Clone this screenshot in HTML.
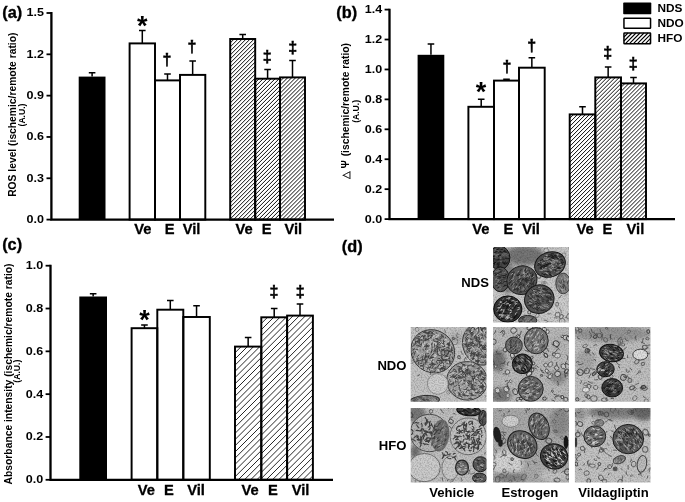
<!DOCTYPE html>
<html><head><meta charset="utf-8"><title>Figure</title>
<style>html,body{margin:0;padding:0;background:#fff}svg{display:block}</style></head><body>
<svg width="685" height="502" viewBox="0 0 685 502" font-family="Liberation Sans, Arial, sans-serif" font-weight="bold" fill="#000">
<defs>
<filter id="grain" x="0" y="0" width="100%" height="100%" color-interpolation-filters="sRGB">
<feTurbulence type="fractalNoise" baseFrequency="0.7" numOctaves="2" seed="7" result="n"/>
<feColorMatrix in="n" type="matrix" values="0 0 0 0 0  0 0 0 0 0  0 0 0 0 0  0.5 0 0 0 -0.2" result="a"/>
<feGaussianBlur in="SourceGraphic" stdDeviation="0.45" result="b"/>
<feComposite in="a" in2="b" operator="over" result="c"/>
<feComposite in="c" in2="SourceGraphic" operator="in"/>
</filter>
<filter id="soft" x="-30%" y="-30%" width="160%" height="160%"><feGaussianBlur stdDeviation="2.2"/></filter>
</defs>
<rect width="685" height="502" fill="#fff"/>
<path d="M92.10 76.60V72.80M88.80 72.80H95.40" stroke="#000" stroke-width="1.5" fill="none"/>
<rect x="78.70" y="76.60" width="26.80" height="143.00" fill="#000"/>
<path d="M142.30 43.40V30.60M139.00 30.60H145.60" stroke="#000" stroke-width="1.5" fill="none"/>
<rect x="129.60" y="43.40" width="25.40" height="176.20" fill="none" stroke="#000" stroke-width="1.95"/>
<path d="M167.50 80.40V74.00M164.20 74.00H170.80" stroke="#000" stroke-width="1.5" fill="none"/>
<rect x="155.00" y="80.40" width="25.00" height="139.20" fill="none" stroke="#000" stroke-width="1.95"/>
<path d="M192.65 74.90V61.00M189.35 61.00H195.95" stroke="#000" stroke-width="1.5" fill="none"/>
<rect x="180.00" y="74.90" width="25.30" height="144.70" fill="none" stroke="#000" stroke-width="1.95"/>
<path d="M242.70 39.00V34.40M239.40 34.40H246.00" stroke="#000" stroke-width="1.5" fill="none"/>
<path d="M230.2 43.0L234.2 39.0M230.2 47.0L238.2 39.0M230.2 51.0L242.2 39.0M230.2 55.0L246.2 39.0M230.2 59.0L250.2 39.0M230.2 63.0L254.2 39.0M230.2 67.0L255.2 42.0M230.2 71.0L255.2 46.0M230.2 75.0L255.2 50.0M230.2 79.0L255.2 54.0M230.2 83.0L255.2 58.0M230.2 87.0L255.2 62.0M230.2 91.0L255.2 66.0M230.2 95.0L255.2 70.0M230.2 99.0L255.2 74.0M230.2 103.0L255.2 78.0M230.2 107.0L255.2 82.0M230.2 111.0L255.2 86.0M230.2 115.0L255.2 90.0M230.2 119.0L255.2 94.0M230.2 123.0L255.2 98.0M230.2 127.0L255.2 102.0M230.2 131.0L255.2 106.0M230.2 135.0L255.2 110.0M230.2 139.0L255.2 114.0M230.2 143.0L255.2 118.0M230.2 147.0L255.2 122.0M230.2 151.0L255.2 126.0M230.2 155.0L255.2 130.0M230.2 159.0L255.2 134.0M230.2 163.0L255.2 138.0M230.2 167.0L255.2 142.0M230.2 171.0L255.2 146.0M230.2 175.0L255.2 150.0M230.2 179.0L255.2 154.0M230.2 183.0L255.2 158.0M230.2 187.0L255.2 162.0M230.2 191.0L255.2 166.0M230.2 195.0L255.2 170.0M230.2 199.0L255.2 174.0M230.2 203.0L255.2 178.0M230.2 207.0L255.2 182.0M230.2 211.0L255.2 186.0M230.2 215.0L255.2 190.0M230.2 219.0L255.2 194.0M233.6 219.6L255.2 198.0M237.6 219.6L255.2 202.0M241.6 219.6L255.2 206.0M245.6 219.6L255.2 210.0M249.6 219.6L255.2 214.0M253.6 219.6L255.2 218.0" stroke="#000" stroke-width="0.95" fill="none"/>
<rect x="230.20" y="39.00" width="25.00" height="180.60" fill="none" stroke="#000" stroke-width="1.95"/>
<path d="M267.60 78.70V69.50M264.30 69.50H270.90" stroke="#000" stroke-width="1.5" fill="none"/>
<path d="M255.2 82.7L259.2 78.7M255.2 86.7L263.2 78.7M255.2 90.7L267.2 78.7M255.2 94.7L271.2 78.7M255.2 98.7L275.2 78.7M255.2 102.7L279.2 78.7M255.2 106.7L280.0 81.9M255.2 110.7L280.0 85.9M255.2 114.7L280.0 89.9M255.2 118.7L280.0 93.9M255.2 122.7L280.0 97.9M255.2 126.7L280.0 101.9M255.2 130.7L280.0 105.9M255.2 134.7L280.0 109.9M255.2 138.7L280.0 113.9M255.2 142.7L280.0 117.9M255.2 146.7L280.0 121.9M255.2 150.7L280.0 125.9M255.2 154.7L280.0 129.9M255.2 158.7L280.0 133.9M255.2 162.7L280.0 137.9M255.2 166.7L280.0 141.9M255.2 170.7L280.0 145.9M255.2 174.7L280.0 149.9M255.2 178.7L280.0 153.9M255.2 182.7L280.0 157.9M255.2 186.7L280.0 161.9M255.2 190.7L280.0 165.9M255.2 194.7L280.0 169.9M255.2 198.7L280.0 173.9M255.2 202.7L280.0 177.9M255.2 206.7L280.0 181.9M255.2 210.7L280.0 185.9M255.2 214.7L280.0 189.9M255.2 218.7L280.0 193.9M258.3 219.6L280.0 197.9M262.3 219.6L280.0 201.9M266.3 219.6L280.0 205.9M270.3 219.6L280.0 209.9M274.3 219.6L280.0 213.9M278.3 219.6L280.0 217.9" stroke="#000" stroke-width="0.95" fill="none"/>
<rect x="255.20" y="78.70" width="24.80" height="140.90" fill="none" stroke="#000" stroke-width="1.95"/>
<path d="M292.50 77.40V60.50M289.20 60.50H295.80" stroke="#000" stroke-width="1.5" fill="none"/>
<path d="M280.0 81.4L284.0 77.4M280.0 85.4L288.0 77.4M280.0 89.4L292.0 77.4M280.0 93.4L296.0 77.4M280.0 97.4L300.0 77.4M280.0 101.4L304.0 77.4M280.0 105.4L305.0 80.4M280.0 109.4L305.0 84.4M280.0 113.4L305.0 88.4M280.0 117.4L305.0 92.4M280.0 121.4L305.0 96.4M280.0 125.4L305.0 100.4M280.0 129.4L305.0 104.4M280.0 133.4L305.0 108.4M280.0 137.4L305.0 112.4M280.0 141.4L305.0 116.4M280.0 145.4L305.0 120.4M280.0 149.4L305.0 124.4M280.0 153.4L305.0 128.4M280.0 157.4L305.0 132.4M280.0 161.4L305.0 136.4M280.0 165.4L305.0 140.4M280.0 169.4L305.0 144.4M280.0 173.4L305.0 148.4M280.0 177.4L305.0 152.4M280.0 181.4L305.0 156.4M280.0 185.4L305.0 160.4M280.0 189.4L305.0 164.4M280.0 193.4L305.0 168.4M280.0 197.4L305.0 172.4M280.0 201.4L305.0 176.4M280.0 205.4L305.0 180.4M280.0 209.4L305.0 184.4M280.0 213.4L305.0 188.4M280.0 217.4L305.0 192.4M281.8 219.6L305.0 196.4M285.8 219.6L305.0 200.4M289.8 219.6L305.0 204.4M293.8 219.6L305.0 208.4M297.8 219.6L305.0 212.4M301.8 219.6L305.0 216.4" stroke="#000" stroke-width="0.95" fill="none"/>
<rect x="280.00" y="77.40" width="25.00" height="142.20" fill="none" stroke="#000" stroke-width="1.95"/>
<path d="M51.4 12.1V219.6H334" stroke="#000" stroke-width="2.3" fill="none"/>
<path d="M46.5 219.60H51.4" stroke="#000" stroke-width="1.8"/>
<text transform="translate(44.00 223.00) scale(1.1 1)" font-size="11.4" text-anchor="end">0.0</text>
<path d="M46.5 178.28H51.4" stroke="#000" stroke-width="1.8"/>
<text transform="translate(44.00 181.68) scale(1.1 1)" font-size="11.4" text-anchor="end">0.3</text>
<path d="M46.5 136.96H51.4" stroke="#000" stroke-width="1.8"/>
<text transform="translate(44.00 140.36) scale(1.1 1)" font-size="11.4" text-anchor="end">0.6</text>
<path d="M46.5 95.64H51.4" stroke="#000" stroke-width="1.8"/>
<text transform="translate(44.00 99.04) scale(1.1 1)" font-size="11.4" text-anchor="end">0.9</text>
<path d="M46.5 54.32H51.4" stroke="#000" stroke-width="1.8"/>
<text transform="translate(44.00 57.72) scale(1.1 1)" font-size="11.4" text-anchor="end">1.2</text>
<path d="M46.5 13.00H51.4" stroke="#000" stroke-width="1.8"/>
<text transform="translate(44.00 16.40) scale(1.1 1)" font-size="11.4" text-anchor="end">1.5</text>
<text x="142.9" y="234.2" font-size="14.7" text-anchor="middle" stroke="#000" stroke-width="0.3">Ve</text>
<text x="169.6" y="234.2" font-size="14.7" text-anchor="middle" stroke="#000" stroke-width="0.3">E</text>
<text x="191.5" y="234.2" font-size="14.7" text-anchor="middle" stroke="#000" stroke-width="0.3">Vil</text>
<text x="244.2" y="234.2" font-size="14.7" text-anchor="middle" stroke="#000" stroke-width="0.3">Ve</text>
<text x="266.6" y="234.2" font-size="14.7" text-anchor="middle" stroke="#000" stroke-width="0.3">E</text>
<text x="293.3" y="234.2" font-size="14.7" text-anchor="middle" stroke="#000" stroke-width="0.3">Vil</text>
<text x="2.3" y="18" font-size="16.3" text-anchor="start" stroke="#000" stroke-width="0.35">(a)</text>
<text transform="translate(16.0 32.6) rotate(-90)" font-size="10.3" text-anchor="end" >ROS level (ischemic/remote ratio)</text>
<text transform="translate(25.0 115) rotate(-90)" font-size="8.6" text-anchor="middle" >(A.U.)</text>
<text x="142.3" y="35.2" font-size="27" text-anchor="middle" >*</text>
<text x="167" y="64.5" font-size="16" text-anchor="middle" stroke="#000" stroke-width="0.5">†</text>
<text x="192" y="51.5" font-size="16" text-anchor="middle" stroke="#000" stroke-width="0.5">†</text>
<text x="267.3" y="61.5" font-size="16" text-anchor="middle" stroke="#000" stroke-width="0.5">‡</text>
<text x="292.7" y="52.5" font-size="16" text-anchor="middle" stroke="#000" stroke-width="0.5">‡</text>
<path d="M430.95 54.80V44.00M427.65 44.00H434.25" stroke="#000" stroke-width="1.5" fill="none"/>
<rect x="417.60" y="54.80" width="26.70" height="164.30" fill="#000"/>
<path d="M481.20 106.80V99.20M477.90 99.20H484.50" stroke="#000" stroke-width="1.5" fill="none"/>
<rect x="468.40" y="106.80" width="25.60" height="112.30" fill="none" stroke="#000" stroke-width="1.95"/>
<path d="M506.50 80.60V79.20M503.20 79.20H509.80" stroke="#000" stroke-width="1.5" fill="none"/>
<rect x="494.00" y="80.60" width="25.00" height="138.50" fill="none" stroke="#000" stroke-width="1.95"/>
<path d="M531.85 67.70V57.80M528.55 57.80H535.15" stroke="#000" stroke-width="1.5" fill="none"/>
<rect x="519.00" y="67.70" width="25.70" height="151.40" fill="none" stroke="#000" stroke-width="1.95"/>
<path d="M582.50 114.40V106.70M579.20 106.70H585.80" stroke="#000" stroke-width="1.5" fill="none"/>
<path d="M569.7 118.4L573.7 114.4M569.7 122.4L577.7 114.4M569.7 126.4L581.7 114.4M569.7 130.4L585.7 114.4M569.7 134.4L589.7 114.4M569.7 138.4L593.7 114.4M569.7 142.4L595.3 116.8M569.7 146.4L595.3 120.8M569.7 150.4L595.3 124.8M569.7 154.4L595.3 128.8M569.7 158.4L595.3 132.8M569.7 162.4L595.3 136.8M569.7 166.4L595.3 140.8M569.7 170.4L595.3 144.8M569.7 174.4L595.3 148.8M569.7 178.4L595.3 152.8M569.7 182.4L595.3 156.8M569.7 186.4L595.3 160.8M569.7 190.4L595.3 164.8M569.7 194.4L595.3 168.8M569.7 198.4L595.3 172.8M569.7 202.4L595.3 176.8M569.7 206.4L595.3 180.8M569.7 210.4L595.3 184.8M569.7 214.4L595.3 188.8M569.7 218.4L595.3 192.8M573.0 219.1L595.3 196.8M577.0 219.1L595.3 200.8M581.0 219.1L595.3 204.8M585.0 219.1L595.3 208.8M589.0 219.1L595.3 212.8M593.0 219.1L595.3 216.8" stroke="#000" stroke-width="0.95" fill="none"/>
<rect x="569.70" y="114.40" width="25.60" height="104.70" fill="none" stroke="#000" stroke-width="1.95"/>
<path d="M608.15 77.40V66.90M604.85 66.90H611.45" stroke="#000" stroke-width="1.5" fill="none"/>
<path d="M595.3 81.4L599.3 77.4M595.3 85.4L603.3 77.4M595.3 89.4L607.3 77.4M595.3 93.4L611.3 77.4M595.3 97.4L615.3 77.4M595.3 101.4L619.3 77.4M595.3 105.4L621.0 79.7M595.3 109.4L621.0 83.7M595.3 113.4L621.0 87.7M595.3 117.4L621.0 91.7M595.3 121.4L621.0 95.7M595.3 125.4L621.0 99.7M595.3 129.4L621.0 103.7M595.3 133.4L621.0 107.7M595.3 137.4L621.0 111.7M595.3 141.4L621.0 115.7M595.3 145.4L621.0 119.7M595.3 149.4L621.0 123.7M595.3 153.4L621.0 127.7M595.3 157.4L621.0 131.7M595.3 161.4L621.0 135.7M595.3 165.4L621.0 139.7M595.3 169.4L621.0 143.7M595.3 173.4L621.0 147.7M595.3 177.4L621.0 151.7M595.3 181.4L621.0 155.7M595.3 185.4L621.0 159.7M595.3 189.4L621.0 163.7M595.3 193.4L621.0 167.7M595.3 197.4L621.0 171.7M595.3 201.4L621.0 175.7M595.3 205.4L621.0 179.7M595.3 209.4L621.0 183.7M595.3 213.4L621.0 187.7M595.3 217.4L621.0 191.7M597.6 219.1L621.0 195.7M601.6 219.1L621.0 199.7M605.6 219.1L621.0 203.7M609.6 219.1L621.0 207.7M613.6 219.1L621.0 211.7M617.6 219.1L621.0 215.7" stroke="#000" stroke-width="0.95" fill="none"/>
<rect x="595.30" y="77.40" width="25.70" height="141.70" fill="none" stroke="#000" stroke-width="1.95"/>
<path d="M633.50 83.40V77.40M630.20 77.40H636.80" stroke="#000" stroke-width="1.5" fill="none"/>
<path d="M621.0 87.4L625.0 83.4M621.0 91.4L629.0 83.4M621.0 95.4L633.0 83.4M621.0 99.4L637.0 83.4M621.0 103.4L641.0 83.4M621.0 107.4L645.0 83.4M621.0 111.4L646.0 86.4M621.0 115.4L646.0 90.4M621.0 119.4L646.0 94.4M621.0 123.4L646.0 98.4M621.0 127.4L646.0 102.4M621.0 131.4L646.0 106.4M621.0 135.4L646.0 110.4M621.0 139.4L646.0 114.4M621.0 143.4L646.0 118.4M621.0 147.4L646.0 122.4M621.0 151.4L646.0 126.4M621.0 155.4L646.0 130.4M621.0 159.4L646.0 134.4M621.0 163.4L646.0 138.4M621.0 167.4L646.0 142.4M621.0 171.4L646.0 146.4M621.0 175.4L646.0 150.4M621.0 179.4L646.0 154.4M621.0 183.4L646.0 158.4M621.0 187.4L646.0 162.4M621.0 191.4L646.0 166.4M621.0 195.4L646.0 170.4M621.0 199.4L646.0 174.4M621.0 203.4L646.0 178.4M621.0 207.4L646.0 182.4M621.0 211.4L646.0 186.4M621.0 215.4L646.0 190.4M621.3 219.1L646.0 194.4M625.3 219.1L646.0 198.4M629.3 219.1L646.0 202.4M633.3 219.1L646.0 206.4M637.3 219.1L646.0 210.4M641.3 219.1L646.0 214.4M645.3 219.1L646.0 218.4" stroke="#000" stroke-width="0.95" fill="none"/>
<rect x="621.00" y="83.40" width="25.00" height="135.70" fill="none" stroke="#000" stroke-width="1.95"/>
<path d="M389.5 8.7V219.1H675" stroke="#000" stroke-width="2.3" fill="none"/>
<path d="M384.6 219.10H389.5" stroke="#000" stroke-width="1.8"/>
<text transform="translate(382.10 222.50) scale(1.1 1)" font-size="11.4" text-anchor="end">0.0</text>
<path d="M384.6 189.17H389.5" stroke="#000" stroke-width="1.8"/>
<text transform="translate(382.10 192.57) scale(1.1 1)" font-size="11.4" text-anchor="end">0.2</text>
<path d="M384.6 159.24H389.5" stroke="#000" stroke-width="1.8"/>
<text transform="translate(382.10 162.64) scale(1.1 1)" font-size="11.4" text-anchor="end">0.4</text>
<path d="M384.6 129.31H389.5" stroke="#000" stroke-width="1.8"/>
<text transform="translate(382.10 132.71) scale(1.1 1)" font-size="11.4" text-anchor="end">0.6</text>
<path d="M384.6 99.39H389.5" stroke="#000" stroke-width="1.8"/>
<text transform="translate(382.10 102.79) scale(1.1 1)" font-size="11.4" text-anchor="end">0.8</text>
<path d="M384.6 69.46H389.5" stroke="#000" stroke-width="1.8"/>
<text transform="translate(382.10 72.86) scale(1.1 1)" font-size="11.4" text-anchor="end">1.0</text>
<path d="M384.6 39.53H389.5" stroke="#000" stroke-width="1.8"/>
<text transform="translate(382.10 42.93) scale(1.1 1)" font-size="11.4" text-anchor="end">1.2</text>
<path d="M384.6 9.60H389.5" stroke="#000" stroke-width="1.8"/>
<text transform="translate(382.10 13.00) scale(1.1 1)" font-size="11.4" text-anchor="end">1.4</text>
<text x="480.8" y="234.2" font-size="14.7" text-anchor="middle" stroke="#000" stroke-width="0.3">Ve</text>
<text x="508.4" y="234.2" font-size="14.7" text-anchor="middle" stroke="#000" stroke-width="0.3">E</text>
<text x="531" y="234.2" font-size="14.7" text-anchor="middle" stroke="#000" stroke-width="0.3">Vil</text>
<text x="585.2" y="234.2" font-size="14.7" text-anchor="middle" stroke="#000" stroke-width="0.3">Ve</text>
<text x="607.4" y="234.2" font-size="14.7" text-anchor="middle" stroke="#000" stroke-width="0.3">E</text>
<text x="635.4" y="234.2" font-size="14.7" text-anchor="middle" stroke="#000" stroke-width="0.3">Vil</text>
<text x="336.3" y="18" font-size="16.3" text-anchor="start" stroke="#000" stroke-width="0.35">(b)</text>
<text transform="translate(349.4 43) rotate(-90)" font-size="10.3" text-anchor="end" ><tspan font-size="9.5" font-weight="normal" stroke="#000" stroke-width="0.25">△</tspan><tspan dx="2.6">Ψ</tspan><tspan dx="1"> (ischemic/remote ratio)</tspan></text>
<text transform="translate(358.9 111.4) rotate(-90)" font-size="8.6" text-anchor="middle" >(A.U.)</text>
<text x="481" y="101.0" font-size="27" text-anchor="middle" >*</text>
<text x="507" y="71.5" font-size="16" text-anchor="middle" stroke="#000" stroke-width="0.5">†</text>
<text x="531.8" y="50.5" font-size="16" text-anchor="middle" stroke="#000" stroke-width="0.5">†</text>
<text x="607.6" y="58.1" font-size="16" text-anchor="middle" stroke="#000" stroke-width="0.5">‡</text>
<text x="633.2" y="69.0" font-size="16" text-anchor="middle" stroke="#000" stroke-width="0.5">‡</text>
<rect x="623.2" y="2.6" width="28.1" height="11.7" rx="0.8" fill="#000"/>
<rect x="623.95" y="18.15" width="26.6" height="10.2" rx="0.5" fill="#fff" stroke="#000" stroke-width="1.5"/>
<path d="M624.0 37.0L628.0 33.0M624.0 41.0L632.0 33.0M625.2 43.8L636.0 33.0M629.2 43.8L640.0 33.0M633.2 43.8L644.0 33.0M637.2 43.8L648.0 33.0M641.2 43.8L650.5 34.4M645.2 43.8L650.5 38.4M649.2 43.8L650.5 42.4" stroke="#000" stroke-width="1.1" fill="none"/>
<rect x="623.95" y="32.95" width="26.6" height="10.8" rx="0.5" fill="none" stroke="#000" stroke-width="1.5"/>
<text x="657.5" y="12.3" font-size="11.8" text-anchor="start" >NDS</text>
<text x="657.5" y="26.9" font-size="11.8" text-anchor="start" >NDO</text>
<text x="657.5" y="41.5" font-size="11.8" text-anchor="start" >HFO</text>
<path d="M93.15 296.50V293.80M89.85 293.80H96.45" stroke="#000" stroke-width="1.5" fill="none"/>
<rect x="79.30" y="296.50" width="27.70" height="183.30" fill="#000"/>
<path d="M144.45 328.20V325.00M141.15 325.00H147.75" stroke="#000" stroke-width="1.5" fill="none"/>
<rect x="131.60" y="328.20" width="25.70" height="151.60" fill="none" stroke="#000" stroke-width="1.95"/>
<path d="M170.30 309.70V300.50M167.00 300.50H173.60" stroke="#000" stroke-width="1.5" fill="none"/>
<rect x="157.30" y="309.70" width="26.00" height="170.10" fill="none" stroke="#000" stroke-width="1.95"/>
<path d="M196.55 317.00V305.70M193.25 305.70H199.85" stroke="#000" stroke-width="1.5" fill="none"/>
<rect x="183.30" y="317.00" width="26.50" height="162.80" fill="none" stroke="#000" stroke-width="1.95"/>
<path d="M248.15 346.60V337.50M244.85 337.50H251.45" stroke="#000" stroke-width="1.5" fill="none"/>
<path d="M235.0 352.8L241.2 346.6M235.0 359.0L247.4 346.6M235.0 365.2L253.6 346.6M235.0 371.4L259.8 346.6M235.0 377.6L261.3 351.3M235.0 383.8L261.3 357.5M235.0 390.0L261.3 363.7M235.0 396.2L261.3 369.9M235.0 402.4L261.3 376.1M235.0 408.6L261.3 382.3M235.0 414.8L261.3 388.5M235.0 421.0L261.3 394.7M235.0 427.2L261.3 400.9M235.0 433.4L261.3 407.1M235.0 439.6L261.3 413.3M235.0 445.8L261.3 419.5M235.0 452.0L261.3 425.7M235.0 458.2L261.3 431.9M235.0 464.4L261.3 438.1M235.0 470.6L261.3 444.3M235.0 476.8L261.3 450.5M238.2 479.8L261.3 456.7M244.4 479.8L261.3 462.9M250.6 479.8L261.3 469.1M256.8 479.8L261.3 475.3" stroke="#000" stroke-width="0.85" fill="none"/>
<rect x="235.00" y="346.60" width="26.30" height="133.20" fill="none" stroke="#000" stroke-width="1.95"/>
<path d="M274.20 317.30V308.40M270.90 308.40H277.50" stroke="#000" stroke-width="1.5" fill="none"/>
<path d="M261.3 323.5L267.5 317.3M261.3 329.7L273.7 317.3M261.3 335.9L279.9 317.3M261.3 342.1L286.1 317.3M261.3 348.3L287.1 322.5M261.3 354.5L287.1 328.7M261.3 360.7L287.1 334.9M261.3 366.9L287.1 341.1M261.3 373.1L287.1 347.3M261.3 379.3L287.1 353.5M261.3 385.5L287.1 359.7M261.3 391.7L287.1 365.9M261.3 397.9L287.1 372.1M261.3 404.1L287.1 378.3M261.3 410.3L287.1 384.5M261.3 416.5L287.1 390.7M261.3 422.7L287.1 396.9M261.3 428.9L287.1 403.1M261.3 435.1L287.1 409.3M261.3 441.3L287.1 415.5M261.3 447.5L287.1 421.7M261.3 453.7L287.1 427.9M261.3 459.9L287.1 434.1M261.3 466.1L287.1 440.3M261.3 472.3L287.1 446.5M261.3 478.5L287.1 452.7M266.2 479.8L287.1 458.9M272.4 479.8L287.1 465.1M278.6 479.8L287.1 471.3M284.8 479.8L287.1 477.5" stroke="#000" stroke-width="0.85" fill="none"/>
<rect x="261.30" y="317.30" width="25.80" height="162.50" fill="none" stroke="#000" stroke-width="1.95"/>
<path d="M300.00 315.60V304.00M296.70 304.00H303.30" stroke="#000" stroke-width="1.5" fill="none"/>
<path d="M287.1 321.8L293.3 315.6M287.1 328.0L299.5 315.6M287.1 334.2L305.7 315.6M287.1 340.4L311.9 315.6M287.1 346.6L312.9 320.8M287.1 352.8L312.9 327.0M287.1 359.0L312.9 333.2M287.1 365.2L312.9 339.4M287.1 371.4L312.9 345.6M287.1 377.6L312.9 351.8M287.1 383.8L312.9 358.0M287.1 390.0L312.9 364.2M287.1 396.2L312.9 370.4M287.1 402.4L312.9 376.6M287.1 408.6L312.9 382.8M287.1 414.8L312.9 389.0M287.1 421.0L312.9 395.2M287.1 427.2L312.9 401.4M287.1 433.4L312.9 407.6M287.1 439.6L312.9 413.8M287.1 445.8L312.9 420.0M287.1 452.0L312.9 426.2M287.1 458.2L312.9 432.4M287.1 464.4L312.9 438.6M287.1 470.6L312.9 444.8M287.1 476.8L312.9 451.0M290.3 479.8L312.9 457.2M296.5 479.8L312.9 463.4M302.7 479.8L312.9 469.6M308.9 479.8L312.9 475.8" stroke="#000" stroke-width="0.85" fill="none"/>
<rect x="287.10" y="315.60" width="25.80" height="164.20" fill="none" stroke="#000" stroke-width="1.95"/>
<path d="M50.5 264.8V479.8H333" stroke="#000" stroke-width="2.3" fill="none"/>
<path d="M45.6 479.80H50.5" stroke="#000" stroke-width="1.8"/>
<text transform="translate(43.10 483.20) scale(1.1 1)" font-size="11.4" text-anchor="end">0.0</text>
<path d="M45.6 436.98H50.5" stroke="#000" stroke-width="1.8"/>
<text transform="translate(43.10 440.38) scale(1.1 1)" font-size="11.4" text-anchor="end">0.2</text>
<path d="M45.6 394.16H50.5" stroke="#000" stroke-width="1.8"/>
<text transform="translate(43.10 397.56) scale(1.1 1)" font-size="11.4" text-anchor="end">0.4</text>
<path d="M45.6 351.34H50.5" stroke="#000" stroke-width="1.8"/>
<text transform="translate(43.10 354.74) scale(1.1 1)" font-size="11.4" text-anchor="end">0.6</text>
<path d="M45.6 308.52H50.5" stroke="#000" stroke-width="1.8"/>
<text transform="translate(43.10 311.92) scale(1.1 1)" font-size="11.4" text-anchor="end">0.8</text>
<path d="M45.6 265.70H50.5" stroke="#000" stroke-width="1.8"/>
<text transform="translate(43.10 269.10) scale(1.1 1)" font-size="11.4" text-anchor="end">1.0</text>
<text x="146.3" y="495.2" font-size="14.7" text-anchor="middle" stroke="#000" stroke-width="0.3">Ve</text>
<text x="168.8" y="495.2" font-size="14.7" text-anchor="middle" stroke="#000" stroke-width="0.3">E</text>
<text x="196" y="495.2" font-size="14.7" text-anchor="middle" stroke="#000" stroke-width="0.3">Vil</text>
<text x="250" y="495.2" font-size="14.7" text-anchor="middle" stroke="#000" stroke-width="0.3">Ve</text>
<text x="272.8" y="495.2" font-size="14.7" text-anchor="middle" stroke="#000" stroke-width="0.3">E</text>
<text x="300.5" y="495.2" font-size="14.7" text-anchor="middle" stroke="#000" stroke-width="0.3">Vil</text>
<text x="2.2" y="249.5" font-size="16.3" text-anchor="start" stroke="#000" stroke-width="0.35">(c)</text>
<text transform="translate(11.5 263.5) rotate(-90)" font-size="10.3" text-anchor="end" >Absorbance intensity (ischemic/remote ratio)</text>
<text transform="translate(19.7 371.2) rotate(-90)" font-size="8.6" text-anchor="middle" >(A.U.)</text>
<text x="144.5" y="329.0" font-size="27" text-anchor="middle" >*</text>
<text x="274" y="296.5" font-size="16" text-anchor="middle" stroke="#000" stroke-width="0.5">‡</text>
<text x="300.2" y="296.5" font-size="16" text-anchor="middle" stroke="#000" stroke-width="0.5">‡</text>
<text x="341.8" y="252" font-size="16.3" text-anchor="start" stroke="#000" stroke-width="0.35">(d)</text>
<clipPath id="c0"><rect x="493" y="247" width="76.00" height="75.50"/></clipPath>
<g clip-path="url(#c0)" filter="url(#grain)">
<rect x="492" y="246" width="78.00" height="77.50" fill="#c8c8c8"/>
<ellipse cx="524.4" cy="255.4" rx="19.8" ry="9.9" fill="#767676" transform="rotate(0 524.4 255.4)" filter="url(#soft)"/>
<ellipse cx="507.8" cy="276.1" rx="6.6" ry="18.2" fill="#828282" transform="rotate(0 507.8 276.1)" filter="url(#soft)"/>
<ellipse cx="560.8" cy="309.1" rx="9.9" ry="13.2" fill="#cdcdcd" transform="rotate(0 560.8 309.1)" filter="url(#soft)"/>
<ellipse cx="557.2" cy="304.2" rx="2.0" ry="1.4" transform="rotate(92 557.2 304.2)" fill="none" stroke="#737373" stroke-width="1.01"/>
<ellipse cx="537.3" cy="315.6" rx="2.2" ry="1.6" transform="rotate(136 537.3 315.6)" fill="none" stroke="#7e7e7e" stroke-width="0.80"/>
<ellipse cx="562.1" cy="321.2" rx="2.8" ry="2.7" transform="rotate(56 562.1 321.2)" fill="none" stroke="#838383" stroke-width="1.06"/>
<ellipse cx="545.0" cy="282.6" rx="1.4" ry="1.1" transform="rotate(110 545.0 282.6)" fill="none" stroke="#8d8d8d" stroke-width="1.09"/>
<ellipse cx="529.3" cy="312.3" rx="1.7" ry="1.6" transform="rotate(99 529.3 312.3)" fill="none" stroke="#606060" stroke-width="0.99"/>
<ellipse cx="523.3" cy="309.3" rx="2.5" ry="1.5" transform="rotate(89 523.3 309.3)" fill="none" stroke="#8a8a8a" stroke-width="0.80"/>
<ellipse cx="507.5" cy="289.8" rx="1.7" ry="1.7" transform="rotate(145 507.5 289.8)" fill="none" stroke="#757575" stroke-width="0.73"/>
<ellipse cx="563.9" cy="255.2" rx="2.3" ry="2.0" transform="rotate(99 563.9 255.2)" fill="none" stroke="#888888" stroke-width="0.92"/>
<ellipse cx="538.3" cy="276.1" rx="2.4" ry="1.7" transform="rotate(34 538.3 276.1)" fill="none" stroke="#686868" stroke-width="0.95"/>
<ellipse cx="542.9" cy="283.0" rx="1.4" ry="1.2" transform="rotate(158 542.9 283.0)" fill="none" stroke="#8d8d8d" stroke-width="1.04"/>
<ellipse cx="561.3" cy="316.7" rx="2.3" ry="1.7" transform="rotate(127 561.3 316.7)" fill="none" stroke="#6d6d6d" stroke-width="1.02"/>
<ellipse cx="557.6" cy="314.6" rx="2.4" ry="2.3" transform="rotate(104 557.6 314.6)" fill="none" stroke="#767676" stroke-width="0.96"/>
<ellipse cx="568.7" cy="316.2" rx="2.8" ry="1.8" transform="rotate(110 568.7 316.2)" fill="none" stroke="#777777" stroke-width="0.95"/>
<ellipse cx="546.0" cy="250.4" rx="2.3" ry="2.3" transform="rotate(96 546.0 250.4)" fill="none" stroke="#818181" stroke-width="0.71"/>
<path d="M553.9 317.7Q553.9 317.0 557.1 318.2M519.6 260.6Q517.0 262.5 517.5 260.6M544.1 320.0Q547.4 320.1 547.9 321.4M526.6 260.2Q525.3 260.5 523.4 260.8M535.6 247.9Q533.7 245.6 535.4 244.9M518.4 265.1Q518.9 264.2 516.4 262.7M546.3 278.6Q545.6 276.7 545.2 276.8M550.4 313.7Q548.8 315.0 547.5 313.8M559.5 308.3Q561.0 309.0 561.4 313.0M548.1 321.5Q545.8 321.5 544.9 323.8M547.5 247.2Q546.7 244.0 549.1 244.0M523.1 253.1Q524.1 256.2 522.6 256.5M564.9 317.9Q566.8 318.1 566.7 316.7M561.6 295.3Q559.2 297.0 559.1 297.9" fill="none" stroke="#696969" stroke-width="0.8" stroke-linecap="round"/>
<g transform="rotate(0 499.6 257.9)">
<ellipse cx="499.6" cy="257.9" rx="10.3" ry="11.9" fill="#484848" stroke="#141414" stroke-width="1.0"/>
<path d="M497.8 251.5L500.2 251.0M493.3 253.6L495.1 253.5M504.4 251.4L506.1 252.3M503.7 262.3L504.7 261.9M500.3 261.7L501.9 261.1M493.5 262.6L495.3 263.5M496.4 254.8L499.3 254.3M500.3 256.1L501.7 255.5M494.7 249.5L497.5 249.6M493.1 254.1L495.4 255.1M499.4 248.1L501.4 247.5M502.4 251.6L504.0 252.2M495.1 257.7L497.5 256.4M497.7 264.1L498.8 264.5M494.2 261.4L496.4 262.5M493.8 263.9L496.6 264.0M492.7 259.6L493.9 259.3M493.9 251.6L496.5 250.4M505.2 255.0L507.7 256.4M495.9 255.8L498.2 254.6M499.0 256.2L501.5 257.7M502.7 255.0L504.9 254.2M500.1 258.5L501.2 258.4M502.0 254.5L503.5 253.7M502.4 257.7L503.7 257.9M507.0 254.8L508.5 254.5M501.7 259.2L503.8 259.0M496.6 249.4L498.4 249.4M497.4 250.2L498.7 249.4M502.7 255.9L504.3 255.8M493.3 254.2L495.2 254.4M497.2 254.9L498.9 255.4M504.2 253.8L506.6 253.7" stroke="#7a7a7a" stroke-width="0.7" fill="none" stroke-linecap="round"/>
<path d="M502.5 262.7L504.8 263.6M498.3 256.5L501.0 255.3M494.4 262.5L496.3 262.1M503.1 259.2L504.3 259.2M496.9 263.7L499.4 262.4M498.1 255.9L500.3 254.7M505.1 258.2L507.0 258.3M499.0 266.9L500.8 266.8M496.8 264.4L499.2 264.4M503.3 251.3L505.8 252.1M506.7 262.7L507.9 262.0M507.6 258.8L508.9 258.6M504.3 250.5L505.2 250.7M502.9 261.8L503.9 262.3M498.1 259.3L499.4 259.3M494.4 252.4L496.3 251.5M491.8 256.8L494.2 255.9M499.8 251.0L500.9 251.4M500.9 249.5L502.5 249.4M493.6 261.3L496.1 262.8M505.9 263.1L506.9 263.5M501.6 259.2L502.7 259.0M497.3 267.4L499.2 268.7M498.1 264.3L499.2 263.7M503.2 263.1L504.3 263.3M493.7 265.2L495.3 264.3M498.9 252.1L500.4 251.6M495.6 260.0L498.5 259.9M492.7 259.8L494.1 259.8M495.1 252.4L497.3 251.5M496.2 249.8L498.6 249.1M502.6 257.5L503.6 258.0M492.9 256.6L494.1 256.5M498.0 266.6L499.9 267.7M500.9 252.4L502.9 252.1M493.2 263.0L494.7 263.6M504.2 264.3L506.1 264.0M492.3 259.1L494.6 258.7M497.2 266.3L499.2 265.2M491.4 259.6L493.1 258.5M504.5 251.6L506.7 252.3M497.2 249.6L499.6 248.8M504.3 262.2L505.6 261.9M493.5 263.8L494.9 263.6" stroke="#111111" stroke-width="0.8" fill="none" stroke-linecap="round"/>
</g>
<g transform="rotate(0 500.4 279.4)">
<ellipse cx="500.4" cy="279.4" rx="9.1" ry="12.4" fill="#565656" stroke="#1a1a1a" stroke-width="1.0"/>
<path d="M501.1 281.7L499.8 281.8M495.4 273.6L493.9 273.8M497.2 285.1L495.2 285.2M506.7 279.6L504.6 281.1M497.1 278.7L495.1 279.9M504.9 275.9L503.5 277.1M505.6 271.9L503.9 272.7M499.8 270.8L497.8 270.5M497.4 271.4L496.0 271.4M500.8 287.0L499.3 287.0M499.3 278.5L497.9 279.6M498.2 279.2L495.7 278.8M494.5 275.6L492.4 276.9M500.7 273.1L498.4 273.2M499.0 281.1L497.2 282.8M498.4 274.2L496.4 274.9M501.4 287.9L500.5 288.6M498.3 282.9L495.6 284.0M496.7 284.0L494.9 284.9M500.1 279.8L497.9 281.4M500.1 275.3L497.6 276.3M500.4 281.0L499.1 280.7M499.1 275.4L496.9 277.2M499.5 272.7L498.5 272.9M499.0 274.9L497.4 275.2M503.9 278.5L502.3 278.7M502.8 272.1L501.2 271.4M503.3 279.4L502.4 280.3M505.5 277.0L503.1 276.1M500.3 274.8L498.5 275.0M500.0 285.0L497.1 285.9M506.0 276.9L503.8 277.5M500.5 280.7L497.7 281.1M502.7 271.0L501.5 270.5M506.0 275.7L504.6 275.2M500.4 288.7L498.0 289.5" stroke="#888888" stroke-width="0.7" fill="none" stroke-linecap="round"/>
<path d="M498.9 278.2L497.5 278.6M507.6 276.5L505.6 275.8M499.4 274.6L498.4 275.1M505.2 278.2L503.4 277.5M506.3 285.4L504.7 285.1M499.8 281.0L498.5 282.2M500.0 277.2L498.9 276.8M500.1 277.1L497.2 276.5M502.0 281.4L500.1 283.0M501.1 277.5L499.5 278.6M499.1 287.0L497.8 287.9M495.9 274.6L494.6 275.3M500.9 276.1L499.4 276.0M504.9 285.3L503.0 286.8M499.7 283.7L497.6 283.3M506.0 285.5L504.3 285.8M504.1 279.8L501.7 279.8M505.6 277.2L503.1 278.3M497.5 285.3L495.2 285.1M501.1 280.7L500.0 280.7M498.3 272.7L496.3 274.6M496.6 274.4L494.8 275.7M502.7 270.8L500.6 272.8M504.0 282.5L502.8 283.3M500.0 272.6L498.2 273.5M501.3 271.4L499.1 272.5M506.7 281.3L504.2 281.5M505.7 275.7L503.4 275.5M506.8 274.3L504.5 275.3M501.9 283.3L500.6 283.3M505.8 276.8L502.9 277.2M501.8 270.1L499.4 269.5M496.2 273.2L493.8 273.7M503.6 275.9L500.9 274.9M501.3 271.1L500.5 271.8" stroke="#1f1f1f" stroke-width="0.8" fill="none" stroke-linecap="round"/>
</g>
<g transform="rotate(-25 521.9 280.2)">
<ellipse cx="521.9" cy="280.2" rx="15.2" ry="14.1" fill="#5a5a5a" stroke="#1e1e1e" stroke-width="1.0"/>
<path d="M523.5 284.0L522.5 284.5M529.1 270.5L527.0 272.4M521.1 290.3L520.1 291.4M512.9 275.3L511.8 277.5M526.0 286.1L524.1 286.8M514.9 283.4L512.7 284.8M528.7 282.8L527.8 283.5M511.1 276.0L510.2 276.7M529.4 272.0L527.9 272.2M531.1 275.6L529.3 277.7M528.3 274.5L527.1 274.6M534.5 281.2L533.7 282.8M522.6 276.2L520.3 277.2M527.5 274.7L525.1 274.7M525.9 286.2L524.2 287.5M519.9 288.6L518.3 288.6M523.0 270.7L521.6 271.0M531.7 284.9L529.3 285.7M516.8 278.6L515.9 279.7M525.2 273.7L522.7 273.8M531.4 272.0L529.3 273.9M532.0 280.5L529.2 281.3M518.5 271.0L517.0 272.8M530.2 286.7L528.6 287.3M512.3 282.9L511.0 284.4M530.6 276.0L529.4 276.1M526.6 277.8L523.9 278.2M526.7 280.8L524.5 282.5M513.1 279.9L512.1 280.5M511.4 280.8L510.3 281.5M528.2 273.3L526.3 273.8M527.6 275.3L526.7 276.1M529.3 276.2L528.0 277.4M528.1 285.0L526.6 286.2M531.6 278.9L529.5 279.8M526.7 276.6L523.8 276.5M521.6 274.8L520.4 277.4M524.9 272.7L523.0 274.3M520.7 289.4L518.1 290.1M515.5 273.0L514.0 275.5M514.6 282.2L513.2 283.2M522.8 286.6L520.8 287.3M531.2 278.5L530.4 279.9M516.0 269.8L515.4 270.7M524.8 287.3L522.3 287.7M531.7 275.5L530.0 276.2M517.0 269.9L515.2 270.3M514.6 277.7L513.1 278.7M527.0 273.4L525.6 275.5M529.8 278.0L528.0 279.2M521.4 278.5L519.7 280.6M527.8 274.7L527.2 275.5M528.8 287.5L527.3 288.5M512.1 284.2L509.6 284.1M517.5 286.4L516.1 286.6M533.9 281.8L532.7 282.9M515.5 275.1L514.4 275.3M509.9 278.8L508.1 279.6M523.4 273.2L521.3 274.3M517.5 269.1L515.7 270.4M518.0 285.3L516.3 285.2M529.2 273.1L527.7 274.5" stroke="#a0a0a0" stroke-width="0.7" fill="none" stroke-linecap="round"/>
<path d="M529.6 287.5L528.8 288.2M519.3 279.9L517.7 280.6M522.5 273.9L520.5 274.6M520.8 283.0L520.1 284.0M514.7 272.0L513.5 274.3M511.3 276.7L508.6 277.7M518.7 278.4L516.3 279.6M527.1 280.2L525.0 280.3M531.4 284.4L530.2 285.3M510.5 277.3L508.5 279.0M534.0 279.3L533.1 280.7M521.7 278.5L520.3 278.6M520.0 273.2L518.9 273.3M524.9 287.2L523.9 288.0M526.4 288.7L525.5 289.1M510.4 276.4L509.4 277.0M531.7 286.4L529.6 288.4M534.1 282.6L532.6 283.2M518.2 283.6L517.0 284.2M530.5 277.4L528.1 277.5M522.3 286.6L521.5 287.8M523.7 280.2L521.7 280.5M520.4 281.6L518.0 283.2M522.0 284.7L520.2 285.7M513.0 285.6L511.2 285.5M515.8 281.2L514.0 282.7M520.6 281.5L518.8 282.2M529.1 281.9L526.2 282.4M524.0 278.4L523.0 278.6M526.3 288.5L524.7 290.1M512.1 284.4L510.4 286.2M528.8 287.2L527.7 288.7M519.6 283.8L516.9 283.7M530.0 271.5L528.5 272.9M517.7 269.3L515.2 269.2M534.6 277.5L532.3 277.9M534.2 281.0L532.3 281.2M511.8 279.2L510.2 281.1M532.8 274.4L531.7 276.2M528.4 289.6L527.1 289.8M529.4 283.4L527.2 283.3M522.5 284.2L521.0 286.4M529.7 271.9L528.5 273.7M530.8 276.4L529.1 276.6M528.1 280.4L526.5 280.6M530.7 284.5L529.5 285.8M522.2 274.4L519.7 274.4M514.4 285.2L512.4 286.4M534.1 279.7L532.7 280.6M518.3 285.2L516.5 287.5M514.6 280.8L513.5 281.1M525.8 281.1L524.7 282.4M524.2 273.2L523.5 274.1M526.4 280.3L523.7 281.5M526.9 282.3L525.1 284.4M520.3 290.2L518.2 291.0M512.4 275.9L511.1 277.4M531.7 287.3L530.2 289.6M515.8 289.6L514.8 290.8M523.8 279.5L522.8 279.7M522.7 272.2L521.5 273.0M525.8 270.3L523.8 271.5M530.1 273.7L528.0 274.9M512.7 272.5L511.4 273.1M522.5 291.7L520.4 291.9M526.5 281.4L524.6 282.7M534.2 279.4L532.4 281.0M533.3 285.8L532.4 286.4M522.2 273.5L519.8 274.1M524.0 279.8L522.0 280.0M521.4 289.5L519.5 291.4M515.0 285.9L513.0 287.7M526.3 282.7L524.3 283.5M531.0 279.8L529.2 281.5M528.2 285.6L527.5 287.0M514.5 278.4L513.4 279.0M525.5 275.7L522.6 276.1M516.0 271.1L514.7 273.4M518.4 268.9L517.4 270.8M530.2 286.9L528.2 286.8M513.9 282.7L512.3 283.5M534.9 278.7L534.0 279.8M521.2 278.2L518.9 278.5M532.4 283.3L530.0 283.5M512.4 274.1L510.7 275.3M517.4 290.2L515.8 291.2M515.2 286.4L513.5 288.4" stroke="#282828" stroke-width="0.8" fill="none" stroke-linecap="round"/>
</g>
<g transform="rotate(-20 550.0 264.5)">
<ellipse cx="550.0" cy="264.5" rx="15.7" ry="12.4" fill="#505050" stroke="#141414" stroke-width="1.0"/>
<path d="M542.4 268.6L543.1 269.5M557.4 264.0L559.2 265.9M551.3 265.1L552.1 265.9M550.3 269.4L553.0 268.8M558.3 267.4L560.7 268.1M545.9 258.9L547.2 260.5M540.1 260.3L542.3 261.1M553.3 260.6L555.3 260.6M553.5 257.3L555.2 259.2M555.5 266.5L557.0 266.3M557.9 263.1L558.7 263.8M552.3 268.6L554.2 269.8M551.9 263.4L554.4 264.8M543.2 267.5L545.1 269.6M548.3 258.4L551.2 258.2M548.0 274.9L549.4 275.7M547.7 256.4L549.0 256.7M551.8 254.8L553.4 256.0M559.6 270.0L562.1 270.1M550.8 260.6L552.6 260.4M538.2 259.4L540.0 259.1M560.3 265.9L562.4 266.4M554.3 268.0L555.9 270.1M548.4 269.7L549.4 269.9M544.3 272.5L545.6 272.6M541.3 265.4L542.7 265.1M542.4 269.8L544.2 270.9M543.4 271.5L544.9 272.5M549.5 254.4L551.1 254.9M558.2 266.0L559.2 267.4M550.0 267.5L551.9 267.2M555.4 262.9L557.3 263.0M550.5 264.4L551.7 265.1M549.4 254.5L551.7 255.9M551.5 266.4L553.2 267.6M559.7 259.9L561.0 261.7M554.2 270.8L556.8 272.1M548.3 269.2L549.5 270.8M559.9 257.6L561.5 257.7M547.8 268.1L549.4 269.4M548.9 261.0L550.2 262.5M553.0 261.8L555.9 261.2M542.4 259.2L545.2 259.5M543.7 265.1L545.8 266.4M551.0 261.4L552.6 263.6M544.4 272.5L545.4 273.0M542.8 261.0L545.6 260.7M558.8 259.3L559.7 260.4M559.9 265.3L561.1 265.7M554.8 261.0L556.9 262.3M553.0 270.3L555.1 270.5M552.0 272.3L553.7 271.9M553.5 262.7L555.2 264.4M541.5 266.2L542.9 267.7M551.6 267.0L553.2 267.5M547.5 256.9L548.6 256.8M558.4 268.6L560.8 268.3M553.8 263.0L555.2 262.8M540.2 258.6L541.9 258.7M555.8 262.0L557.4 261.6M548.7 258.2L549.8 259.1M543.3 266.6L545.0 267.6M553.1 274.5L556.0 274.3M540.3 259.9L541.3 260.8M545.6 257.2L547.2 258.4M543.7 257.7L545.0 257.3M550.6 260.5L551.7 261.1M538.3 266.4L541.0 267.7M558.4 272.7L560.1 272.4M548.5 265.5L549.9 265.7M558.4 257.9L560.3 258.4M547.2 255.7L549.8 257.3" stroke="#a5a5a5" stroke-width="0.7" fill="none" stroke-linecap="round"/>
<path d="M545.6 273.5L547.6 275.7M550.3 256.8L551.7 256.6M554.9 259.4L556.4 259.5M556.1 270.8L557.2 270.8M553.8 258.3L555.7 260.4M538.2 260.8L539.4 261.4M547.9 255.2L548.7 256.0M543.8 264.3L545.6 265.1M561.6 263.6L563.1 264.0M545.2 270.0L547.5 271.7M557.1 270.8L558.1 271.2M556.3 270.0L558.4 271.6M542.6 268.9L544.5 269.5M554.7 255.0L556.9 255.4M554.3 258.0L556.2 258.3M548.2 262.5L550.6 264.3M562.6 264.6L563.5 265.6M560.5 265.4L562.2 267.4M553.7 258.5L555.3 259.1M539.6 259.8L541.7 261.3M542.1 263.2L545.0 263.2M538.8 259.1L540.8 261.1M560.7 269.0L561.9 268.9M551.2 255.7L553.1 257.4M540.1 264.1L541.2 263.9M555.7 260.6L556.6 261.4M539.4 270.1L541.2 272.4M561.3 267.5L562.3 267.3M551.8 254.9L554.5 255.9M557.6 267.0L559.3 267.1M546.2 263.8L547.9 264.0M554.6 257.8L555.7 257.7M540.7 262.3L541.8 262.2M554.3 270.2L557.0 270.4M557.1 258.2L558.8 258.8M541.5 259.6L542.5 260.3M552.1 271.0L553.7 271.6M549.7 262.3L551.0 264.0M546.4 263.4L548.6 264.2M545.7 272.6L547.4 274.7M561.9 265.7L563.7 267.4M558.7 260.9L559.7 261.8M558.7 260.1L560.0 260.1M542.6 264.6L543.8 265.6M558.0 257.4L558.9 258.0M552.7 272.3L554.0 272.0M557.4 266.0L558.7 266.0M543.0 272.7L544.4 273.8M539.8 263.7L541.7 264.1M553.0 268.7L555.2 268.7M557.6 259.4L559.0 259.9M544.3 259.1L546.5 259.6M553.4 256.4L554.3 256.9M550.7 259.7L553.3 261.2M543.8 263.9L545.3 263.6M544.2 256.8L545.0 257.6M539.4 264.7L540.7 265.4M542.2 257.7L544.3 257.5M541.3 263.6L542.7 264.6M544.7 264.8L546.8 264.6M561.4 260.7L563.4 260.9M541.3 272.1L542.8 271.9M557.2 257.7L558.9 258.6M554.6 256.9L556.2 256.6M545.7 262.3L546.7 263.3" stroke="#191919" stroke-width="0.8" fill="none" stroke-linecap="round"/>
</g>
<g transform="rotate(-30 539.3 299.2)">
<ellipse cx="539.3" cy="299.2" rx="14.9" ry="14.1" fill="#565656" stroke="#1a1a1a" stroke-width="1.0"/>
<path d="M529.7 302.5L531.5 303.8M536.6 306.1L537.7 307.5M540.1 295.0L540.8 296.3M546.5 295.0L547.2 296.6M544.6 291.3L546.2 292.7M539.2 299.1L540.2 299.7M538.1 292.6L540.4 293.7M547.3 304.9L547.8 306.3M535.8 291.8L537.1 292.6M529.0 304.1L530.5 306.7M537.4 307.7L539.0 309.8M537.8 288.4L540.0 289.8M549.6 298.7L550.5 301.0M538.8 288.8L540.9 289.6M546.8 291.4L548.4 293.1M532.4 290.9L532.9 292.4M535.4 292.2L535.6 294.6M535.4 305.7L536.0 306.9M536.1 295.1L537.3 297.8M531.5 302.3L533.0 303.5M542.4 292.9L543.1 293.8M542.1 294.2L542.4 296.5M542.5 310.1L543.3 310.9M547.4 306.0L548.7 307.5M534.7 298.1L536.6 300.0M536.3 290.7L536.5 292.2M534.6 305.1L535.8 305.5M534.7 299.7L534.9 302.3M544.1 307.9L544.5 309.5M547.1 305.8L549.2 307.3M543.0 288.2L545.8 289.3M530.3 295.4L532.0 297.4M539.2 301.3L540.0 302.8M540.2 308.1L542.7 309.7M533.8 294.5L534.2 296.1M546.9 300.0L548.7 302.2M538.2 289.6L538.6 292.1M550.7 303.7L550.8 304.7M539.2 306.0L540.5 306.9M529.6 304.1L530.4 306.4M548.6 305.4L549.4 306.4M535.9 306.6L536.4 307.8M544.3 292.2L545.2 294.5M540.5 292.1L541.5 293.5M544.4 297.1L546.2 297.8M546.7 292.8L548.8 293.8M541.1 306.8L542.7 308.0M543.0 296.2L543.6 298.7M542.0 292.6L544.6 294.1M546.6 290.4L548.6 291.6M543.9 307.1L544.8 308.3M534.1 296.5L534.6 298.0M546.9 294.1L547.8 296.5M538.2 288.0L538.7 289.1M529.3 296.4L529.7 298.5M532.0 292.6L533.2 293.3M542.8 293.4L543.8 293.9M529.4 297.5L530.7 299.5M528.4 297.9L530.7 298.8M548.9 299.3L550.1 299.7M532.3 302.9L534.6 303.8M535.1 305.8L535.3 307.4M547.9 297.5L548.0 298.9M545.4 308.8L545.9 309.9M539.0 295.6L539.3 296.7" stroke="#a0a0a0" stroke-width="0.7" fill="none" stroke-linecap="round"/>
<path d="M549.9 302.6L551.7 304.0M531.9 293.4L532.6 294.4M545.5 303.9L547.1 305.1M534.6 298.8L536.3 301.1M546.7 299.9L547.7 302.4M546.3 300.5L547.6 303.1M531.0 304.2L531.1 306.3M535.7 294.4L536.3 295.4M533.8 300.8L535.5 302.5M527.4 295.9L528.2 296.8M544.6 308.1L545.7 309.9M544.4 303.9L545.2 305.5M532.8 304.7L533.8 306.6M547.2 292.2L548.4 293.2M548.1 291.3L548.9 292.0M541.8 289.4L542.3 290.3M531.6 293.9L533.3 294.5M547.4 296.9L549.4 297.6M533.7 302.8L534.6 303.2M541.6 300.2L543.3 301.7M529.7 296.0L530.8 298.1M550.9 298.6L552.0 300.5M533.6 304.9L533.9 307.2M547.5 301.1L548.3 301.9M535.9 299.3L538.5 300.5M547.9 301.2L548.1 302.4M542.0 293.3L542.4 294.9M534.5 304.0L535.5 304.5M547.7 291.3L548.4 292.2M548.3 296.3L548.6 297.4M540.0 295.2L540.7 298.0M547.2 303.4L549.8 304.4M537.6 287.3L537.9 289.3M544.0 305.5L544.5 307.2M535.6 290.1L536.7 290.7M548.7 305.3L550.0 306.0M550.1 296.4L550.2 298.5M535.3 305.8L535.4 307.7M549.6 299.0L551.8 299.7M551.6 298.4L552.1 300.8M549.7 294.3L550.3 295.5M539.5 287.8L540.8 289.4M549.1 294.2L551.7 295.1M539.2 291.5L540.1 292.4M550.9 299.2L551.7 301.3M539.2 295.4L540.4 296.1M546.1 294.7L547.1 296.3M536.0 301.0L536.7 303.4M527.8 299.7L527.9 301.4M528.9 302.8L529.6 304.6M537.5 298.2L538.7 299.3M542.4 296.9L542.7 298.9M548.9 302.2L550.0 304.0M536.4 302.6L537.5 304.0M531.8 307.2L532.7 308.9M540.5 302.3L541.9 303.0M542.2 291.2L544.2 292.1M537.7 302.5L538.9 303.5M538.3 295.2L540.0 297.0M548.9 292.2L550.4 293.0M529.1 301.4L529.5 302.5M531.4 291.1L531.9 292.1M534.4 293.1L534.6 294.4M538.3 293.7L539.9 296.0M543.0 287.7L543.7 288.5M526.9 299.3L529.5 300.4M548.3 305.4L549.4 305.9M530.2 300.2L530.9 301.6M534.6 309.1L535.9 310.0M534.2 289.8L535.2 292.5M531.6 305.8L532.9 307.7M547.6 292.4L549.3 294.3M531.2 290.4L531.4 292.0M535.9 310.2L537.3 311.4M538.0 310.4L539.4 312.0M529.3 303.7L529.9 306.3M534.2 301.3L534.5 302.4M545.5 306.1L546.3 307.7M531.9 299.7L532.1 301.1" stroke="#282828" stroke-width="0.8" fill="none" stroke-linecap="round"/>
</g>
<g transform="rotate(0 507.8 309.1)">
<ellipse cx="507.8" cy="309.1" rx="14.1" ry="13.2" fill="#363636" stroke="#0a0a0a" stroke-width="1.0"/>
<path d="M506.8 319.2L508.2 318.0M511.5 300.8L513.9 300.6M502.4 317.5L504.8 317.3M503.3 316.9L505.0 316.0M514.3 305.1L515.6 302.7M509.5 304.9L511.6 303.5M512.1 308.1L513.8 308.1M509.3 306.0L510.3 304.3M507.0 317.9L508.7 316.7M515.2 302.3L517.0 301.2M499.8 315.0L501.4 314.9M505.9 314.6L508.5 314.8M514.8 305.9L515.9 304.1M510.1 318.7L512.5 318.9M499.1 302.5L500.3 301.6M501.6 315.2L504.4 314.7M515.2 314.2L517.0 312.6M497.2 311.4L498.5 309.7M499.4 303.5L500.5 303.1M499.2 315.5L500.3 314.1M501.9 303.2L504.5 303.2M504.4 302.6L506.4 301.5M500.9 305.8L501.8 304.2M508.4 297.9L510.3 297.8M500.0 302.0L502.3 302.0M509.5 316.2L511.1 314.3M510.7 312.9L511.2 311.9M499.8 302.6L502.3 302.4M501.5 314.9L502.4 313.9M501.3 309.7L504.0 309.7M502.7 312.9L504.3 310.5M499.3 314.7L500.5 314.0M502.4 315.5L503.5 314.7M506.8 298.5L508.0 298.5M497.8 307.8L499.4 307.8M509.9 310.4L511.4 310.4M509.6 317.7L511.4 316.1M516.7 303.3L517.7 302.6M500.4 317.8L501.2 317.1M502.0 306.1L503.0 305.9M498.2 305.2L499.7 304.7M502.3 299.9L503.7 299.1M509.2 314.5L509.8 313.6M517.3 309.9L519.4 309.1M506.2 304.1L508.2 303.4M499.1 303.6L500.9 302.4M507.0 318.4L509.6 317.8M515.2 314.4L517.0 312.8M514.8 301.8L517.4 301.4M503.4 316.8L505.3 315.9M509.4 308.6L510.8 307.2M515.0 304.7L516.8 302.7M501.0 310.1L503.1 309.7M507.3 315.8L509.5 315.0M506.0 316.8L507.5 316.1M508.3 300.2L509.6 297.9M502.0 310.6L503.9 310.1M500.9 309.9L501.7 309.2M501.5 316.3L503.9 316.1M508.0 310.0L510.5 309.8M500.5 307.0L501.2 305.6M508.4 303.6L510.1 303.6M498.6 307.8L500.6 307.8M509.1 313.5L511.0 312.3M516.8 307.5L519.5 307.7M505.4 318.3L507.6 316.7" stroke="#e1e1e1" stroke-width="0.7" fill="none" stroke-linecap="round"/>
<path d="M501.8 311.2L503.3 309.0M497.8 306.3L498.7 305.6M516.0 302.4L518.1 302.4M499.4 310.1L501.3 308.0M502.0 319.0L504.6 317.7M510.5 303.8L511.8 302.5M515.8 301.2L517.0 300.7M517.5 307.4L519.1 305.4M501.8 306.8L503.3 304.8M506.3 309.2L506.9 308.0M503.1 302.3L505.8 301.0M501.5 300.2L503.6 299.9M505.1 310.7L507.8 310.8M498.9 303.3L499.5 301.9M507.0 308.1L507.6 307.0M510.4 316.5L511.2 315.4M515.6 315.9L516.7 314.8M509.6 302.0L511.2 300.7M502.1 302.9L504.2 302.5M508.6 302.3L509.2 301.0M503.3 306.5L505.6 305.7M503.3 313.6L505.7 313.8M510.2 315.4L512.0 313.4M509.5 308.1L510.4 307.6M516.2 315.6L517.2 314.4M516.2 307.6L517.9 306.3M509.7 303.3L512.2 303.1M506.6 306.2L508.3 305.9M502.5 318.6L504.1 316.1M501.9 303.3L503.1 301.1M497.0 310.3L497.9 309.4M506.7 306.4L507.7 306.0M512.9 317.0L515.0 317.1M512.5 309.7L514.4 308.7M498.4 312.7L500.1 312.8M504.1 314.5L505.2 313.3M509.2 310.4L510.8 308.2M513.4 306.0L514.9 304.2M506.6 308.0L508.5 306.7M514.0 318.3L515.2 315.9M507.1 300.8L509.6 301.0M515.5 305.5L516.6 305.4M499.1 304.0L500.9 303.2M509.2 303.4L511.0 303.5M502.6 305.5L503.5 304.7M508.8 313.9L510.7 314.0M516.5 313.8L517.2 313.0M514.7 307.8L515.8 305.7M506.1 314.8L506.7 313.6M509.0 319.7L509.9 318.1M507.2 300.6L508.0 299.7M499.1 313.4L500.7 313.2M498.3 312.5L500.0 312.0M513.2 308.2L515.3 307.8M499.9 305.5L501.4 304.4M515.7 317.6L517.3 316.2M511.1 298.6L512.4 298.6M501.3 318.6L502.9 318.1M512.3 319.4L514.7 318.3M504.0 317.0L505.1 316.6M507.6 315.0L508.8 313.5M514.4 317.7L515.6 316.1M509.7 303.5L512.2 302.7M502.7 306.2L503.3 305.1" stroke="#0f0f0f" stroke-width="0.8" fill="none" stroke-linecap="round"/>
</g>
<g transform="rotate(0 563.2 283.5)">
<ellipse cx="563.2" cy="283.5" rx="7.4" ry="10.3" fill="#7d7d7d" stroke="#414141" stroke-width="1.0"/>
<path d="M569.3 284.5L569.2 286.1M560.3 283.3L560.5 284.3M562.7 288.9L562.4 291.1M564.0 275.2L565.2 277.6M562.8 280.3L562.8 282.1M566.4 283.4L566.1 286.0M561.7 277.7L561.4 278.7M566.7 278.7L567.5 279.6M563.2 288.2L564.2 289.4M560.4 287.6L561.5 289.5M561.0 288.3L561.5 289.9M563.9 280.6L564.8 282.8M567.4 277.6L568.1 280.3M564.9 277.6L564.2 280.2M558.2 288.6L558.3 289.8M564.5 290.4L564.9 291.4M567.7 280.1L568.8 281.5M565.4 286.2L567.5 288.2M565.7 278.8L565.6 279.8M558.3 287.3L558.0 288.5M558.7 283.2L559.4 284.0M565.8 286.6L565.4 288.0M564.8 287.8L565.3 289.1M562.9 289.6L562.7 291.9" stroke="#afafaf" stroke-width="0.7" fill="none" stroke-linecap="round"/>
<path d="M568.7 280.7L569.3 282.5M560.3 286.3L562.0 288.3M561.4 281.1L561.2 282.5M563.3 284.2L563.0 286.4M567.5 281.8L567.0 284.4M560.0 290.0L561.1 291.7M563.1 279.6L564.5 281.9M562.9 286.9L563.7 287.9M563.1 286.4L563.6 288.5M563.6 284.2L564.3 285.8M565.3 286.8L565.6 289.7M566.5 287.2L567.3 287.9M563.6 281.3L564.2 282.5M564.9 285.9L564.9 287.0M559.3 281.7L560.6 283.5" stroke="#3c3c3c" stroke-width="0.8" fill="none" stroke-linecap="round"/>
</g>
<g transform="rotate(0 527.7 320.4)">
<ellipse cx="527.7" cy="320.4" rx="9.1" ry="5.0" fill="#686868" stroke="#2c2c2c" stroke-width="1.0"/>
<path d="M523.5 322.0L522.5 322.8M530.3 318.7L528.3 320.6M528.6 322.4L527.6 322.8M526.6 320.2L525.7 321.8M528.1 319.5L527.3 320.3M526.1 317.9L523.7 318.6M531.8 321.1L529.7 322.1M529.2 318.1L527.2 318.8M530.1 318.4L529.1 319.6" stroke="#9a9a9a" stroke-width="0.7" fill="none" stroke-linecap="round"/>
<path d="M521.7 321.4L519.9 321.5M524.8 317.3L522.5 318.2M523.4 317.9L521.0 318.2M523.5 318.9L522.6 319.8M529.8 322.1L527.9 323.3M529.3 323.3L528.3 323.9M533.2 317.4L531.6 319.6M531.9 319.9L530.0 320.0M529.5 322.1L526.9 322.5" stroke="#313131" stroke-width="0.8" fill="none" stroke-linecap="round"/>
</g>
</g>
<clipPath id="c1"><rect x="410.7" y="327.1" width="75.80" height="74.60"/></clipPath>
<g clip-path="url(#c1)" filter="url(#grain)">
<rect x="409.7" y="326.1" width="77.80" height="76.60" fill="#c4c4c4"/>
<ellipse cx="456.2" cy="337.9" rx="6.7" ry="5.0" fill="#aaaaaa" transform="rotate(0 456.2 337.9)" filter="url(#soft)"/>
<ellipse cx="454.8" cy="341.6" rx="3.1" ry="3.0" transform="rotate(84 454.8 341.6)" fill="none" stroke="#767676" stroke-width="0.79"/>
<ellipse cx="459.0" cy="357.2" rx="1.6" ry="1.2" transform="rotate(55 459.0 357.2)" fill="none" stroke="#5b5b5b" stroke-width="1.03"/>
<ellipse cx="411.2" cy="361.7" rx="2.3" ry="1.7" transform="rotate(4 411.2 361.7)" fill="none" stroke="#787878" stroke-width="0.70"/>
<ellipse cx="453.5" cy="338.5" rx="1.3" ry="0.9" transform="rotate(12 453.5 338.5)" fill="none" stroke="#5d5d5d" stroke-width="0.97"/>
<ellipse cx="448.5" cy="392.4" rx="1.8" ry="1.7" transform="rotate(124 448.5 392.4)" fill="none" stroke="#777777" stroke-width="0.70"/>
<ellipse cx="417.1" cy="329.5" rx="1.9" ry="1.9" transform="rotate(158 417.1 329.5)" fill="none" stroke="#7f7f7f" stroke-width="0.75"/>
<path d="M417.9 375.8Q419.3 376.6 419.5 374.5M462.8 354.3Q460.4 352.9 460.9 351.2M466.8 359.8Q466.9 360.4 465.4 357.4M485.3 395.9Q486.6 395.6 488.3 397.0M457.4 337.8Q455.6 336.3 457.3 333.2M430.9 374.7Q431.2 371.8 429.1 370.1M464.8 358.2Q463.5 360.8 464.5 360.9M444.7 329.9Q446.2 333.2 446.0 333.2" fill="none" stroke="#5f5f5f" stroke-width="0.8" stroke-linecap="round"/>
<g transform="rotate(40 432.8 351.3)">
<ellipse cx="432.8" cy="351.3" rx="22.6" ry="20.9" fill="#9e9e9e" stroke="#373737" stroke-width="0.9"/>
<path d="M435.1 366.3L433.2 366.9M448.8 355.2L446.5 358.4M412.1 347.5L412.9 349.0M420.6 360.8L423.5 362.9M423.8 337.8L422.7 339.6M429.7 346.0L428.7 347.9M425.5 335.1L424.4 336.5M430.4 335.2L431.6 337.0M418.0 349.9L415.9 350.7M447.6 355.4L447.0 356.3M429.0 366.4L428.5 367.7M440.4 334.8L441.4 335.6M445.9 337.8L444.4 339.8M431.6 334.1L430.5 334.6M422.3 347.3L421.5 350.8M435.1 336.4L436.4 339.8M426.0 364.8L427.0 366.4M444.1 362.2L445.0 365.9M419.6 340.5L422.2 343.1M430.8 342.7L427.7 344.4M420.4 357.5L419.8 358.5M413.8 352.6L414.7 355.2M421.5 350.2L419.5 352.0M427.4 348.6L427.9 349.7M421.6 349.6L419.3 352.2M413.3 355.5L411.5 356.5M440.9 349.3L438.8 351.5M439.9 337.4L437.2 339.7M419.2 350.2L418.9 352.5M437.7 355.7L438.1 359.5M428.2 361.8L428.3 363.2M431.5 355.5L428.8 358.0M430.5 363.9L430.8 365.4M418.1 342.1L417.4 344.5M449.6 346.0L447.5 346.8M424.8 338.9L422.4 340.8M443.6 352.4L445.4 354.9M449.6 347.2L452.1 350.3M444.9 347.2L442.2 347.6M443.8 365.6L443.0 369.3M440.1 342.4L440.9 344.9M427.8 352.3L428.7 354.9M426.4 364.0L424.5 366.1M420.8 352.6L421.5 353.4M435.4 337.7L432.1 340.0M437.3 366.1L438.6 366.8M426.4 346.5L426.6 348.6M430.7 361.4L430.7 363.1M447.6 347.1L448.4 347.9M430.8 351.9L431.9 355.1M423.2 344.0L425.6 346.4M438.5 333.4L438.4 335.8M426.9 335.3L427.3 336.3M443.2 358.8L440.6 360.9M447.1 361.6L450.9 362.7M435.6 333.3L433.0 335.2M438.3 353.5L437.5 354.6M416.9 359.9L419.2 361.2M432.1 342.9L434.4 345.7M429.9 351.1L427.9 353.7M426.3 337.2L426.8 339.1M416.5 345.4L418.2 347.7M439.0 339.1L436.8 339.8M418.3 361.4L419.8 363.8M427.5 343.3L429.1 346.5M446.2 338.4L444.6 339.5M438.1 334.6L435.8 336.6M438.1 349.1L438.3 350.1M426.7 335.0L426.0 337.9M447.1 345.7L447.1 348.8M429.8 335.1L428.7 335.3M435.5 332.8L436.9 333.8M429.8 345.7L433.5 346.9M422.4 360.8L423.9 361.9M449.9 361.7L448.4 363.2M416.5 346.7L416.0 348.9M451.5 349.5L453.7 352.1M441.1 368.1L438.9 368.6M429.8 357.4L428.3 359.0M428.6 342.4L427.1 344.7M415.1 343.2L414.6 344.1M430.9 357.1L431.2 358.6M433.8 363.4L435.7 363.9M444.1 360.5L441.6 363.4M450.4 356.3L447.4 358.1M429.0 342.1L431.6 344.3M427.9 346.7L426.6 348.2M427.5 342.9L428.7 345.0M428.1 354.3L429.7 356.2M423.2 340.0L424.5 341.5M445.6 349.9L444.3 352.7M448.9 345.9L447.5 346.7M423.0 355.0L422.4 356.2M444.6 365.1L444.8 366.5M450.1 360.0L448.3 361.5M425.0 348.5L426.1 348.9M446.1 365.3L447.0 366.4M435.3 370.5L433.2 371.5M442.5 364.7L443.2 366.1M428.1 335.8L429.7 336.2M438.0 351.4L437.3 355.2M425.1 348.3L428.3 350.2M452.9 351.3L453.0 352.5M440.4 358.6L437.9 360.4M441.2 342.8L441.6 344.2M441.2 341.0L438.2 343.6M436.9 361.2L434.3 361.8M428.8 333.9L430.1 334.3M434.9 334.0L435.5 336.1M435.2 340.0L434.5 341.0M435.6 369.2L435.1 370.2M435.3 362.9L434.7 366.0M436.7 369.2L440.0 370.9M442.8 367.1L441.9 368.8M433.8 340.3L431.5 342.7M438.7 358.0L437.6 358.3M442.6 336.3L445.6 338.3M448.5 353.2L451.6 355.0M446.4 345.0L443.0 346.4M443.0 335.6L442.6 337.5M449.4 342.0L448.8 343.8M438.1 356.9L437.0 358.4M431.4 347.4L431.6 350.1M448.1 357.1L447.5 358.0M421.2 339.0L422.0 342.5M437.9 353.9L436.0 355.4M432.4 338.6L435.2 340.7M441.1 333.6L441.6 335.9M433.3 344.7L430.7 345.8M431.8 370.4L433.0 371.2M443.4 338.0L444.4 339.4M439.2 347.5L439.4 348.6M438.1 336.1L437.4 338.0M442.8 341.0L444.6 343.7M425.1 347.3L424.8 348.9M449.0 358.9L446.9 359.6M438.5 347.6L437.7 351.2M449.1 343.8L451.8 344.6M437.9 347.2L438.5 349.2M414.1 353.5L411.7 356.4M419.6 363.4L421.1 363.8M432.8 332.7L436.0 334.9M421.3 351.4L422.3 353.5M445.4 349.7L446.6 351.3M437.3 363.6L440.2 364.6M430.3 343.7L430.6 345.2M422.2 336.2L421.3 336.6M425.6 344.5L426.1 345.4M435.8 348.0L437.9 350.2M442.8 353.2L441.2 355.7M436.7 358.6L438.4 359.4M434.9 363.1L432.8 365.1M440.9 334.4L444.3 335.2M422.8 367.6L426.4 369.0M414.5 358.9L415.2 361.2M442.7 355.1L442.2 356.5M420.7 351.9L422.4 354.8M426.9 340.2L425.4 341.3M433.9 338.1L430.9 339.2M420.0 341.1L422.7 342.8M430.6 366.1L430.6 367.7M418.0 360.2L421.0 361.9M432.3 351.1L433.8 353.9M446.9 352.5L449.1 355.1M422.2 340.7L418.3 341.4M437.9 350.6L436.3 353.3M426.5 359.6L425.1 363.2M414.1 348.2L412.3 349.5M423.7 342.5L420.8 343.7M419.8 349.3L417.2 350.3M445.1 364.1L448.6 365.3M432.4 366.1L431.2 366.4M432.3 351.2L431.3 352.2M420.6 362.9L420.8 364.1M438.2 351.4L437.6 352.8M416.0 357.7L414.7 358.3M435.7 366.9L434.6 368.6M440.2 339.0L439.1 340.9M427.8 347.8L427.6 350.3M439.3 360.4L437.7 361.4" stroke="#d0d0d0" stroke-width="0.7" fill="none" stroke-linecap="round"/>
<path d="M446.0 342.8L446.1 344.2M446.2 350.8L447.2 351.4M433.4 332.3L433.9 333.3M444.4 343.2L445.5 344.2M433.1 342.7L431.9 343.8M448.2 345.5L444.7 346.1M452.6 356.6L453.7 357.0M447.6 365.1L444.5 367.2M433.1 358.5L433.3 359.7M433.2 345.2L432.7 348.8M430.7 350.2L432.6 352.7M415.6 345.8L416.9 346.5M436.2 345.3L438.2 346.7M438.1 357.3L438.7 360.7M434.8 346.2L436.6 348.6M429.1 358.2L431.5 361.0M429.0 332.9L431.2 335.7M441.1 350.1L438.2 351.2M443.7 359.4L440.4 361.0M413.5 357.6L414.5 358.6M424.4 334.6L423.5 335.1M441.0 335.7L441.9 336.4M424.6 352.0L423.4 353.0M433.7 335.6L436.0 338.4M450.4 357.5L450.5 359.4M443.7 364.1L445.2 364.6M428.4 360.9L427.7 364.1M414.0 350.3L416.7 353.3M419.5 364.2L420.8 365.7M452.4 348.3L454.8 349.4M442.7 352.3L441.2 354.5M419.5 362.5L420.4 364.5M431.9 365.8L431.0 366.7M447.5 353.0L449.7 354.3M430.1 341.2L427.4 343.0M450.5 347.7L451.6 348.1M423.3 337.1L419.9 338.2M434.9 356.7L435.5 358.8M443.2 338.3L444.9 340.5M451.9 357.8L450.1 360.0M419.8 341.1L419.7 343.8M442.0 335.1L439.1 336.8M417.5 340.9L416.3 341.6M447.7 337.7L446.0 340.0M439.9 343.1L443.1 344.3M429.1 335.8L431.1 336.9M439.4 335.1L440.0 336.4M417.4 356.9L415.5 357.5M423.1 342.1L421.1 344.4M436.5 343.3L435.4 344.4M418.1 346.3L420.1 347.5M451.5 343.3L452.8 344.4M451.2 347.0L453.3 349.6M432.7 370.2L433.5 370.9M437.9 349.5L439.5 350.4M415.7 345.9L417.6 347.6M446.3 356.9L446.5 359.8M443.5 348.5L442.9 350.6M445.0 340.7L446.5 344.3M413.7 350.3L415.3 351.2M434.3 344.3L431.7 345.3M419.7 347.4L416.9 350.2M425.5 350.5L426.6 350.8M418.2 339.0L415.6 341.9M439.2 359.9L441.2 361.5M416.0 362.0L417.0 362.7M448.5 356.8L446.8 357.3M443.2 342.6L442.2 343.0M415.3 353.5L412.8 354.8M423.8 355.9L425.3 356.5M422.2 367.9L421.1 368.1M411.9 352.2L411.2 355.0M442.1 337.9L443.2 338.7M444.9 354.6L445.3 355.8M419.8 337.1L421.9 339.5M444.0 352.4L444.8 354.4M449.0 348.1L449.4 351.6M428.3 338.8L427.5 339.8M449.4 348.7L448.0 349.7M436.8 355.8L436.1 356.6M450.1 357.8L453.1 359.3M433.5 362.3L435.2 364.6M438.5 340.4L437.1 341.7M422.0 345.2L419.9 347.1M442.4 359.7L443.1 362.3M413.3 355.4L414.4 356.0M445.5 352.5L447.6 355.1M413.2 348.4L412.1 350.3M450.3 345.5L449.4 347.0M440.7 334.2L440.0 335.2M428.9 368.5L429.4 369.5M439.9 362.0L438.5 364.1M445.8 362.4L446.6 363.0M414.5 358.0L414.4 361.3M430.2 337.3L428.9 338.9M417.4 344.0L416.2 345.9M446.2 337.6L447.2 339.7M442.1 356.7L444.2 357.9M422.1 339.6L419.9 342.4M446.5 354.5L446.2 357.6M431.3 332.8L432.3 333.7M418.1 341.4L420.2 343.3M415.1 340.7L413.5 341.5M433.4 365.6L434.3 367.8M443.5 345.1L444.0 347.0M441.0 363.1L440.8 366.5M443.6 345.8L443.7 347.9M434.0 338.9L433.8 340.7M429.5 369.2L430.7 370.6M443.5 350.0L445.9 352.1M438.7 335.6L441.9 336.6M448.0 360.8L446.1 361.5M414.0 351.0L411.0 351.7M413.4 355.0L414.6 356.8M428.7 361.9L430.6 364.9M440.8 341.5L438.3 344.4M453.6 350.6L451.5 351.6M433.9 361.2L434.7 362.4M430.1 341.3L431.8 342.8M435.5 368.6L436.8 370.8M426.9 345.1L427.5 346.8M444.3 335.6L446.1 337.7M419.9 339.4L417.7 340.7M429.0 334.6L429.1 335.8M418.0 353.9L415.9 354.2M433.5 340.7L433.9 342.1M442.8 363.5L443.0 365.1M422.6 345.3L418.8 346.1M433.3 362.1L432.7 363.5M418.8 352.0L420.2 354.0M417.2 361.0L416.6 363.3M453.2 347.3L450.3 348.8M425.2 350.4L423.7 350.8M425.4 349.1L425.1 352.1M441.5 360.2L440.9 362.3M430.6 360.6L431.4 362.9M452.6 355.4L453.5 357.7M449.7 359.8L450.9 361.2M430.2 363.9L430.7 365.9M414.9 353.1L413.4 354.6M436.6 356.7L434.6 358.9M447.3 345.7L445.7 347.2M424.7 351.1L426.1 354.6M418.1 337.7L417.6 340.8M415.3 352.0L415.0 354.0M439.4 343.1L442.9 344.8M431.0 358.5L430.2 361.0M432.8 357.0L431.5 359.4M435.7 363.0L434.4 363.8M445.3 352.7L447.4 353.7M447.0 364.4L447.2 365.8M433.1 369.5L434.7 369.8M442.3 340.6L445.5 341.9M416.0 344.4L417.4 345.3M434.1 348.3L434.6 350.5M449.0 349.1L446.9 350.0M429.2 366.7L426.6 368.6M431.8 352.7L432.7 354.0M439.6 333.4L441.2 336.4M413.3 348.7L411.6 349.4M433.4 347.1L436.0 350.0M431.6 340.5L430.0 340.8M440.7 346.8L442.0 348.4M420.1 359.9L417.5 361.1M452.0 354.7L450.6 356.6M427.7 352.5L427.1 353.5M419.4 353.2L418.0 356.4M416.8 349.5L415.9 350.9M440.3 341.8L439.8 345.3M445.4 344.4L446.6 346.5M415.7 340.9L413.8 342.1M448.7 349.9L446.7 351.1M435.0 367.6L433.6 369.4M436.7 348.8L438.2 350.9M421.7 339.4L422.2 342.3M414.2 351.7L415.2 355.5M450.1 359.4L449.3 360.7M435.5 338.6L438.7 339.6M434.9 352.5L434.5 355.3M441.4 367.0L443.9 368.3M445.6 340.1L442.7 341.8M437.5 355.3L435.9 356.3M433.7 363.8L435.4 366.1M428.7 338.7L426.7 339.8M435.0 351.5L434.8 354.3M426.8 349.2L425.9 350.6M443.2 350.1L446.2 351.9M439.8 344.5L439.1 345.5M450.0 355.4L452.9 357.6M435.5 343.3L434.5 347.0M431.3 355.3L428.8 358.2M448.4 339.6L450.1 340.6M432.2 362.2L430.6 363.7M441.5 360.4L442.2 363.3M445.3 352.6L442.6 355.1M432.7 357.8L433.3 358.7M423.3 349.2L423.8 351.6M443.3 354.2L442.0 355.9M432.9 357.3L433.3 358.8M451.1 343.3L452.7 344.3M429.7 365.3L429.1 366.4M431.6 350.7L432.1 352.4M444.9 362.1L445.7 363.8M442.5 341.8L441.4 343.1M435.5 335.5L435.3 339.2M415.0 345.4L414.3 348.8M431.6 338.0L429.6 339.5M446.1 337.0L445.1 338.4M446.3 358.9L446.5 360.0M426.9 365.6L425.9 368.4M442.6 337.5L441.0 339.7M425.7 341.2L426.6 342.5M433.7 349.1L433.3 350.9M420.7 335.6L420.6 337.2M446.0 339.9L445.6 341.1M442.6 347.3L441.5 349.6M448.4 342.6L450.0 346.0M415.2 341.9L413.5 342.9M418.4 363.6L418.9 366.7M415.4 350.8L417.1 353.1M451.9 357.5L449.9 358.7M445.2 350.2L447.1 351.8M432.2 367.4L431.3 368.5M428.8 332.6L432.0 334.4M432.3 339.8L432.2 343.4M436.2 356.0L435.0 356.9M432.7 337.8L432.6 339.4M420.1 337.0L417.2 338.6M412.4 346.5L410.8 347.2M438.7 367.3L440.5 368.4M447.5 339.9L445.6 340.9M439.4 346.1L439.9 347.4M417.0 340.1L419.6 341.3M418.7 349.7L420.0 351.0M422.8 340.0L422.0 342.7M425.3 365.8L425.3 367.2M420.4 355.3L418.4 356.6M439.6 360.8L440.1 363.2M421.1 346.3L419.2 349.3M428.1 367.5L426.6 370.5M431.1 358.9L431.8 360.8M432.1 344.2L434.6 345.4M446.2 345.6L444.7 347.4M429.3 344.7L431.5 346.8M424.6 363.1L424.3 365.0M427.4 346.3L430.0 349.0M438.8 339.8L438.5 340.8M441.6 364.9L439.5 366.4M433.6 344.4L433.4 345.5" stroke="#3e3e3e" stroke-width="0.75" fill="none" stroke-linecap="round"/>
</g>
<g transform="rotate(-20 480.5 344.6)">
<ellipse cx="480.5" cy="344.6" rx="17.6" ry="20.9" fill="#969696" stroke="#373737" stroke-width="0.9"/>
<path d="M471.6 350.0L470.2 351.9M479.5 359.6L481.7 360.3M485.2 349.8L487.8 350.7M482.6 349.4L480.9 351.3M481.0 334.6L480.2 336.3M481.9 326.3L484.7 328.5M484.8 352.5L483.2 353.5M496.3 350.0L494.1 353.2M481.0 327.8L482.8 329.7M491.2 353.5L491.4 354.5M489.3 359.6L488.1 361.0M469.4 353.9L472.4 355.7M488.9 330.4L487.9 332.6M473.5 330.9L475.3 332.0M474.0 352.1L475.0 352.7M467.9 357.3L466.8 357.4M474.6 348.4L473.9 350.7M493.8 347.1L494.2 350.3M482.7 338.3L482.9 341.7M496.7 344.3L496.8 345.9M491.9 352.4L492.1 355.7M473.0 352.0L471.7 353.6M476.1 346.0L477.9 348.8M478.2 333.6L476.0 334.2M480.2 325.7L482.9 327.2M469.1 356.9L470.0 360.3M480.9 350.6L483.1 351.8M469.2 354.1L468.2 355.1M469.6 344.2L468.8 345.7M479.9 325.4L478.5 327.4M482.5 343.2L480.7 346.5M480.5 361.0L482.0 362.0M484.0 354.7L485.9 356.1M470.8 342.7L472.0 344.4M495.9 346.9L493.7 347.2M491.5 343.6L488.8 345.6M485.8 358.0L485.7 360.4M474.9 346.9L473.5 347.7M481.4 332.5L482.3 335.7M466.5 351.6L465.6 354.5M489.4 341.4L486.4 343.3M465.5 349.2L463.9 349.6M483.1 334.7L484.8 337.6M470.3 355.6L470.8 357.4M466.9 336.0L464.7 336.7M466.1 336.4L464.5 337.2M480.1 350.4L481.4 353.0M475.7 357.5L477.2 358.5M477.4 352.6L478.1 354.0M486.6 347.1L484.3 349.1M493.1 338.9L493.1 340.3M468.8 354.6L466.1 355.9M471.4 355.9L469.4 357.0M488.9 341.5L487.6 345.0M483.0 334.5L482.4 338.4M481.5 363.2L479.4 365.2M484.4 355.8L485.4 356.7M484.5 343.6L482.0 345.4M484.7 357.8L483.2 359.0M489.3 339.4L486.8 340.3M486.1 330.4L484.5 332.7M493.3 346.2L495.5 346.9M483.7 329.3L482.5 330.0M478.4 335.7L479.7 336.2M469.0 342.7L470.3 346.2M473.6 355.0L471.9 355.7M474.9 352.9L474.1 354.9M470.9 334.9L470.5 338.8M476.8 343.3L478.0 344.6M476.0 345.4L476.6 346.4M494.5 334.2L492.6 335.5M470.4 331.5L472.0 333.8M470.8 344.0L472.8 345.9M477.3 330.6L476.8 333.1M476.6 345.5L475.0 347.5M484.8 351.5L484.3 354.7M488.8 345.9L490.8 346.8M494.7 345.9L494.9 346.9M492.2 340.5L489.2 341.8M473.8 327.7L475.7 329.8M486.5 355.2L486.7 358.1M493.4 349.6L491.3 350.5M484.7 340.3L485.3 343.7M487.8 328.7L487.4 330.0M479.1 354.2L477.3 355.9M467.0 334.3L465.7 337.7M473.4 348.6L473.4 351.3M477.6 328.9L473.9 329.6M495.7 346.4L496.6 347.1M470.1 344.1L467.7 346.4M489.7 350.0L492.8 351.7M481.1 361.7L478.6 362.7M472.6 347.3L473.1 349.5M487.2 357.0L488.8 359.2M472.1 357.5L474.4 358.7M490.6 352.5L489.8 353.5M476.6 339.9L473.9 342.4M477.7 340.8L479.9 343.0M472.1 356.7L472.0 360.3M480.0 358.5L480.1 360.7M467.0 350.2L466.0 350.6M483.5 345.4L483.2 348.4M485.4 338.2L484.7 340.4M472.7 360.7L474.3 362.2M478.7 332.9L476.7 333.2M465.2 343.3L464.5 344.5M473.7 351.9L475.7 353.9M466.5 351.4L465.0 353.6M477.1 328.9L475.0 330.9M480.3 339.1L478.2 339.8M472.4 331.9L470.1 332.7M494.3 354.2L493.7 355.8M473.1 333.6L471.8 334.4M472.3 327.6L470.1 327.9M467.9 336.9L467.5 339.3M466.0 342.5L466.0 344.6M481.4 328.2L482.6 330.3M486.5 332.7L485.6 333.3M482.2 363.6L483.8 364.9M490.2 347.4L489.1 350.1M494.7 343.4L495.3 344.8M473.9 352.8L475.2 353.3M492.2 346.3L492.6 348.8M489.6 333.1L488.0 334.9M485.3 332.1L486.6 335.7M484.9 348.6L482.8 351.4M492.6 343.7L491.3 344.7M487.4 331.3L488.6 332.7M479.0 362.0L477.6 363.7M474.6 360.3L475.5 362.3M471.7 335.7L470.9 337.7M479.6 343.0L480.2 345.0M484.2 341.1L484.1 342.6M479.6 346.3L478.7 348.6M482.1 331.4L479.5 332.9M473.9 360.4L474.5 362.0M492.9 338.7L490.8 340.5M467.6 343.2L465.6 345.1" stroke="#cdcdcd" stroke-width="0.7" fill="none" stroke-linecap="round"/>
<path d="M481.5 335.0L482.2 336.1M466.5 340.1L467.3 343.9M483.9 349.2L482.9 350.9M472.2 352.2L474.9 355.0M479.4 344.4L481.9 346.9M490.6 352.2L490.2 355.4M469.2 334.1L468.8 335.3M477.4 331.1L477.4 332.1M473.7 326.9L472.0 327.5M492.7 336.1L490.9 336.4M468.9 344.2L466.0 344.6M485.6 334.5L485.5 337.2M468.7 355.5L467.5 356.1M494.5 350.6L494.6 351.7M480.0 326.3L480.6 328.3M473.9 354.8L473.9 356.6M486.5 359.3L487.2 361.6M494.1 344.9L494.8 346.3M482.4 350.3L485.8 352.1M483.1 332.0L481.1 333.2M470.3 349.9L467.5 351.4M487.1 350.7L489.8 351.9M476.4 336.0L478.7 337.1M493.9 337.4L495.4 338.4M492.0 347.7L493.2 350.2M474.4 338.5L473.8 340.5M473.2 358.7L469.7 359.1M482.0 356.6L483.5 357.8M492.8 345.2L492.7 348.0M485.4 338.0L485.0 340.5M493.2 353.6L491.8 356.3M481.6 338.8L480.4 339.6M480.9 341.7L480.0 342.8M487.6 355.5L488.6 355.8M486.6 329.5L487.0 332.5M481.7 337.3L481.0 339.9M483.9 350.4L484.4 351.7M478.8 342.7L477.4 343.3M489.7 329.3L491.8 332.0M479.6 341.0L482.1 342.3M490.8 334.9L489.8 335.6M482.2 355.5L480.2 355.9M470.5 347.8L469.0 349.3M473.6 359.0L471.3 361.2M472.1 350.0L470.8 352.5M475.1 353.4L473.4 353.9M477.6 334.7L477.6 337.0M486.4 349.2L484.5 350.8M474.4 343.0L477.1 343.9M492.4 333.2L489.2 335.1M483.8 352.7L484.7 353.3M475.5 328.4L474.5 329.4M473.7 327.6L475.0 328.0M471.0 349.4L471.1 351.1M479.4 336.9L481.6 337.7M473.2 331.2L470.7 331.5M478.5 361.3L479.1 362.4M481.7 344.6L480.1 345.9M476.4 353.3L478.9 355.4M477.3 338.6L478.6 341.6M470.9 335.3L469.1 336.1M495.2 346.4L494.0 349.0M470.3 333.6L471.5 334.5M465.3 338.0L466.0 339.6M468.6 337.5L467.4 339.4M482.0 349.7L484.4 351.8M479.4 344.6L481.2 346.0M481.2 348.2L481.4 349.7M468.2 340.8L469.5 342.0M486.2 328.3L488.3 330.9M473.1 351.2L473.8 354.0M466.3 339.0L467.6 341.0M467.7 354.5L469.8 355.6M483.9 361.6L483.0 364.9M494.2 350.1L492.6 353.2M470.8 340.4L468.1 340.9M469.7 353.3L468.8 355.9M494.8 347.3L491.2 348.7M484.9 327.4L481.6 328.7M479.1 356.4L481.2 358.8M471.1 343.8L469.2 344.7M495.7 347.7L495.4 348.9M494.1 337.4L492.8 338.7M474.9 329.1L477.2 331.0M480.2 342.4L479.9 344.5M475.7 331.9L474.9 334.5M480.2 360.9L479.7 364.8M472.9 357.5L471.9 361.1M478.8 334.2L478.7 336.4M468.0 335.1L467.3 336.0M487.6 357.7L485.0 358.1M479.0 362.9L478.3 364.0M490.6 355.5L491.2 356.6M493.9 339.0L493.9 340.3M473.0 339.8L471.7 340.3M471.5 351.2L470.3 354.0M471.5 329.2L469.6 329.7M487.7 339.4L489.1 339.9M474.9 347.5L473.1 348.3M476.2 351.9L474.5 354.5M495.8 351.1L494.6 352.0M485.3 348.0L487.9 350.3M488.6 354.4L486.2 356.1M470.8 344.3L469.5 344.8M473.5 341.0L470.4 342.7M477.0 355.7L479.1 358.2M489.4 355.5L487.2 357.2M470.9 358.4L471.8 359.2M480.2 325.0L479.2 325.9M482.7 356.2L480.2 358.5M465.2 345.4L465.9 347.9M470.9 351.4L467.1 352.1M468.8 354.5L469.8 355.5M467.7 349.6L471.3 351.0M473.7 336.3L475.3 337.0M480.0 340.4L479.7 342.9M484.9 348.6L481.6 349.0M483.6 326.0L484.6 327.6M480.4 345.1L481.7 346.0M484.8 346.6L485.4 348.4M487.7 350.4L484.9 352.6M490.6 349.0L491.4 349.7M484.1 346.5L487.2 347.8M482.0 347.7L480.6 349.5M489.1 347.1L486.6 347.5M466.7 338.8L470.1 340.6M475.8 349.9L472.6 350.4M487.8 330.3L487.0 331.8M479.8 335.5L478.0 338.5M466.0 341.0L469.2 342.6M482.3 349.3L481.9 350.6M483.3 362.6L481.2 362.8M479.8 325.2L477.1 326.6M490.9 345.0L489.2 347.1M491.6 337.8L489.1 340.4M479.6 338.6L479.0 340.8M470.7 341.2L472.7 343.2M477.6 343.1L476.3 345.8M476.2 330.7L474.6 330.9M491.8 350.8L493.8 352.6M494.1 352.4L496.3 353.3M488.1 348.9L487.7 350.9M481.6 357.9L482.3 358.7M482.1 347.1L482.4 348.6M471.4 340.2L471.9 341.4M478.1 329.9L474.8 332.0M484.4 338.3L482.8 339.3M473.6 358.5L474.5 361.3M494.3 342.0L494.5 344.5M476.0 326.1L475.5 329.1M484.3 328.0L483.5 331.4M470.0 338.9L473.4 339.9M488.7 330.4L486.8 330.8M474.3 353.2L473.2 353.6M475.5 342.3L473.7 343.7M491.3 336.2L488.9 336.6M476.9 331.9L476.2 333.2M472.8 334.8L473.1 336.7M483.0 346.0L483.7 348.9M479.9 346.1L478.0 347.0M468.8 344.8L467.9 347.5M488.1 327.3L490.2 328.3M473.2 343.4L473.7 344.3M487.4 336.6L488.6 340.0M477.1 351.5L477.7 352.8M491.7 348.6L493.6 349.9M474.8 352.0L472.4 353.5M466.3 343.1L467.4 346.6M474.2 326.5L475.7 329.6M479.0 337.5L478.1 340.1M470.2 332.2L470.9 333.5M470.5 357.3L472.7 359.9M483.0 335.1L485.0 336.4M473.0 340.3L475.0 341.7M489.2 346.6L487.6 347.5M468.9 332.6L469.7 335.1M486.0 330.7L487.0 333.0M484.4 353.0L483.2 353.5M474.9 361.5L477.8 362.5M492.8 352.9L493.3 355.5M492.7 334.8L492.9 336.6M496.8 343.6L494.8 344.1M475.6 351.2L475.6 355.0M491.5 354.1L493.2 355.8M477.8 356.1L475.4 357.6M483.7 347.5L483.8 348.5M495.8 345.1L494.1 346.6M488.8 330.6L491.0 332.1M479.2 346.2L477.6 346.8M488.4 344.6L486.5 345.4M480.2 327.6L479.7 328.7M479.2 348.5L479.7 351.8M492.9 346.5L492.7 349.6" stroke="#3c3c3c" stroke-width="0.75" fill="none" stroke-linecap="round"/>
</g>
<g transform="rotate(10 467.1 380.9)">
<ellipse cx="467.1" cy="380.9" rx="20.4" ry="19.2" fill="#a0a0a0" stroke="#373737" stroke-width="0.9"/>
<path d="M465.9 389.5L467.8 390.4M452.8 375.1L455.0 375.6M459.3 368.3L462.9 369.8M480.7 388.6L482.5 387.9M464.4 393.2L468.1 392.4M449.4 375.1L450.7 374.6M460.3 378.4L462.0 379.0M461.3 381.1L462.0 379.9M454.0 375.9L456.0 374.9M461.0 367.2L462.3 365.6M449.9 375.8L451.4 376.0M465.8 364.9L466.7 363.9M476.7 392.3L478.0 393.2M481.4 375.7L482.3 375.0M456.4 383.7L457.1 384.9M460.7 382.8L462.2 383.2M462.3 366.3L462.6 367.6M452.1 378.6L454.7 379.9M481.1 374.8L482.3 375.6M477.0 380.2L478.4 380.6M460.1 368.1L463.1 368.6M479.8 370.5L482.7 370.3M461.1 388.7L463.7 387.4M464.3 366.6L464.5 369.8M463.9 373.3L464.1 375.7M475.2 391.1L476.5 390.6M481.3 379.4L483.0 377.1M473.6 375.5L475.4 373.1M466.7 383.5L467.4 382.0M484.8 381.5L484.9 382.6M472.1 387.4L474.8 390.3M466.6 380.8L467.4 384.4M471.5 378.5L472.2 379.3M483.9 376.0L483.9 379.9M474.6 392.1L477.9 394.2M470.1 370.7L470.7 371.7M455.7 366.6L457.3 367.4M476.8 389.5L478.1 388.3M464.7 388.4L466.2 389.0M475.7 373.7L476.9 374.6M456.8 376.1L459.9 375.5M479.4 372.5L482.8 373.3M468.9 395.9L471.2 396.6M477.6 371.2L481.1 370.8M448.7 382.3L450.2 383.0M455.6 389.3L455.9 390.5M453.5 375.0L456.9 377.1M466.6 389.1L467.5 392.2M476.4 377.4L477.8 375.8M468.8 363.2L470.4 365.6M457.8 372.6L459.6 373.4M456.9 396.0L458.6 395.5M463.6 396.1L463.5 398.5M462.2 375.0L464.8 376.8M480.4 387.3L483.1 387.8M452.0 385.0L455.2 383.1M473.9 378.4L475.4 381.2M457.1 375.1L459.3 376.5M456.4 395.4L458.7 393.3M457.4 381.4L458.8 384.0M448.8 379.5L452.7 380.3M476.9 375.3L478.4 376.0M479.0 382.0L481.6 381.3M456.6 368.6L458.7 366.0M469.3 391.1L470.1 392.1M471.3 386.2L472.4 389.8M470.2 383.3L471.5 385.4M485.9 377.4L486.7 380.5M461.1 364.7L464.0 366.7M462.1 381.0L463.0 382.5M465.8 363.1L469.6 362.3M467.9 385.9L469.5 389.1M450.9 374.0L452.9 372.5M467.8 376.5L468.9 374.4M449.4 383.8L450.2 382.7M453.3 381.6L454.3 379.5M457.3 396.1L460.3 395.9M463.8 392.9L465.5 389.8M472.2 397.8L472.4 399.1M464.3 393.9L464.2 396.7M463.2 384.2L465.0 385.9M470.4 394.2L471.9 394.6M456.7 381.8L458.8 380.5M448.2 377.6L451.7 378.2M481.4 382.2L485.1 380.8M481.2 376.0L482.1 375.1M481.3 392.8L482.4 393.2M458.5 393.3L460.9 391.7M476.1 376.1L476.8 379.3M475.0 392.1L475.0 393.5M484.4 373.6L485.6 374.8M473.5 380.1L476.1 379.8M456.1 373.2L457.8 371.6M448.6 382.1L450.7 381.3M473.1 391.9L473.3 394.0M459.0 382.0L461.2 382.8M473.9 393.5L475.7 392.3M450.5 374.3L453.5 376.6M471.9 372.1L472.7 373.3M469.8 397.5L471.1 397.1M459.6 376.2L459.6 378.7M456.1 372.7L456.7 373.6M482.8 376.6L484.4 377.3M454.1 377.1L456.6 376.0M469.1 394.8L470.2 393.4M453.6 382.2L456.7 383.0M476.6 371.7L479.3 370.6M461.9 371.1L464.1 371.7M463.5 394.9L463.6 396.3M460.6 366.6L462.5 365.3M476.0 387.4L478.1 389.7M468.8 389.6L471.3 387.9M457.9 387.4L458.8 388.6M453.0 387.7L454.2 386.4M473.1 369.8L475.0 368.2M475.7 376.4L476.7 375.2M476.9 369.2L479.4 366.7M465.6 367.6L468.5 367.4M461.7 368.4L465.0 368.7M460.6 385.5L461.1 386.4M472.4 382.2L473.8 381.1M469.1 393.2L472.4 394.0M475.3 396.6L476.4 396.8M461.9 374.9L463.2 373.4M480.4 390.5L481.6 389.3M485.0 385.2L485.7 384.1M456.6 370.7L460.2 370.0M474.7 382.1L475.6 381.2M457.2 365.8L458.4 368.8M464.7 374.1L466.4 371.0M459.4 377.2L461.1 375.2M452.8 392.0L454.0 393.4M482.0 377.2L484.2 376.3M466.3 383.7L468.1 382.3M469.1 363.3L470.9 363.1" stroke="#d0d0d0" stroke-width="0.7" fill="none" stroke-linecap="round"/>
<path d="M458.6 370.6L460.6 371.7M470.1 365.9L472.5 365.8M456.1 380.5L458.4 381.4M478.3 372.1L479.5 371.2M483.7 378.8L485.3 380.2M468.5 371.0L469.6 372.6M471.6 378.1L474.0 376.9M479.6 370.8L480.4 371.5M448.8 376.0L451.7 373.4M474.3 375.9L476.1 372.7M460.0 365.5L463.3 365.8M467.5 389.2L468.9 386.9M452.9 378.6L455.0 380.7M466.0 368.9L466.0 372.4M480.8 377.2L483.1 377.7M455.9 393.0L457.7 392.3M480.7 381.5L482.9 378.6M481.1 392.6L482.2 393.5M455.5 383.3L456.7 384.9M474.3 394.4L478.0 393.5M480.7 371.5L483.9 370.8M471.0 386.3L474.3 387.8M464.7 373.5L467.0 375.1M449.3 386.3L449.5 388.8M479.1 383.4L481.6 384.3M471.1 380.3L471.5 383.3M449.0 382.1L450.7 384.2M456.8 373.0L458.6 369.6M482.8 372.4L484.8 372.4M476.3 387.6L476.5 388.9M470.0 365.6L472.0 363.1M474.8 370.5L476.8 367.6M460.7 371.5L462.3 373.2M472.9 383.6L476.4 384.2M456.3 367.8L459.3 369.1M449.9 378.7L451.0 379.5M473.2 383.8L474.0 387.4M461.7 394.5L463.3 397.5M455.8 380.7L456.5 379.4M482.5 389.6L485.4 387.4M454.9 376.0L455.9 376.6M463.0 394.0L464.0 392.7M471.6 388.7L475.5 388.5M463.5 369.1L466.6 370.6M482.3 383.3L482.4 385.1M465.2 389.8L468.5 389.6M471.4 383.6L472.7 387.0M484.1 383.8L485.6 383.4M482.4 390.9L483.7 388.3M483.7 384.9L484.1 387.0M480.7 376.5L484.3 376.6M473.0 373.5L474.0 377.0M452.4 373.5L455.5 374.1M458.7 379.8L460.1 378.0M460.6 365.9L462.0 366.5M450.2 380.4L452.8 378.6M455.4 380.6L456.2 379.3M482.3 385.1L483.2 384.5M471.9 398.1L475.2 397.7M482.7 385.1L485.4 386.5M454.0 384.4L454.0 387.3M459.2 386.8L460.5 386.7M461.2 372.3L463.8 374.1M471.7 375.6L472.6 378.9M457.5 378.6L460.2 379.8M460.5 388.1L461.9 391.5M466.7 380.8L469.4 380.4M472.0 382.6L473.0 385.4M472.1 394.3L474.5 394.0M477.1 373.2L477.6 376.3M481.2 380.7L483.3 381.9M463.5 381.5L465.2 380.2M478.0 378.0L479.7 379.6M478.4 371.5L478.6 372.8M484.1 388.3L485.0 389.0M463.8 380.4L465.3 381.1M473.8 385.0L475.8 387.2M455.5 382.2L456.5 383.5M457.4 395.4L458.0 397.0M456.6 371.5L457.6 369.8M477.7 372.3L478.8 372.6M451.5 378.5L453.8 376.0M479.6 390.3L482.4 391.0M474.9 373.6L476.1 373.2M455.9 394.3L456.8 395.3M481.5 383.3L484.7 384.0M454.5 368.0L457.7 368.8M469.3 380.8L470.7 383.2M485.1 380.1L486.5 381.7M463.3 371.3L466.1 369.3M453.7 393.3L455.3 391.3M476.7 390.7L478.1 391.4M468.5 374.4L470.1 374.9M478.5 369.6L481.3 369.5M463.9 372.4L465.7 370.0M471.3 369.9L471.8 372.5M472.1 370.5L472.9 371.6M478.5 371.3L479.3 374.9M484.0 373.6L485.3 375.0M473.5 392.9L475.5 393.4M461.2 379.6L463.7 376.7M465.1 392.6L467.4 395.6M472.6 387.5L476.2 388.4M452.1 386.7L453.5 385.2M458.5 364.7L462.1 365.6M451.3 387.2L454.4 386.1M457.5 368.1L458.9 368.7M481.7 385.3L484.2 384.4M459.8 366.8L459.6 370.3M457.5 377.3L460.7 375.5M468.6 364.4L470.8 365.6M461.6 395.9L461.8 397.0M457.9 382.3L458.9 385.0M476.8 387.7L478.6 386.9M468.2 381.1L468.8 380.3M467.2 381.9L470.0 384.4M482.6 383.2L483.4 382.6M464.9 380.8L464.9 381.9M462.9 385.0L465.3 383.6M475.2 378.5L476.2 379.1M468.0 371.6L468.8 374.6M467.2 395.9L470.9 395.0M470.1 390.1L471.9 390.1M475.9 377.8L477.1 378.0M477.5 390.9L479.5 390.5M473.5 392.2L473.7 393.9M464.0 371.3L466.5 373.9M452.3 379.8L453.2 378.0M460.9 393.8L461.8 395.8M462.1 372.8L465.7 373.4M460.0 378.4L461.8 377.8M463.8 371.4L465.8 368.5M457.9 378.8L458.8 379.8M472.5 369.8L472.3 372.3M464.0 397.1L464.9 397.9M465.2 365.3L465.4 367.8M472.5 384.6L473.8 383.2M466.7 372.7L469.6 373.5M464.1 395.5L467.0 395.8M480.6 385.2L482.8 383.9M457.5 374.3L460.5 371.9M479.9 377.4L483.2 376.7M464.1 374.2L464.9 376.9M475.7 366.2L476.6 365.8M454.3 379.5L455.3 378.0M467.9 392.7L469.6 389.2M461.2 372.4L461.1 374.9M457.7 379.2L459.3 377.9M482.0 381.0L484.8 383.4M460.5 365.5L462.2 365.4M472.9 378.3L474.4 381.9M478.9 368.2L480.5 370.9M479.2 370.4L480.3 371.2M468.7 382.9L470.2 383.6M465.7 365.7L468.4 364.4M468.9 381.8L471.8 379.9M448.6 384.3L450.1 387.7M451.7 371.9L453.0 371.7M462.0 377.1L465.5 378.6M457.1 372.2L459.0 372.8M477.1 373.5L480.8 372.2M461.7 391.5L462.7 392.1M469.8 396.2L470.9 396.7M476.5 369.3L477.6 369.8M460.1 383.4L461.4 381.3M461.6 395.1L463.5 396.1M453.5 378.8L454.6 377.6M456.0 377.3L457.4 375.5M479.0 368.3L480.4 370.2M450.7 387.2L452.7 387.9M472.9 378.8L474.1 376.9M483.5 375.5L483.7 377.7M467.4 371.2L467.6 373.7M471.6 392.6L474.2 392.4M456.8 369.8L457.9 372.8M470.4 376.0L473.5 375.0M452.5 371.3L455.2 373.5M463.1 373.8L465.3 376.8M461.4 376.5L462.6 375.1M479.4 389.6L481.1 387.2M472.0 398.2L473.6 396.9M474.9 367.0L477.3 366.8M476.2 375.3L478.7 376.6M464.6 394.4L467.0 395.6M464.6 374.9L465.8 373.4M461.7 373.1L462.5 374.2M468.9 385.4L470.1 384.7M481.8 374.8L483.7 374.7M475.4 381.0L477.1 381.6M452.8 380.1L455.1 377.8M480.4 370.5L481.8 370.4M479.4 391.3L481.3 389.0M481.4 374.2L484.6 375.9M467.4 369.8L470.4 371.3M459.2 378.1L461.6 378.4M455.0 389.4L457.6 387.2M464.0 369.7L466.3 369.9" stroke="#3e3e3e" stroke-width="0.75" fill="none" stroke-linecap="round"/>
</g>
<ellipse cx="437.8" cy="383.9" rx="10.4" ry="10.4" transform="rotate(0 437.8 383.9)" fill="#cecece" stroke="#787878" stroke-width="0.7"/>
<g transform="rotate(-5 424.4 400.6)">
<ellipse cx="424.4" cy="400.6" rx="15.1" ry="5.0" fill="#787878" stroke="#323232" stroke-width="1.0"/>
<path d="M433.4 401.4L435.2 402.1M417.0 398.4L418.4 400.3M434.0 399.7L435.9 401.0M432.2 399.9L433.3 400.8M429.7 397.1L430.5 398.1M434.6 400.0L436.4 401.6M416.7 397.5L417.6 398.6M411.7 400.3L413.3 402.1M424.0 400.4L425.2 402.3M430.0 401.7L431.1 402.7M423.3 396.4L425.2 396.9M434.1 403.1L435.7 403.3M418.8 399.9L420.7 400.1M418.7 401.8L420.8 403.5M432.8 401.2L433.2 402.4M425.6 403.9L427.2 404.8M428.7 399.0L431.2 400.6M419.1 398.3L419.7 399.6M425.3 402.1L426.8 403.5M432.3 400.2L433.7 402.4M432.3 397.5L433.8 400.0M424.9 397.0L425.3 398.2" stroke="#aaaaaa" stroke-width="0.7" fill="none" stroke-linecap="round"/>
<path d="M423.5 398.7L425.3 400.8M424.2 399.6L425.2 400.9M436.3 399.1L436.9 400.8M422.3 399.2L424.6 400.9M414.9 398.0L415.9 399.7M420.8 401.4L423.1 402.6M423.5 398.9L424.8 401.3M413.4 399.7L414.4 400.0M427.8 400.5L428.8 401.7M419.3 397.2L421.9 398.0M426.3 399.5L428.5 399.7M414.5 400.1L415.2 400.9M416.5 397.7L417.8 399.4" stroke="#414141" stroke-width="0.8" fill="none" stroke-linecap="round"/>
</g>
</g>
<clipPath id="c2"><rect x="493" y="327.1" width="76.00" height="74.60"/></clipPath>
<g clip-path="url(#c2)" filter="url(#grain)">
<rect x="492" y="326.1" width="78.00" height="76.60" fill="#bababa"/>
<ellipse cx="498.0" cy="360.5" rx="7.5" ry="10.9" fill="#737373" transform="rotate(0 498.0 360.5)" filter="url(#soft)"/>
<ellipse cx="500.5" cy="395.6" rx="10.9" ry="7.5" fill="#787878" transform="rotate(0 500.5 395.6)" filter="url(#soft)"/>
<ellipse cx="558.3" cy="377.2" rx="8.4" ry="6.7" fill="#8c8c8c" transform="rotate(0 558.3 377.2)" filter="url(#soft)"/>
<ellipse cx="558.3" cy="342.1" rx="6.7" ry="10.0" fill="#b6b6b6" transform="rotate(0 558.3 342.1)" filter="url(#soft)"/>
<ellipse cx="551.1" cy="375.2" rx="2.0" ry="1.4" transform="rotate(122 551.1 375.2)" fill="#cacaca" stroke="#696969" stroke-width="1.04"/>
<ellipse cx="495.7" cy="366.5" rx="1.6" ry="1.3" transform="rotate(110 495.7 366.5)" fill="#cdcdcd" stroke="#646464" stroke-width="1.05"/>
<ellipse cx="517.8" cy="336.7" rx="2.1" ry="1.9" transform="rotate(127 517.8 336.7)" fill="#c6c6c6" stroke="#3b3b3b" stroke-width="0.80"/>
<ellipse cx="513.6" cy="330.5" rx="3.0" ry="2.8" transform="rotate(139 513.6 330.5)" fill="#c6c6c6" stroke="#3b3b3b" stroke-width="0.77"/>
<ellipse cx="562.5" cy="336.4" rx="1.5" ry="1.0" transform="rotate(142 562.5 336.4)" fill="#d8d8d8" stroke="#434343" stroke-width="0.82"/>
<ellipse cx="515.2" cy="391.7" rx="3.2" ry="2.2" transform="rotate(63 515.2 391.7)" fill="#c5c5c5" stroke="#3c3c3c" stroke-width="0.85"/>
<ellipse cx="532.6" cy="369.8" rx="1.9" ry="1.3" transform="rotate(100 532.6 369.8)" fill="#c8c8c8" stroke="#4a4a4a" stroke-width="1.09"/>
<ellipse cx="565.7" cy="399.4" rx="2.0" ry="2.0" transform="rotate(19 565.7 399.4)" fill="#c4c4c4" stroke="#676767" stroke-width="1.05"/>
<ellipse cx="544.5" cy="398.6" rx="1.8" ry="1.6" transform="rotate(169 544.5 398.6)" fill="#c4c4c4" stroke="#3f3f3f" stroke-width="0.92"/>
<ellipse cx="503.2" cy="331.2" rx="1.2" ry="0.9" transform="rotate(117 503.2 331.2)" fill="#cecece" stroke="#505050" stroke-width="0.71"/>
<ellipse cx="500.7" cy="369.3" rx="1.5" ry="0.9" transform="rotate(11 500.7 369.3)" fill="#d7d7d7" stroke="#5a5a5a" stroke-width="0.90"/>
<ellipse cx="493.5" cy="341.6" rx="2.6" ry="2.4" transform="rotate(37 493.5 341.6)" fill="#c1c1c1" stroke="#505050" stroke-width="0.92"/>
<ellipse cx="550.5" cy="364.4" rx="2.8" ry="1.9" transform="rotate(120 550.5 364.4)" fill="#cecece" stroke="#515151" stroke-width="0.73"/>
<ellipse cx="527.5" cy="373.4" rx="1.7" ry="1.4" transform="rotate(4 527.5 373.4)" fill="#d7d7d7" stroke="#4e4e4e" stroke-width="0.96"/>
<ellipse cx="545.7" cy="365.1" rx="2.0" ry="1.9" transform="rotate(102 545.7 365.1)" fill="#c9c9c9" stroke="#515151" stroke-width="0.76"/>
<ellipse cx="507.5" cy="372.0" rx="2.3" ry="2.1" transform="rotate(81 507.5 372.0)" fill="#cdcdcd" stroke="#4c4c4c" stroke-width="0.80"/>
<ellipse cx="566.1" cy="374.5" rx="1.8" ry="1.4" transform="rotate(151 566.1 374.5)" fill="#d1d1d1" stroke="#696969" stroke-width="1.05"/>
<ellipse cx="554.3" cy="354.5" rx="2.0" ry="1.6" transform="rotate(9 554.3 354.5)" fill="#cdcdcd" stroke="#575757" stroke-width="1.01"/>
<ellipse cx="518.8" cy="400.0" rx="2.7" ry="2.2" transform="rotate(41 518.8 400.0)" fill="#d0d0d0" stroke="#686868" stroke-width="0.95"/>
<ellipse cx="507.9" cy="395.6" rx="2.1" ry="1.8" transform="rotate(125 507.9 395.6)" fill="#c7c7c7" stroke="#626262" stroke-width="0.78"/>
<ellipse cx="566.2" cy="337.6" rx="3.2" ry="2.4" transform="rotate(4 566.2 337.6)" fill="#d2d2d2" stroke="#484848" stroke-width="0.86"/>
<ellipse cx="503.6" cy="332.9" rx="1.3" ry="1.1" transform="rotate(66 503.6 332.9)" fill="#c3c3c3" stroke="#5b5b5b" stroke-width="0.81"/>
<ellipse cx="550.1" cy="376.6" rx="2.0" ry="1.8" transform="rotate(62 550.1 376.6)" fill="#d2d2d2" stroke="#676767" stroke-width="0.81"/>
<ellipse cx="557.6" cy="373.9" rx="2.9" ry="2.6" transform="rotate(165 557.6 373.9)" fill="#c8c8c8" stroke="#545454" stroke-width="0.99"/>
<ellipse cx="563.4" cy="366.3" rx="2.6" ry="2.2" transform="rotate(60 563.4 366.3)" fill="#cfcfcf" stroke="#434343" stroke-width="0.77"/>
<ellipse cx="566.4" cy="371.1" rx="2.3" ry="1.5" transform="rotate(135 566.4 371.1)" fill="#d1d1d1" stroke="#4b4b4b" stroke-width="1.08"/>
<ellipse cx="556.2" cy="343.6" rx="3.1" ry="2.6" transform="rotate(32 556.2 343.6)" fill="#c6c6c6" stroke="#3b3b3b" stroke-width="0.93"/>
<ellipse cx="529.9" cy="327.4" rx="3.1" ry="1.9" transform="rotate(151 529.9 327.4)" fill="#d3d3d3" stroke="#525252" stroke-width="1.02"/>
<ellipse cx="545.9" cy="355.3" rx="2.2" ry="1.5" transform="rotate(47 545.9 355.3)" fill="#c9c9c9" stroke="#3a3a3a" stroke-width="1.06"/>
<ellipse cx="547.7" cy="331.7" rx="1.9" ry="1.5" transform="rotate(94 547.7 331.7)" fill="#d4d4d4" stroke="#535353" stroke-width="0.78"/>
<ellipse cx="541.7" cy="375.4" rx="1.2" ry="0.8" transform="rotate(21 541.7 375.4)" fill="#d5d5d5" stroke="#585858" stroke-width="1.05"/>
<ellipse cx="556.7" cy="368.0" rx="2.4" ry="2.1" transform="rotate(54 556.7 368.0)" fill="#c3c3c3" stroke="#515151" stroke-width="0.83"/>
<ellipse cx="520.8" cy="398.5" rx="1.6" ry="1.3" transform="rotate(11 520.8 398.5)" fill="#cccccc" stroke="#3c3c3c" stroke-width="0.94"/>
<ellipse cx="529.2" cy="373.8" rx="3.0" ry="1.9" transform="rotate(139 529.2 373.8)" fill="#d5d5d5" stroke="#404040" stroke-width="1.00"/>
<ellipse cx="552.4" cy="391.2" rx="1.3" ry="0.8" transform="rotate(75 552.4 391.2)" fill="#d6d6d6" stroke="#3c3c3c" stroke-width="0.77"/>
<ellipse cx="510.6" cy="381.2" rx="1.4" ry="1.3" transform="rotate(63 510.6 381.2)" fill="#d4d4d4" stroke="#545454" stroke-width="0.73"/>
<ellipse cx="512.4" cy="355.5" rx="2.6" ry="1.9" transform="rotate(76 512.4 355.5)" fill="#cecece" stroke="#434343" stroke-width="0.87"/>
<ellipse cx="542.3" cy="327.6" rx="2.3" ry="2.3" transform="rotate(43 542.3 327.6)" fill="#d3d3d3" stroke="#454545" stroke-width="0.76"/>
<ellipse cx="531.8" cy="357.7" rx="1.5" ry="1.1" transform="rotate(144 531.8 357.7)" fill="#c6c6c6" stroke="#595959" stroke-width="0.94"/>
<ellipse cx="568.6" cy="338.8" rx="2.7" ry="1.7" transform="rotate(47 568.6 338.8)" fill="#cecece" stroke="#3f3f3f" stroke-width="0.96"/>
<ellipse cx="547.1" cy="371.3" rx="2.4" ry="1.6" transform="rotate(48 547.1 371.3)" fill="#d8d8d8" stroke="#404040" stroke-width="0.74"/>
<ellipse cx="557.5" cy="355.7" rx="2.9" ry="2.3" transform="rotate(170 557.5 355.7)" fill="#d3d3d3" stroke="#5e5e5e" stroke-width="0.72"/>
<ellipse cx="544.4" cy="329.3" rx="2.4" ry="1.8" transform="rotate(26 544.4 329.3)" fill="#c7c7c7" stroke="#515151" stroke-width="0.89"/>
<ellipse cx="562.3" cy="397.1" rx="1.7" ry="1.3" transform="rotate(82 562.3 397.1)" fill="#d7d7d7" stroke="#494949" stroke-width="1.04"/>
<ellipse cx="506.5" cy="389.1" rx="2.9" ry="2.7" transform="rotate(75 506.5 389.1)" fill="#d1d1d1" stroke="#3a3a3a" stroke-width="0.77"/>
<ellipse cx="497.5" cy="390.4" rx="2.7" ry="2.3" transform="rotate(63 497.5 390.4)" fill="#cecece" stroke="#4d4d4d" stroke-width="0.79"/>
<ellipse cx="505.2" cy="349.7" rx="2.2" ry="1.9" transform="rotate(128 505.2 349.7)" fill="#cacaca" stroke="#565656" stroke-width="1.05"/>
<ellipse cx="533.2" cy="363.4" rx="1.6" ry="1.5" transform="rotate(9 533.2 363.4)" fill="#d0d0d0" stroke="#616161" stroke-width="1.10"/>
<path d="M557.5 365.4Q556.1 365.6 556.3 362.4M493.6 334.2Q495.6 332.9 495.7 330.9M504.9 363.7Q505.0 363.3 501.3 363.3M546.3 376.0Q547.9 379.3 550.2 379.0M559.3 349.4Q558.6 347.3 556.1 347.1M520.7 398.7Q520.9 398.3 517.2 400.6M552.1 400.1Q554.9 400.3 554.7 401.9M507.2 384.8Q509.0 387.8 508.3 388.7M547.3 348.5Q544.7 348.8 543.9 346.8M561.0 396.2Q560.8 396.3 556.9 395.9M524.9 350.2Q529.0 351.3 529.1 352.0M553.8 394.2Q555.4 395.1 556.7 395.1M504.9 361.1Q505.2 363.1 503.7 362.9M565.4 377.1Q564.9 374.4 566.6 373.3M507.7 365.5Q506.4 362.0 508.9 362.0M544.0 372.8Q541.6 372.9 541.6 371.3M511.8 359.5Q512.8 357.2 511.6 357.2M557.8 385.7Q559.4 384.6 557.3 381.0M507.0 387.8Q509.4 388.2 509.0 389.5M552.0 344.3Q554.4 346.5 553.6 345.8M565.7 364.8Q564.5 362.2 566.1 361.6M535.1 365.9Q536.2 364.7 538.4 367.2M497.0 354.0Q498.3 354.2 501.2 353.7M566.0 363.3Q568.9 365.4 570.2 364.8M555.4 399.1Q553.7 396.7 555.8 396.4M554.5 352.9Q555.7 352.7 557.3 349.4M502.5 336.4Q502.2 336.2 504.4 334.1M517.6 335.9Q517.1 335.8 515.9 338.4M564.9 369.6Q566.2 369.4 564.3 372.9M532.9 367.6Q533.2 367.1 536.7 368.9M540.7 368.7Q539.9 371.4 542.5 370.7M567.2 360.0Q568.7 355.7 566.7 355.3M507.1 384.5Q506.2 382.6 508.8 382.1M496.2 351.1Q496.1 353.3 497.3 353.3M518.5 335.5Q518.6 337.0 520.4 334.8M545.0 353.3Q543.3 353.3 542.7 351.5M548.1 374.4Q546.7 371.5 547.4 371.6M502.4 330.6Q500.9 332.7 500.1 332.7M508.0 380.1Q508.6 380.3 505.4 381.3M503.2 373.7Q504.3 373.6 506.2 374.2M498.9 393.7Q498.2 396.8 500.8 397.3M493.5 361.6Q495.5 361.3 494.0 364.6M519.9 334.5Q520.2 334.0 521.3 331.4M556.4 396.9Q557.3 396.3 558.3 395.4M546.9 349.0Q549.4 352.3 548.9 351.8" fill="none" stroke="#434343" stroke-width="0.8" stroke-linecap="round"/>
<g transform="rotate(0 513.9 345.4)">
<ellipse cx="513.9" cy="345.4" rx="8.4" ry="8.4" fill="#6c6c6c" stroke="#303030" stroke-width="1.0"/>
<path d="M519.8 346.3L518.6 348.6M518.2 344.5L517.1 347.0M516.9 339.8L514.8 340.8M510.2 346.1L507.6 347.5M510.2 347.9L509.3 350.5M517.7 344.1L516.9 345.9M513.9 346.8L513.3 347.9M508.5 342.3L508.3 343.5M519.1 347.3L517.9 349.2M509.8 347.2L508.9 348.1M515.1 349.0L512.5 350.4M520.8 347.0L519.2 349.5" stroke="#9e9e9e" stroke-width="0.7" fill="none" stroke-linecap="round"/>
<path d="M517.0 339.9L515.4 341.3M515.8 349.3L515.4 351.0M512.0 339.1L510.8 340.6M517.0 345.5L514.7 347.0M512.4 347.1L511.3 347.6M514.1 348.7L512.6 349.8M510.6 340.3L509.9 342.5M517.4 350.8L516.7 352.5M511.7 347.4L510.7 348.4M511.2 345.3L510.4 348.0M510.7 343.5L510.3 345.5M511.5 350.6L511.1 351.7M516.3 341.1L515.5 343.7M511.4 341.6L511.3 342.6M510.7 347.3L509.6 349.7M518.5 347.8L517.7 348.9M515.7 349.3L514.6 351.1M519.9 347.6L519.1 348.5M514.3 345.0L513.6 346.4M519.7 341.6L519.1 343.0M513.9 340.1L513.9 341.3" stroke="#353535" stroke-width="0.8" fill="none" stroke-linecap="round"/>
</g>
<g transform="rotate(0 536.2 340.7)">
<ellipse cx="536.2" cy="340.7" rx="12.0" ry="13.1" fill="#7c7c7c" stroke="#282828" stroke-width="1.0"/>
<path d="M543.0 333.1L541.6 334.8M543.3 341.3L542.7 343.6M542.8 338.1L541.6 340.7M531.4 331.4L530.1 332.3M538.1 347.5L538.0 350.3M531.1 331.4L530.5 332.5M531.4 346.1L530.3 348.2M532.3 333.7L531.7 334.6M537.5 333.3L537.2 336.0M527.8 343.2L527.0 344.5M537.8 343.5L537.1 344.3M541.9 341.8L540.7 343.5M534.8 329.7L533.7 330.8M536.7 342.2L535.3 344.4M533.6 339.8L532.3 340.7M538.5 330.7L538.4 333.2M539.3 336.0L538.9 338.6M536.3 343.7L534.1 345.7M534.1 348.4L534.1 349.4M536.2 341.7L533.8 342.9M536.3 347.2L535.4 348.6M535.5 329.7L535.3 331.0M528.7 335.0L528.8 337.1M545.4 340.5L544.8 343.1M533.1 334.2L532.2 335.1M536.9 347.4L535.9 348.7M537.7 344.6L536.4 345.2M536.3 347.4L534.9 348.5M529.8 345.7L529.0 347.9M531.4 349.5L530.3 350.3M535.5 335.8L535.5 337.4M528.6 335.3L526.5 337.0M531.5 347.3L530.6 348.1M533.1 334.9L530.7 336.2M538.8 344.3L537.4 345.2M542.2 340.1L541.7 341.3M539.1 349.4L536.6 350.7M537.5 347.4L536.1 348.1" stroke="#d7d7d7" stroke-width="0.7" fill="none" stroke-linecap="round"/>
<path d="M533.9 334.4L532.8 336.0M543.0 337.4L543.2 340.1M544.3 342.2L543.2 342.9M544.3 345.0L544.3 346.8M528.2 339.7L527.2 341.7M542.1 338.9L540.4 340.3M529.2 345.0L529.3 346.4M543.3 335.2L542.6 336.1M541.9 338.7L540.5 340.8M533.4 344.5L532.3 346.5M543.6 336.5L542.4 338.6M543.1 333.8L541.9 335.0M535.0 335.4L534.0 337.2M532.2 342.3L531.6 343.5M531.2 347.7L531.0 350.4M537.4 349.5L536.7 350.7M543.6 345.2L542.3 347.1M536.9 346.0L535.9 346.9M543.6 345.6L543.1 347.3M533.0 337.8L532.2 338.4M544.8 339.9L544.0 341.4M540.9 340.2L540.5 343.0M545.0 344.5L542.5 346.1M536.2 333.0L535.3 334.5M532.9 345.4L532.3 347.1M531.7 341.5L530.4 342.4M535.9 332.6L535.1 333.2M542.3 348.9L541.1 350.7M538.4 330.2L538.0 331.5M529.0 337.9L526.8 339.5M543.8 346.5L541.7 347.8M538.7 340.7L538.2 342.3M528.7 338.8L527.3 340.8M536.3 330.2L536.0 331.7M533.1 341.4L532.2 342.1M533.2 332.2L531.1 334.0M532.8 349.3L531.9 351.3M542.1 347.0L540.7 347.8M532.8 330.5L530.8 331.6M538.4 334.9L537.5 336.8" stroke="#454545" stroke-width="0.8" fill="none" stroke-linecap="round"/>
</g>
<g transform="rotate(-20 522.3 363.8)">
<ellipse cx="522.3" cy="363.8" rx="10.0" ry="9.7" fill="#3e3e3e" stroke="#0f0f0f" stroke-width="1.0"/>
<path d="M526.1 366.0L527.5 367.4M518.8 358.5L520.0 359.9M523.8 369.5L524.2 371.9M518.9 370.0L519.5 371.1M519.1 368.3L521.5 369.9M519.7 356.6L520.4 358.4M524.2 356.7L526.0 358.1M529.3 363.7L529.9 366.4M523.8 366.1L524.3 368.8M523.8 359.1L524.2 361.4M518.8 365.7L518.9 368.6M516.8 364.9L518.4 365.9M521.8 359.3L522.6 362.0M525.7 366.7L527.8 368.6M528.4 358.9L530.1 361.3M523.0 357.4L523.4 358.4M518.0 366.6L518.4 369.1M517.7 367.0L519.0 368.0M522.9 359.7L524.5 360.5M514.2 364.5L516.6 365.4M518.6 364.5L520.6 365.7M514.2 364.9L514.3 367.1M519.3 367.1L521.2 369.3M519.6 364.3L521.6 365.0M517.7 359.2L518.6 359.6M528.4 367.2L528.9 368.2M527.8 361.9L528.8 363.1M522.8 367.7L524.2 369.4M529.2 362.4L530.2 365.0M517.7 363.3L518.5 365.8M530.0 365.8L530.5 367.0" stroke="#aaaaaa" stroke-width="0.7" fill="none" stroke-linecap="round"/>
<path d="M522.9 369.1L523.1 371.1M519.7 360.7L521.4 362.1M530.7 362.9L530.8 364.1M518.9 369.8L521.5 371.3M520.2 369.3L521.0 371.9M526.1 360.7L526.2 362.9M515.5 360.1L516.1 361.4M515.5 359.0L517.8 360.4M519.6 367.9L520.8 368.6M525.3 366.5L525.5 369.2M516.6 357.8L516.8 360.1M527.2 357.2L528.7 359.8M526.5 365.4L527.3 368.2M519.0 362.1L519.9 364.2M521.0 355.6L521.0 357.3M522.4 367.8L523.5 370.4M524.2 364.7L524.4 366.6M519.1 368.6L520.1 369.8M528.6 359.6L529.7 361.8" stroke="#0f0f0f" stroke-width="0.8" fill="none" stroke-linecap="round"/>
</g>
<g transform="rotate(0 530.7 388.9)">
<ellipse cx="530.7" cy="388.9" rx="12.5" ry="12.5" fill="#6e6e6e" stroke="#282828" stroke-width="1.0"/>
<path d="M527.6 398.4L525.9 398.2M527.1 390.3L524.8 392.3M529.3 391.5L527.7 392.2M527.4 383.8L525.9 383.5M531.1 393.5L529.4 393.5M538.1 391.2L536.3 391.7M534.9 390.9L532.2 391.1M527.9 389.7L526.5 391.5M528.8 392.3L527.7 392.2M527.5 382.8L525.9 383.2M536.5 397.3L534.4 396.8M527.4 395.8L525.7 395.9M527.9 386.7L527.2 387.6M537.5 389.0L536.5 389.5M537.1 387.6L534.4 387.8M522.4 390.3L520.9 390.4M529.8 394.7L526.8 395.0M540.3 385.8L538.7 387.1M529.8 383.4L527.5 382.7M528.0 388.0L526.5 388.0M528.8 381.5L527.3 381.2M524.1 384.3L521.8 383.9M538.7 384.8L536.1 386.3M537.9 388.3L536.9 388.1M527.0 396.8L525.0 396.9M526.7 395.4L524.2 395.2M522.4 387.6L520.7 388.2M538.5 393.2L536.4 393.9M531.2 394.9L529.7 395.4M532.8 384.4L530.5 385.2M533.1 381.6L531.1 382.4M527.7 378.9L526.1 380.1M524.0 388.3L522.1 388.2M528.7 396.1L527.6 397.0M522.5 386.2L521.1 386.6M532.4 378.3L530.9 379.8M524.0 394.7L521.9 395.1M523.3 383.3L520.8 384.0M529.8 390.3L527.0 389.7M533.6 391.1L532.1 391.2" stroke="#d7d7d7" stroke-width="0.7" fill="none" stroke-linecap="round"/>
<path d="M521.0 387.8L520.1 388.9M534.8 394.3L533.2 394.6M525.7 396.3L524.6 396.9M536.3 387.4L534.0 388.9M524.2 391.2L521.7 390.5M529.7 378.7L527.9 378.7M523.3 384.2L522.3 384.9M527.3 380.5L525.5 380.2M524.9 390.3L522.3 389.6M532.1 396.8L529.2 397.4M533.4 378.8L531.8 379.7M535.2 385.4L534.0 386.2M529.4 387.7L527.9 387.7M537.1 386.4L535.2 386.1M528.6 393.6L526.1 393.4M537.2 382.3L535.5 383.6M527.6 388.3L525.2 387.6M537.3 388.9L535.7 390.2M538.3 389.7L536.4 391.3M527.6 381.4L525.2 382.4M527.5 388.9L524.8 389.9M526.0 380.4L524.5 380.4M529.8 383.9L528.4 384.5M535.1 391.1L533.7 391.2M531.0 398.0L528.7 397.8M520.5 388.7L519.3 388.6M532.1 382.6L530.0 383.1M529.9 395.6L528.8 396.6M526.4 386.8L523.7 387.6M529.0 384.8L528.1 385.5M534.6 388.9L533.4 388.9M537.5 383.3L535.6 383.2M533.8 387.2L532.3 386.8M524.4 390.1L522.6 391.6M530.9 379.8L529.9 379.5M539.9 391.8L537.7 391.3M532.8 399.0L531.2 398.7M540.3 389.8L538.0 391.2M523.1 386.7L521.5 386.4M535.5 394.0L532.9 393.8M541.4 388.8L538.6 389.3" stroke="#373737" stroke-width="0.8" fill="none" stroke-linecap="round"/>
</g>
</g>
<clipPath id="c3"><rect x="574.9" y="327.1" width="75.60" height="74.60"/></clipPath>
<g clip-path="url(#c3)" filter="url(#grain)">
<rect x="573.9" y="326.1" width="77.60" height="76.60" fill="#c0c0c0"/>
<ellipse cx="611.8" cy="333.7" rx="38.5" ry="8.4" fill="#969696" transform="rotate(0 611.8 333.7)" filter="url(#soft)"/>
<ellipse cx="585.1" cy="360.5" rx="10.0" ry="10.0" fill="#a8a8a8" transform="rotate(0 585.1 360.5)" filter="url(#soft)"/>
<ellipse cx="577.3" cy="399.4" rx="1.6" ry="1.6" transform="rotate(170 577.3 399.4)" fill="none" stroke="#4e4e4e" stroke-width="0.91"/>
<ellipse cx="634.6" cy="388.8" rx="1.7" ry="1.4" transform="rotate(123 634.6 388.8)" fill="none" stroke="#5f5f5f" stroke-width="0.75"/>
<ellipse cx="644.8" cy="388.5" rx="2.5" ry="1.8" transform="rotate(169 644.8 388.5)" fill="none" stroke="#4c4c4c" stroke-width="0.84"/>
<ellipse cx="586.8" cy="371.0" rx="2.8" ry="2.5" transform="rotate(149 586.8 371.0)" fill="none" stroke="#646464" stroke-width="0.96"/>
<ellipse cx="593.9" cy="398.6" rx="3.2" ry="2.8" transform="rotate(179 593.9 398.6)" fill="none" stroke="#6d6d6d" stroke-width="1.05"/>
<ellipse cx="632.1" cy="387.7" rx="2.6" ry="1.7" transform="rotate(151 632.1 387.7)" fill="none" stroke="#535353" stroke-width="0.96"/>
<ellipse cx="642.9" cy="363.9" rx="1.7" ry="1.4" transform="rotate(158 642.9 363.9)" fill="none" stroke="#6b6b6b" stroke-width="1.10"/>
<ellipse cx="643.5" cy="387.1" rx="2.2" ry="1.5" transform="rotate(168 643.5 387.1)" fill="none" stroke="#434343" stroke-width="1.08"/>
<ellipse cx="623.2" cy="344.7" rx="1.5" ry="1.4" transform="rotate(13 623.2 344.7)" fill="none" stroke="#575757" stroke-width="0.74"/>
<ellipse cx="585.1" cy="345.9" rx="2.5" ry="1.5" transform="rotate(154 585.1 345.9)" fill="none" stroke="#616161" stroke-width="0.80"/>
<ellipse cx="628.9" cy="331.8" rx="1.7" ry="1.4" transform="rotate(154 628.9 331.8)" fill="none" stroke="#636363" stroke-width="0.72"/>
<ellipse cx="647.4" cy="338.6" rx="1.6" ry="1.3" transform="rotate(13 647.4 338.6)" fill="none" stroke="#565656" stroke-width="0.78"/>
<ellipse cx="611.2" cy="376.1" rx="2.0" ry="1.7" transform="rotate(53 611.2 376.1)" fill="none" stroke="#555555" stroke-width="0.73"/>
<ellipse cx="587.0" cy="350.8" rx="2.3" ry="1.8" transform="rotate(114 587.0 350.8)" fill="none" stroke="#4e4e4e" stroke-width="1.03"/>
<ellipse cx="586.2" cy="395.7" rx="1.9" ry="1.3" transform="rotate(60 586.2 395.7)" fill="none" stroke="#707070" stroke-width="0.98"/>
<ellipse cx="646.2" cy="401.0" rx="2.1" ry="2.0" transform="rotate(8 646.2 401.0)" fill="none" stroke="#6a6a6a" stroke-width="0.80"/>
<ellipse cx="600.2" cy="377.1" rx="2.2" ry="1.8" transform="rotate(58 600.2 377.1)" fill="none" stroke="#555555" stroke-width="1.07"/>
<ellipse cx="576.9" cy="328.6" rx="2.5" ry="1.6" transform="rotate(46 576.9 328.6)" fill="none" stroke="#4f4f4f" stroke-width="0.71"/>
<ellipse cx="604.4" cy="399.7" rx="2.9" ry="1.8" transform="rotate(178 604.4 399.7)" fill="none" stroke="#6e6e6e" stroke-width="1.04"/>
<ellipse cx="588.3" cy="350.8" rx="1.5" ry="1.4" transform="rotate(129 588.3 350.8)" fill="none" stroke="#4f4f4f" stroke-width="1.08"/>
<ellipse cx="629.9" cy="380.4" rx="2.0" ry="1.9" transform="rotate(99 629.9 380.4)" fill="none" stroke="#686868" stroke-width="1.07"/>
<ellipse cx="580.3" cy="330.6" rx="1.7" ry="1.6" transform="rotate(59 580.3 330.6)" fill="none" stroke="#545454" stroke-width="0.92"/>
<ellipse cx="636.8" cy="361.7" rx="2.7" ry="1.8" transform="rotate(135 636.8 361.7)" fill="none" stroke="#585858" stroke-width="0.90"/>
<ellipse cx="585.7" cy="384.1" rx="2.2" ry="1.4" transform="rotate(172 585.7 384.1)" fill="none" stroke="#666666" stroke-width="0.74"/>
<ellipse cx="588.4" cy="396.9" rx="2.1" ry="1.7" transform="rotate(75 588.4 396.9)" fill="none" stroke="#414141" stroke-width="0.73"/>
<ellipse cx="595.3" cy="336.6" rx="2.0" ry="1.5" transform="rotate(137 595.3 336.6)" fill="none" stroke="#424242" stroke-width="0.97"/>
<ellipse cx="593.8" cy="373.8" rx="1.9" ry="1.2" transform="rotate(130 593.8 373.8)" fill="none" stroke="#444444" stroke-width="1.03"/>
<ellipse cx="599.4" cy="335.6" rx="2.4" ry="2.1" transform="rotate(178 599.4 335.6)" fill="none" stroke="#4c4c4c" stroke-width="0.74"/>
<ellipse cx="644.8" cy="347.2" rx="2.4" ry="2.0" transform="rotate(177 644.8 347.2)" fill="none" stroke="#5f5f5f" stroke-width="1.02"/>
<ellipse cx="589.0" cy="386.4" rx="2.2" ry="2.0" transform="rotate(115 589.0 386.4)" fill="none" stroke="#484848" stroke-width="0.86"/>
<ellipse cx="621.3" cy="341.2" rx="1.8" ry="1.3" transform="rotate(83 621.3 341.2)" fill="none" stroke="#6d6d6d" stroke-width="1.08"/>
<ellipse cx="623.4" cy="377.4" rx="3.1" ry="2.9" transform="rotate(104 623.4 377.4)" fill="none" stroke="#434343" stroke-width="0.84"/>
<ellipse cx="595.3" cy="372.7" rx="2.0" ry="1.3" transform="rotate(118 595.3 372.7)" fill="none" stroke="#565656" stroke-width="0.89"/>
<ellipse cx="641.6" cy="387.8" rx="1.5" ry="1.2" transform="rotate(123 641.6 387.8)" fill="none" stroke="#4b4b4b" stroke-width="0.83"/>
<ellipse cx="634.8" cy="398.2" rx="2.6" ry="2.0" transform="rotate(121 634.8 398.2)" fill="none" stroke="#6e6e6e" stroke-width="0.74"/>
<ellipse cx="580.1" cy="372.3" rx="3.1" ry="3.0" transform="rotate(41 580.1 372.3)" fill="none" stroke="#535353" stroke-width="1.00"/>
<ellipse cx="605.6" cy="339.8" rx="2.2" ry="1.8" transform="rotate(52 605.6 339.8)" fill="none" stroke="#666666" stroke-width="0.93"/>
<ellipse cx="648.2" cy="331.6" rx="1.8" ry="1.4" transform="rotate(83 648.2 331.6)" fill="none" stroke="#4e4e4e" stroke-width="1.06"/>
<ellipse cx="595.7" cy="387.4" rx="2.3" ry="2.1" transform="rotate(153 595.7 387.4)" fill="none" stroke="#575757" stroke-width="0.71"/>
<ellipse cx="606.5" cy="328.4" rx="1.2" ry="0.8" transform="rotate(22 606.5 328.4)" fill="none" stroke="#6d6d6d" stroke-width="1.00"/>
<path d="M593.9 333.0Q595.3 335.0 597.1 333.7M620.1 342.7Q619.5 344.5 620.1 345.4M621.1 343.5Q617.9 345.0 618.7 347.5M610.4 339.3Q609.9 336.4 610.9 334.5M594.4 379.5Q594.4 380.3 597.7 379.6M619.5 368.5Q620.7 368.9 618.6 366.2M594.9 369.6Q593.1 369.1 590.3 368.6M589.3 349.2Q587.7 348.5 587.3 349.0M624.6 376.2Q627.2 375.3 627.0 377.8M602.5 334.4Q602.0 338.4 601.9 339.3M580.3 372.8Q580.0 371.1 577.6 372.3M623.0 375.8Q623.7 378.5 626.2 377.8M645.0 349.2Q646.2 348.7 647.8 347.7M627.5 372.2Q630.3 370.3 630.3 371.6M610.1 334.9Q609.9 338.7 612.0 339.4M625.3 358.7Q622.7 358.0 621.7 358.5M627.0 375.5Q628.1 378.0 629.0 377.8M629.8 368.2Q632.1 369.5 632.1 369.7M586.6 370.0Q583.5 370.8 583.9 373.3M588.8 378.0Q589.7 376.0 591.0 373.6M645.1 397.8Q644.3 397.5 643.2 396.1M636.1 340.1Q634.9 337.0 635.5 336.1M649.6 353.2Q646.2 353.4 646.9 353.5M626.4 347.3Q624.5 348.4 623.3 350.4M650.0 345.0Q647.3 344.6 647.3 345.5M620.1 377.7Q619.7 377.2 621.4 379.8M590.1 338.2Q591.9 337.7 591.4 335.0M614.0 398.7Q613.7 397.8 611.0 398.5M617.7 340.6Q618.7 344.7 618.5 345.4M576.3 333.3Q576.8 330.1 574.7 329.3M643.2 338.7Q642.5 340.2 642.5 342.1M590.6 355.1Q588.2 353.2 587.8 350.9M580.6 383.5Q582.4 381.1 581.2 380.4M603.0 377.5Q602.9 378.5 605.9 375.8M594.3 355.1Q594.2 353.1 592.5 352.7M594.2 359.3Q595.8 359.0 595.7 360.9M627.6 355.6Q627.4 358.8 627.8 358.2M628.1 341.0Q625.3 340.6 625.0 338.5M606.8 400.4Q604.9 400.2 606.2 397.9M582.3 401.6Q584.0 400.8 584.8 401.1M636.6 374.4Q639.7 373.0 639.1 370.8M577.7 336.6Q576.9 339.1 579.8 338.9M599.9 329.5Q600.0 331.6 601.9 333.5M621.3 337.2Q618.0 338.1 617.9 339.8M626.7 372.5Q626.3 372.8 626.2 369.3M638.6 383.4Q638.0 383.2 635.5 384.8M619.8 365.1Q618.5 364.8 616.1 362.1M641.2 342.2Q644.2 343.5 644.5 343.6M640.0 373.0Q641.0 370.1 639.9 370.8M578.1 364.3Q578.7 365.8 583.0 363.5M591.1 329.0Q591.3 332.8 593.8 333.2M593.7 345.5Q596.0 343.9 596.7 344.7M579.1 362.2Q577.5 360.5 576.3 362.1M593.0 383.2Q591.5 384.2 588.3 381.4M591.0 333.8Q588.5 331.6 589.2 331.3" fill="none" stroke="#4b4b4b" stroke-width="0.8" stroke-linecap="round"/>
<g transform="rotate(10 611.5 353.0)">
<ellipse cx="611.5" cy="353.0" rx="12.0" ry="8.7" fill="#424242" stroke="#0f0f0f" stroke-width="1.0"/>
<path d="M607.0 358.3L608.3 358.4M605.3 358.8L606.5 359.2M617.6 347.8L618.7 347.7M603.9 348.7L605.1 348.3M611.4 356.0L613.5 356.1M612.7 345.9L615.4 345.5M619.6 349.6L621.2 350.5M606.9 352.3L608.1 353.4M610.7 360.4L611.7 360.6M616.1 353.0L618.2 354.7M607.0 348.2L608.5 347.9M613.4 348.8L614.7 348.7M612.9 353.1L615.2 353.4M616.3 359.0L618.2 358.5M606.4 353.7L608.6 354.2M605.0 352.4L607.1 353.2M614.7 353.2L616.8 355.2M604.5 353.4L605.9 354.1M607.4 354.0L609.4 354.8M610.0 352.0L612.3 351.6M603.4 353.1L605.0 353.1M606.1 356.4L608.7 355.6M608.8 351.3L610.3 351.8M614.9 351.0L617.7 351.5M603.9 356.3L606.7 356.8M607.5 359.6L610.2 360.1M621.3 350.9L622.4 351.9M602.2 351.4L604.9 351.7M618.5 354.7L620.6 354.6M604.8 350.4L607.5 351.2M609.4 352.2L610.8 351.9" stroke="#afafaf" stroke-width="0.7" fill="none" stroke-linecap="round"/>
<path d="M602.3 352.0L604.1 352.4M612.4 349.6L614.9 349.3M618.4 355.7L619.9 356.6M616.7 346.9L618.2 348.8M609.8 353.5L611.6 353.9M611.5 358.3L614.0 357.6M606.8 358.9L608.5 360.1M606.2 355.3L607.4 355.9M611.0 354.5L612.2 354.4M609.9 345.9L611.4 347.2M602.1 354.6L603.3 356.0M619.2 351.5L621.7 350.8M614.2 346.9L615.7 348.3M612.6 358.4L614.1 358.5M617.2 357.5L619.4 358.1M617.4 354.2L619.7 354.3M607.7 347.7L608.5 348.5M607.8 358.5L609.1 358.4M612.9 349.8L614.2 349.8M607.8 346.7L610.5 348.1" stroke="#0f0f0f" stroke-width="0.8" fill="none" stroke-linecap="round"/>
</g>
<g transform="rotate(0 605.5 369.2)">
<ellipse cx="605.5" cy="369.2" rx="8.7" ry="7.5" fill="#484848" stroke="#0f0f0f" stroke-width="1.0"/>
<path d="M599.4 368.7L598.3 370.5M601.7 369.9L599.3 370.3M610.9 370.6L609.0 371.6M600.8 370.3L600.1 371.4M607.0 369.2L606.0 369.7M607.9 365.2L606.8 368.0M605.0 369.8L604.0 370.9M604.2 370.0L601.4 370.5M609.9 371.5L609.0 372.0M610.3 370.2L609.5 371.7M599.1 368.9L598.0 371.3M603.1 369.7L601.1 370.4M607.3 371.8L606.1 374.3M607.4 363.9L605.3 364.7M607.2 366.1L605.7 368.0M610.4 372.6L608.9 374.8M604.2 370.2L603.5 370.9M602.8 368.5L600.0 369.0M611.1 372.0L608.7 373.6M610.2 371.5L609.3 373.4M599.9 366.4L598.1 367.9" stroke="#e1e1e1" stroke-width="0.7" fill="none" stroke-linecap="round"/>
<path d="M604.3 373.5L602.1 374.2M604.2 367.9L602.2 368.5M608.5 369.9L607.5 370.6M602.6 368.5L601.6 368.6M605.2 364.0L604.3 364.8M604.7 363.4L603.7 363.7M610.1 366.7L608.1 367.8M606.0 371.6L604.1 373.2M607.2 374.7L604.9 375.6M611.2 370.8L609.2 371.1M612.6 370.7L611.4 370.9M606.7 369.7L605.2 370.3M600.3 370.4L599.6 372.2M606.9 373.9L604.1 374.5M606.6 373.1L606.0 374.8M609.3 373.0L607.3 374.9M607.8 371.1L606.3 371.6M604.4 365.5L602.3 366.8M607.4 366.8L606.3 368.5M610.4 371.7L608.7 372.4M606.6 369.7L604.7 371.8M609.7 369.7L608.8 371.5M607.8 364.7L607.1 366.0" stroke="#111111" stroke-width="0.8" fill="none" stroke-linecap="round"/>
</g>
<g transform="rotate(0 612.2 387.8)">
<ellipse cx="612.2" cy="387.8" rx="10.4" ry="9.2" fill="#3c3c3c" stroke="#0f0f0f" stroke-width="1.0"/>
<path d="M616.2 391.8L614.9 392.8M618.9 382.9L617.2 383.0M617.5 381.9L615.9 383.1M605.4 388.7L604.5 389.4M611.8 381.0L609.4 382.6M619.8 384.4L618.9 385.0M613.6 382.0L611.4 383.0M616.1 389.6L613.2 389.5M614.2 386.9L612.1 387.7M615.8 390.2L613.5 391.4M620.5 386.1L618.2 387.2M615.0 391.7L612.8 392.5M615.6 383.1L614.3 383.1M608.7 381.0L607.0 381.6M615.8 391.8L613.8 392.3M613.4 388.4L611.7 388.8M610.9 387.6L609.4 388.7M609.1 392.2L607.5 393.3M608.0 387.0L605.8 387.3M617.0 389.7L615.2 391.2M612.3 388.6L611.3 389.0M610.0 382.2L609.1 382.8M614.1 385.4L612.6 386.1" stroke="#969696" stroke-width="0.7" fill="none" stroke-linecap="round"/>
<path d="M615.6 390.8L615.0 391.6M616.5 381.1L615.1 381.7M612.7 383.2L611.9 384.4M607.8 392.3L606.7 393.9M612.2 391.3L609.7 392.0M617.3 389.4L616.4 389.9M610.0 390.5L609.0 391.5M609.5 390.7L608.3 391.2M609.9 392.5L608.6 393.9M609.2 391.5L608.0 394.0M610.3 394.4L607.8 395.1M607.5 390.0L605.9 391.2M608.3 384.9L606.0 386.5M616.0 388.4L614.2 389.1M608.4 392.2L607.1 393.0M609.4 386.4L607.3 386.5M618.9 386.1L617.5 386.0M619.2 391.4L618.2 393.2M604.1 387.8L602.8 388.0M610.9 384.7L609.2 384.8M605.4 387.0L604.3 389.3M619.4 391.0L617.3 392.3M608.5 390.2L607.1 390.4" stroke="#0f0f0f" stroke-width="0.8" fill="none" stroke-linecap="round"/>
</g>
<ellipse cx="640.3" cy="354.6" rx="7.5" ry="5.4" transform="rotate(0 640.3 354.6)" fill="#dedede" stroke="#464646" stroke-width="1.0"/>
<ellipse cx="585.9" cy="389.8" rx="3.7" ry="2.5" transform="rotate(0 585.9 389.8)" fill="#e2e2e2" stroke="#5a5a5a" stroke-width="0.7"/>
</g>
<clipPath id="c4"><rect x="410.7" y="408" width="75.80" height="74.50"/></clipPath>
<g clip-path="url(#c4)" filter="url(#grain)">
<rect x="409.7" y="407" width="77.80" height="76.50" fill="#c0c0c0"/>
<ellipse cx="416.0" cy="413.7" rx="10.0" ry="8.4" fill="#787878" transform="rotate(0 416.0 413.7)" filter="url(#soft)"/>
<ellipse cx="415.2" cy="451.4" rx="5.0" ry="6.7" fill="#6e6e6e" transform="rotate(0 415.2 451.4)" filter="url(#soft)"/>
<ellipse cx="410.9" cy="415.0" rx="2.4" ry="1.8" transform="rotate(71 410.9 415.0)" fill="none" stroke="#464646" stroke-width="1.05"/>
<ellipse cx="451.0" cy="421.3" rx="2.4" ry="2.1" transform="rotate(33 451.0 421.3)" fill="none" stroke="#484848" stroke-width="0.90"/>
<ellipse cx="430.9" cy="411.4" rx="1.9" ry="1.7" transform="rotate(98 430.9 411.4)" fill="none" stroke="#4b4b4b" stroke-width="0.72"/>
<ellipse cx="417.8" cy="481.8" rx="2.7" ry="2.3" transform="rotate(98 417.8 481.8)" fill="none" stroke="#6c6c6c" stroke-width="0.74"/>
<path d="M469.8 469.8Q468.5 472.5 468.6 473.8M449.1 422.7Q450.4 421.1 452.0 423.5M470.8 474.2Q472.9 473.8 474.6 472.9M452.5 481.1Q450.9 483.6 450.0 482.3M447.3 480.7Q448.4 479.3 449.9 479.1M449.6 419.2Q449.3 417.2 452.9 416.9M455.1 413.8Q452.6 412.6 453.0 413.4M448.4 409.1Q449.7 409.0 447.8 406.5M440.6 409.3Q442.1 412.6 443.7 413.1M442.9 481.0Q442.2 478.9 442.1 477.5M485.3 451.8Q485.5 451.8 484.9 454.1M452.6 481.0Q452.2 480.5 454.3 479.2M449.1 426.2Q449.3 426.4 452.0 428.5M462.1 480.7Q461.7 479.4 461.1 477.9" fill="none" stroke="#4b4b4b" stroke-width="0.8" stroke-linecap="round"/>
<ellipse cx="429.4" cy="433.0" rx="19.2" ry="18.7" transform="rotate(0 429.4 433.0)" fill="#b6b6b6" stroke="#464646" stroke-width="0.9"/>
<ellipse cx="468.2" cy="436.3" rx="18.1" ry="18.4" transform="rotate(0 468.2 436.3)" fill="#c2c2c2" stroke="#5a5a5a" stroke-width="0.8"/>
<g transform="rotate(8 440.3 435.5)">
<ellipse cx="440.3" cy="435.5" rx="8.7" ry="15.9" fill="#707070" stroke="#505050" stroke-width="0.3"/>
<path d="M434.7 436.3L432.7 437.5M443.6 429.0L443.1 430.2M436.2 425.6L435.3 426.3M435.6 427.2L433.7 429.5M443.1 425.8L442.6 428.1M441.8 424.7L441.3 426.5M443.9 445.3L442.6 447.0M442.6 443.2L441.5 444.7M444.5 435.3L444.3 437.5M437.4 444.3L436.2 445.9M438.8 439.7L437.1 440.9M442.6 444.4L440.5 445.3M435.1 436.1L433.1 437.6M435.1 432.7L432.7 434.5M443.6 432.7L443.2 433.7M440.7 445.0L439.7 445.7M440.4 432.7L440.0 434.2M443.9 441.9L442.4 442.9M441.4 446.6L440.7 448.2M443.0 428.6L441.1 429.5M444.7 426.4L444.0 428.3M440.9 433.5L440.4 435.2M434.2 435.4L433.6 437.4M442.6 437.8L441.7 439.8M442.2 442.2L440.9 442.7M435.9 443.3L434.7 445.8M438.8 423.3L437.6 423.7M437.7 442.9L436.1 445.0M437.0 439.1L435.0 440.4M436.4 441.0L436.0 442.5M446.4 430.7L446.0 431.7M435.4 425.7L435.0 428.4M442.3 446.4L440.3 447.3M443.4 431.3L443.3 432.3M442.5 422.7L442.2 424.5M438.2 423.7L437.7 425.5M442.3 430.2L439.7 431.2M439.2 423.4L437.9 426.0M434.2 431.7L432.8 433.5" stroke="#a2a2a2" stroke-width="0.7" fill="none" stroke-linecap="round"/>
<path d="M437.9 446.8L437.1 447.8M438.9 422.8L437.7 423.7M441.5 446.2L439.1 447.7M446.7 438.6L445.6 440.5M436.5 431.1L435.5 433.9M446.3 434.0L445.6 435.4M440.6 428.7L439.8 431.5M433.8 431.2L432.8 433.2M445.9 442.9L444.5 444.3M442.4 426.6L441.0 428.6M437.7 430.5L435.1 431.6M434.6 437.3L434.5 438.7M437.4 446.3L436.5 448.1M438.6 437.5L438.0 439.3M438.9 424.2L437.4 425.9M445.4 426.0L444.4 426.3M443.1 441.4L442.7 442.9M446.5 432.8L444.4 433.7M439.6 439.5L438.6 441.5M446.1 437.9L445.7 439.2M446.8 430.4L445.9 431.4M436.3 426.8L433.7 427.8M438.4 429.8L436.9 430.7M439.9 433.2L438.3 433.7M435.3 438.7L433.0 439.7M437.8 423.3L436.6 426.0M439.9 429.8L439.6 430.9M439.8 440.4L438.4 441.3" stroke="#393939" stroke-width="0.8" fill="none" stroke-linecap="round"/>
</g>
<ellipse cx="424.4" cy="467.6" rx="15.9" ry="14.2" transform="rotate(0 424.4 467.6)" fill="#cccccc" stroke="#5a5a5a" stroke-width="0.8"/>
<ellipse cx="450.3" cy="468.1" rx="8.4" ry="12.0" transform="rotate(0 450.3 468.1)" fill="#c8c8c8" stroke="#646464" stroke-width="0.7"/>
<g transform="rotate(5 468.7 410.7)">
<ellipse cx="468.7" cy="410.7" rx="12.0" ry="5.0" fill="#3c3c3c" stroke="#0f0f0f" stroke-width="1.0"/>
<path d="M464.6 412.4L463.2 412.1M466.7 406.9L464.3 408.2M478.1 410.5L476.5 410.3M463.4 413.8L460.7 412.7M464.8 408.0L462.6 409.2M465.9 408.9L463.7 408.8M477.5 410.3L476.4 411.2M464.0 412.4L462.8 413.2M472.5 408.8L470.5 408.2M465.9 407.4L464.1 407.8M474.2 412.5L471.6 413.5M473.3 407.8L471.6 408.6" stroke="#bebebe" stroke-width="0.7" fill="none" stroke-linecap="round"/>
<path d="M465.2 410.3L463.2 410.7M465.1 411.3L464.2 411.9M466.6 414.5L465.6 414.6M471.6 413.0L470.1 412.7M469.2 412.5L467.0 411.5M475.4 408.5L474.3 408.0M467.9 414.5L466.3 415.2M473.4 409.4L472.0 409.3M462.7 414.1L460.2 412.8M464.1 411.3L461.8 412.4M477.4 409.1L474.5 408.2M460.8 412.4L458.6 412.3M463.0 408.8L461.1 408.5M464.7 408.2L462.9 407.6M469.0 409.1L467.7 408.5M466.7 411.0L464.5 409.8M476.4 410.8L473.7 410.0M465.3 412.7L463.4 412.2M475.5 407.5L474.3 407.7M468.2 407.8L466.6 407.7" stroke="#0f0f0f" stroke-width="0.8" fill="none" stroke-linecap="round"/>
</g>
<g transform="rotate(0 480.5 464.2)">
<ellipse cx="480.5" cy="464.2" rx="7.5" ry="7.5" fill="#5a5a5a" stroke="#1e1e1e" stroke-width="1.0"/>
<path d="M480.9 466.3L482.4 468.6M477.4 466.8L479.4 467.0M483.4 459.2L484.9 459.6M477.7 468.9L478.7 469.3M479.1 459.1L480.2 459.0M480.7 466.9L482.3 466.9M482.0 463.0L483.3 464.8M478.1 458.9L479.7 460.9M475.1 461.2L477.4 462.2M479.7 464.4L481.9 464.9M480.6 465.7L483.2 466.1M480.2 465.4L482.9 465.2M480.2 464.0L481.6 465.9" stroke="#bebebe" stroke-width="0.7" fill="none" stroke-linecap="round"/>
<path d="M477.0 460.2L479.2 460.4M481.1 467.2L483.2 467.6M481.3 462.7L484.2 463.2M477.1 462.1L478.2 462.1M482.8 459.0L484.7 459.0M480.1 466.2L481.9 467.4M478.2 460.2L480.1 460.3M477.4 463.8L480.2 464.3M482.0 469.5L484.0 469.9M483.1 460.4L484.5 461.7" stroke="#232323" stroke-width="0.8" fill="none" stroke-linecap="round"/>
</g>
<g transform="rotate(0 479.6 478.1)">
<ellipse cx="479.6" cy="478.1" rx="7.0" ry="5.0" fill="#585858" stroke="#1e1e1e" stroke-width="1.0"/>
<path d="M482.7 479.3L481.0 479.9M478.4 479.2L476.3 479.9M482.0 478.7L479.4 480.1M477.5 477.1L475.1 477.6M480.7 478.6L479.6 478.3M475.0 476.7L473.8 477.9M476.2 477.8L474.0 479.5M480.3 480.0L477.8 481.3M484.2 475.7L483.5 476.4" stroke="#b4b4b4" stroke-width="0.7" fill="none" stroke-linecap="round"/>
<path d="M475.4 477.6L474.4 477.3M478.6 477.5L476.3 477.4M476.7 480.2L474.6 480.7M480.7 479.3L478.8 480.6M475.9 476.0L474.4 476.4M476.5 476.4L475.4 476.1M480.6 477.0L479.8 477.8" stroke="#212121" stroke-width="0.8" fill="none" stroke-linecap="round"/>
</g>
<g transform="rotate(0 462.0 467.6)">
<ellipse cx="462.0" cy="467.6" rx="6.4" ry="7.5" fill="#787878" stroke="#282828" stroke-width="1.3"/>
<path d="M460.7 466.0L463.3 466.2M462.5 464.9L464.2 465.7M457.1 466.5L458.9 467.4M460.7 465.9L461.5 467.3M458.3 469.5L460.8 470.4M457.6 468.0L459.5 469.3M459.8 462.8L461.2 463.6M457.3 470.0L458.9 470.6M459.3 472.7L462.0 473.7M465.4 469.5L466.6 469.8M459.6 468.4L461.9 468.1M462.5 470.6L465.2 471.0M464.4 469.6L467.1 470.0M464.7 467.5L466.2 467.5M458.3 468.8L460.5 469.3M457.9 466.9L460.1 467.3M457.7 470.5L458.5 471.4" stroke="#c8c8c8" stroke-width="0.7" fill="none" stroke-linecap="round"/>
<path d="M459.4 467.1L462.1 467.8M463.0 466.7L464.2 467.1M463.8 462.8L466.2 464.3M458.0 466.0L459.6 466.3M458.0 463.4L459.6 463.7M462.3 462.0L464.2 461.8M457.3 466.9L458.3 468.2" stroke="#414141" stroke-width="0.8" fill="none" stroke-linecap="round"/>
</g>
<g transform="rotate(0 483.0 417.9)">
<ellipse cx="483.0" cy="417.9" rx="4.2" ry="7.5" fill="#555555" stroke="#1e1e1e" stroke-width="1.0"/>
<path d="M482.2 414.9L481.3 417.3M483.1 413.5L482.4 415.3M484.1 415.7L484.5 417.2M481.2 421.4L481.3 422.7M484.9 414.2L484.9 415.9M482.4 415.8L481.2 417.4M481.2 418.4L481.3 420.9" stroke="#878787" stroke-width="0.7" fill="none" stroke-linecap="round"/>
<path d="M482.2 421.6L482.3 423.2M480.2 420.4L479.8 421.4M485.7 414.7L485.9 417.4M484.5 413.7L483.8 416.5M481.9 418.6L480.5 420.7M482.6 412.4L481.3 415.0M484.8 416.0L483.3 417.2M482.7 419.7L481.8 421.2" stroke="#1e1e1e" stroke-width="0.8" fill="none" stroke-linecap="round"/>
</g>
<path d="M417.0 437.8Q416.9 435.7 418.4 436.2M425.2 433.0Q427.4 434.9 427.0 435.7M418.9 438.4Q417.2 438.1 417.9 435.9M421.4 428.9Q423.5 428.3 423.2 429.7M416.0 422.1Q417.4 423.6 418.8 422.8M426.7 438.9Q427.2 440.6 426.7 440.7M422.2 433.2Q422.2 430.8 421.4 429.4M429.0 422.2Q426.9 421.2 426.3 420.4M427.1 420.7Q426.9 421.2 424.8 424.1M427.5 437.8Q429.9 438.1 431.5 438.1M431.6 431.8Q431.5 433.7 432.2 433.7M422.1 430.0Q421.6 429.3 420.4 430.7M428.5 442.5Q428.9 441.3 430.4 439.4M424.3 433.3Q424.3 434.3 423.7 437.0M430.3 421.1Q429.3 422.2 429.5 425.6M413.2 431.1Q411.9 429.5 410.5 429.1M422.0 440.8Q418.7 439.4 417.7 439.4M433.6 428.1Q435.3 429.9 436.2 429.4M434.3 439.0Q434.5 438.6 434.6 436.5M424.8 444.1Q423.3 443.5 423.1 443.4M431.9 442.8Q432.1 444.1 431.9 445.2M421.5 439.5Q418.2 440.7 417.1 439.6M433.6 427.6Q435.3 426.9 434.5 425.0M421.3 423.3Q422.3 423.8 422.0 427.0M421.1 441.8Q420.5 441.5 421.6 443.8M429.9 438.3Q427.6 437.3 426.3 438.2M432.8 426.6Q431.5 425.2 431.2 423.3M420.3 442.6Q421.5 440.8 421.0 441.0M427.7 432.5Q426.9 430.8 423.8 430.9M413.9 438.1Q414.8 436.2 417.0 435.4M428.1 438.0Q426.8 438.3 424.7 440.3M427.9 440.8Q429.9 440.3 430.3 438.8M430.5 425.1Q430.2 425.6 428.3 427.2M428.2 444.4Q425.6 443.4 424.7 444.8M425.6 441.4Q428.0 441.5 428.1 441.9M435.2 432.5Q435.2 434.0 434.5 434.6M419.8 442.9Q420.8 440.6 421.7 441.0M418.9 427.9Q417.4 426.7 416.7 424.7M429.0 430.0Q430.7 427.4 430.0 427.1M420.8 436.0Q420.8 437.8 420.6 440.3M427.1 431.4Q429.2 432.5 431.0 431.8M412.7 432.4Q413.1 433.6 411.5 434.5M425.6 432.4Q427.9 431.5 429.5 432.8M427.5 420.0Q426.1 419.3 425.1 417.5M415.5 441.0Q415.1 441.3 412.4 439.0M420.4 431.1Q417.5 430.1 416.1 430.4M423.5 438.9Q423.0 437.4 424.7 435.9M423.8 429.9Q424.6 430.5 424.3 431.5M430.4 432.7Q430.8 434.1 431.6 435.9M423.3 434.6Q422.5 436.4 421.6 437.8M425.7 434.6Q426.3 433.9 426.0 430.8M420.8 443.6Q421.5 445.2 420.0 447.0M415.4 422.7Q415.4 423.3 413.0 422.9M421.5 438.8Q423.7 439.1 423.4 439.0M425.4 425.2Q427.5 423.6 427.5 422.0M477.6 430.8Q478.4 433.7 480.3 434.3M459.6 433.4Q457.1 432.1 456.9 433.1M480.0 443.4Q479.2 444.5 479.0 444.8M459.1 425.8Q456.5 426.7 456.5 429.4M456.8 437.0Q455.1 436.7 453.3 439.0M459.4 443.8Q459.7 444.8 459.3 446.0M482.2 435.2Q481.0 435.9 481.5 436.9M459.9 440.8Q460.8 442.1 462.1 442.1M476.7 444.1Q475.8 444.7 473.8 446.9M465.9 427.7Q465.8 427.0 466.7 426.2M465.8 445.2Q465.7 444.0 463.7 444.1M463.1 422.8Q464.0 424.0 466.6 425.4M478.4 445.9Q479.1 446.5 477.2 448.9M478.8 442.1Q479.1 441.1 480.7 442.7M466.4 439.2Q466.6 439.2 469.3 437.9M469.2 450.1Q469.9 451.2 471.2 450.6M481.1 430.4Q482.4 432.5 481.8 433.1M472.0 434.8Q474.4 435.6 474.8 435.4M458.1 442.5Q455.5 443.9 454.1 443.9M474.6 445.6Q473.4 445.5 473.5 448.0M478.0 443.1Q476.8 441.7 476.1 439.9M472.2 422.2Q471.5 424.4 469.1 424.7M464.9 430.1Q466.2 429.2 466.2 427.0M469.3 440.1Q468.3 437.1 470.0 436.5M458.0 441.9Q459.0 443.6 460.7 444.5M467.3 443.4Q468.7 443.7 469.5 446.4M478.1 445.1Q479.3 448.2 477.8 449.6M471.2 439.9Q470.6 437.6 472.6 437.3M466.7 443.5Q467.4 443.3 470.4 444.4M464.3 424.2Q463.7 423.4 464.9 421.9M472.4 424.4Q472.9 424.0 472.3 421.5M464.2 432.6Q463.3 431.2 465.0 431.0M458.4 446.7Q458.5 445.0 458.1 443.7M477.3 429.5Q476.7 430.9 474.4 432.9M471.6 435.4Q472.6 435.4 473.7 433.3M459.9 440.9Q460.6 443.2 460.2 444.6M475.5 447.9Q473.7 446.9 473.5 448.0M474.6 444.6Q475.9 444.0 474.7 440.8M458.7 426.8Q461.0 426.1 461.5 425.1M468.7 423.1Q468.9 421.0 471.4 421.3M465.3 425.2Q466.7 425.6 466.5 423.4M464.0 436.8Q464.4 436.8 463.2 435.1M458.3 445.9Q456.3 448.0 455.4 448.8M474.6 441.8Q473.8 442.1 471.2 444.4M455.5 439.6Q456.1 440.2 458.5 439.3M472.2 447.0Q470.5 447.6 471.4 448.7M479.2 439.7Q479.1 438.1 479.1 435.8M473.6 430.1Q473.2 430.8 471.9 428.8M462.4 447.0Q462.5 448.2 465.0 450.8M457.6 443.0Q457.0 441.6 455.7 442.5M461.1 448.7Q459.6 448.0 459.4 448.6M473.9 447.7Q473.8 450.5 473.5 451.4M467.9 436.9Q465.6 435.5 465.8 434.3M476.6 448.2Q475.0 447.8 472.8 446.7M469.7 434.4Q468.2 437.0 467.6 437.4M464.7 448.3Q464.1 449.2 461.5 447.6M476.4 435.3Q476.2 435.3 474.4 434.8M458.0 437.3Q457.1 438.7 456.5 439.0M474.5 439.8Q474.0 442.8 473.5 443.7M463.4 440.0Q463.3 440.8 463.1 441.7M458.9 443.2Q458.3 441.6 456.6 441.8M463.5 428.3Q463.7 425.1 464.0 424.1M467.5 435.3Q469.3 435.4 469.6 436.2M465.6 426.2Q466.0 425.6 464.2 425.3M477.6 441.6Q479.1 439.4 479.8 439.4M472.2 443.6Q472.6 444.0 475.6 444.5M465.8 431.2Q468.2 431.7 469.3 431.1M460.1 432.6Q458.2 430.2 457.1 430.3M475.1 433.2Q476.0 433.3 479.3 431.2M460.7 447.6Q461.7 445.3 461.1 445.1M477.2 429.8Q479.3 429.0 480.3 429.4M467.8 439.2Q467.2 435.7 467.1 434.6M473.9 439.5Q473.7 439.2 473.8 436.9M467.0 433.6Q467.8 431.6 470.4 432.1M473.9 431.4Q473.3 431.1 471.4 431.2M462.0 423.8Q463.7 425.6 464.1 425.6M474.0 429.2Q474.2 426.8 472.5 426.2M473.5 439.1Q473.0 440.3 471.9 442.6M476.9 439.0Q478.9 438.5 478.8 438.6M461.6 430.7Q464.0 430.0 465.5 429.3M462.3 432.7Q459.6 431.0 459.2 429.5M457.8 436.7Q459.4 435.4 461.3 436.4M464.5 449.6Q464.2 449.3 461.7 446.8M479.2 427.0Q480.8 424.9 482.4 425.2M477.4 432.4Q477.6 434.5 476.4 435.0M466.7 442.0Q466.2 443.5 465.0 443.1M463.7 439.5Q463.9 439.2 465.8 438.7M464.6 428.4Q466.5 430.5 466.5 430.1M468.7 448.6Q467.8 445.3 469.7 444.6M477.5 441.9Q477.5 443.9 478.8 446.1M477.2 446.8Q476.9 447.2 477.6 449.3M479.3 443.0Q479.1 443.8 481.5 444.3M454.5 435.9Q455.8 435.9 459.0 436.7M479.8 429.5Q479.8 428.5 481.7 428.3M462.7 446.2Q463.1 446.2 466.0 447.1M443.4 456.6Q443.4 454.6 442.6 452.8M442.3 458.6Q442.8 457.6 444.8 454.6M448.0 454.5Q447.4 455.2 444.2 455.8M454.7 457.7Q455.3 458.0 455.4 459.6M448.8 454.9Q450.6 454.6 450.0 453.4M452.4 457.7Q453.1 457.6 456.1 456.0M442.5 458.3Q443.2 456.7 443.2 456.3M453.2 454.4Q453.1 453.7 455.2 453.4M450.8 458.5Q449.1 459.3 447.0 457.4M447.7 453.5Q448.0 452.8 445.7 451.6" fill="none" stroke="#404040" stroke-width="1.1" stroke-linecap="round"/>
</g>
<clipPath id="c5"><rect x="493" y="408" width="76.00" height="74.50"/></clipPath>
<g clip-path="url(#c5)" filter="url(#grain)">
<rect x="492" y="407" width="78.00" height="76.50" fill="#aaaaaa"/>
<ellipse cx="507.2" cy="463.1" rx="15.9" ry="13.4" fill="#d4d4d4" transform="rotate(0 507.2 463.1)" filter="url(#soft)"/>
<ellipse cx="554.9" cy="475.6" rx="15.1" ry="6.7" fill="#c4c4c4" transform="rotate(0 554.9 475.6)" filter="url(#soft)"/>
<ellipse cx="559.9" cy="422.1" rx="10.0" ry="14.2" fill="#8c8c8c" transform="rotate(0 559.9 422.1)" filter="url(#soft)"/>
<ellipse cx="509.8" cy="477.6" rx="15.9" ry="4.7" fill="#808080" transform="rotate(0 509.8 477.6)" filter="url(#soft)"/>
<ellipse cx="504.4" cy="470.9" rx="1.8" ry="1.6" transform="rotate(53 504.4 470.9)" fill="none" stroke="#696969" stroke-width="0.96"/>
<ellipse cx="497.6" cy="479.5" rx="2.9" ry="2.2" transform="rotate(96 497.6 479.5)" fill="none" stroke="#656565" stroke-width="1.00"/>
<ellipse cx="557.0" cy="480.1" rx="3.1" ry="2.1" transform="rotate(4 557.0 480.1)" fill="none" stroke="#4f4f4f" stroke-width="0.79"/>
<ellipse cx="567.3" cy="471.8" rx="2.8" ry="2.7" transform="rotate(134 567.3 471.8)" fill="none" stroke="#545454" stroke-width="1.02"/>
<ellipse cx="555.5" cy="431.2" rx="1.7" ry="1.1" transform="rotate(13 555.5 431.2)" fill="none" stroke="#666666" stroke-width="1.10"/>
<ellipse cx="562.1" cy="438.0" rx="1.9" ry="1.2" transform="rotate(31 562.1 438.0)" fill="none" stroke="#636363" stroke-width="0.87"/>
<ellipse cx="566.6" cy="408.8" rx="2.9" ry="2.7" transform="rotate(112 566.6 408.8)" fill="none" stroke="#606060" stroke-width="0.96"/>
<ellipse cx="498.2" cy="437.3" rx="3.1" ry="2.5" transform="rotate(20 498.2 437.3)" fill="none" stroke="#575757" stroke-width="0.73"/>
<ellipse cx="567.5" cy="477.4" rx="2.3" ry="1.5" transform="rotate(90 567.5 477.4)" fill="none" stroke="#686868" stroke-width="0.75"/>
<ellipse cx="554.3" cy="421.5" rx="1.8" ry="1.6" transform="rotate(50 554.3 421.5)" fill="none" stroke="#656565" stroke-width="0.73"/>
<ellipse cx="501.5" cy="476.1" rx="2.6" ry="2.1" transform="rotate(10 501.5 476.1)" fill="none" stroke="#595959" stroke-width="0.70"/>
<ellipse cx="503.1" cy="441.0" rx="2.9" ry="2.8" transform="rotate(91 503.1 441.0)" fill="none" stroke="#616161" stroke-width="0.85"/>
<ellipse cx="548.8" cy="440.8" rx="3.0" ry="2.6" transform="rotate(24 548.8 440.8)" fill="none" stroke="#545454" stroke-width="1.05"/>
<ellipse cx="504.2" cy="452.3" rx="2.5" ry="1.7" transform="rotate(72 504.2 452.3)" fill="none" stroke="#4a4a4a" stroke-width="0.72"/>
<ellipse cx="528.3" cy="408.8" rx="1.5" ry="1.2" transform="rotate(94 528.3 408.8)" fill="none" stroke="#515151" stroke-width="0.81"/>
<ellipse cx="523.7" cy="476.9" rx="3.2" ry="2.0" transform="rotate(126 523.7 476.9)" fill="none" stroke="#6f6f6f" stroke-width="1.04"/>
<ellipse cx="500.7" cy="437.8" rx="3.2" ry="3.0" transform="rotate(6 500.7 437.8)" fill="none" stroke="#4d4d4d" stroke-width="0.74"/>
<ellipse cx="510.5" cy="481.3" rx="1.7" ry="1.2" transform="rotate(160 510.5 481.3)" fill="none" stroke="#646464" stroke-width="0.74"/>
<ellipse cx="536.3" cy="476.2" rx="2.2" ry="1.6" transform="rotate(108 536.3 476.2)" fill="none" stroke="#6c6c6c" stroke-width="0.73"/>
<ellipse cx="493.8" cy="464.1" rx="2.3" ry="1.8" transform="rotate(26 493.8 464.1)" fill="none" stroke="#6a6a6a" stroke-width="0.90"/>
<ellipse cx="512.1" cy="459.1" rx="1.3" ry="1.2" transform="rotate(47 512.1 459.1)" fill="none" stroke="#515151" stroke-width="1.09"/>
<ellipse cx="555.0" cy="471.4" rx="2.2" ry="1.7" transform="rotate(136 555.0 471.4)" fill="none" stroke="#4e4e4e" stroke-width="0.82"/>
<path d="M568.1 479.4Q571.2 479.7 571.6 477.4M521.1 460.7Q521.3 461.2 521.5 464.5M547.8 468.5Q549.0 468.7 549.2 471.0M529.1 432.3Q528.7 432.5 526.0 435.8M514.1 472.8Q512.2 472.9 514.3 469.2M504.9 435.7Q502.7 432.5 502.8 432.3M521.2 479.3Q523.7 479.8 524.3 480.6M535.1 464.0Q534.9 463.8 532.7 460.9M554.6 480.6Q556.4 481.5 557.3 482.5M557.7 415.8Q556.4 415.0 555.8 413.4M495.5 449.7Q497.5 450.7 496.1 453.1M494.6 459.4Q496.1 458.8 493.9 455.1M504.1 413.5Q505.2 415.3 503.6 416.3M561.5 472.3Q563.4 470.5 565.3 471.2M538.0 456.2Q535.9 454.7 535.9 452.6M561.8 409.4Q558.4 411.2 558.9 410.2M527.6 463.0Q528.9 465.0 528.6 466.1M506.1 432.9Q502.1 431.3 501.4 431.8M508.8 472.8Q505.9 474.6 506.0 476.6M536.7 462.6Q534.3 463.7 534.4 462.0M494.8 466.8Q494.1 467.8 492.7 470.6M504.5 442.1Q503.6 443.8 503.2 444.4M509.0 409.8Q510.5 412.3 508.4 411.8M506.6 455.4Q504.6 456.9 502.5 455.0M499.0 410.4Q501.7 411.5 501.8 410.5M525.7 410.0Q526.7 409.3 526.4 412.6M496.2 436.0Q495.4 436.3 495.9 438.9M500.8 456.8Q504.6 454.1 505.1 455.3M508.7 463.0Q510.3 463.1 511.9 465.4M515.1 480.1Q514.5 477.7 513.0 476.0" fill="none" stroke="#4b4b4b" stroke-width="0.8" stroke-linecap="round"/>
<ellipse cx="510.6" cy="421.2" rx="8.7" ry="6.0" transform="rotate(0 510.6 421.2)" fill="#d0d0d0" stroke="#6e6e6e" stroke-width="0.7"/>
<g transform="rotate(35 522.3 444.7)">
<ellipse cx="522.3" cy="444.7" rx="15.4" ry="13.1" fill="#6a6a6a" stroke="#1e1e1e" stroke-width="1.0"/>
<path d="M523.9 443.2L525.7 444.2M518.5 452.9L519.2 454.1M528.7 449.1L528.6 451.0M531.1 447.2L531.3 448.6M520.3 434.8L522.3 436.2M510.7 449.7L511.2 451.8M520.4 449.9L520.4 452.3M524.8 445.3L526.5 447.5M517.1 446.7L518.2 449.0M527.3 447.1L528.3 447.9M526.6 434.1L527.5 435.6M528.5 448.6L529.9 450.6M525.1 453.4L525.1 454.9M521.6 434.2L523.8 436.2M522.8 440.7L523.5 442.5M524.2 444.8L525.9 446.7M517.0 435.4L518.2 436.7M518.7 443.4L519.8 446.2M516.6 437.3L518.5 439.0M513.5 444.0L514.4 446.2M512.9 439.2L514.4 441.2M516.9 447.5L518.3 449.3M519.3 444.2L521.0 445.9M530.6 448.2L530.9 450.3M522.3 446.9L523.3 449.2M526.3 440.4L526.9 441.4M520.9 453.3L522.8 454.5M520.7 452.5L521.1 453.6M531.0 439.6L531.4 441.0M516.9 447.7L517.8 449.8M514.5 452.5L515.1 453.9M534.7 446.1L534.7 448.1M530.7 444.1L531.6 445.9M522.0 435.9L523.3 437.8M520.9 454.3L521.2 455.7M531.3 445.1L532.5 446.5M517.0 454.1L518.6 455.9M528.9 437.0L529.0 439.2M510.9 447.6L511.6 448.9M527.6 442.2L528.9 443.2M524.1 450.7L524.1 452.8M519.4 450.5L520.2 452.5M517.2 436.3L519.3 437.6M525.7 449.5L525.7 450.7M511.7 443.3L513.5 445.7M519.5 438.8L519.5 440.9M528.3 442.8L528.2 444.6M513.8 449.6L514.9 450.3M518.8 437.0L520.0 438.6M523.7 440.7L524.5 442.2M527.6 446.2L529.0 446.9M528.4 453.3L529.0 454.3" stroke="#c8c8c8" stroke-width="0.7" fill="none" stroke-linecap="round"/>
<path d="M520.7 440.1L521.5 441.5M522.8 447.2L523.1 449.4M531.0 442.6L531.3 443.9M534.5 445.7L534.7 447.2M524.6 444.6L526.3 446.5M525.2 439.2L526.5 441.4M525.0 439.7L526.3 440.7M533.1 439.4L534.6 440.5M509.8 442.3L511.6 444.0M519.2 448.1L520.9 449.9M532.0 441.7L533.3 443.4M528.7 438.1L529.4 440.4M510.1 446.6L510.6 448.4M513.4 450.9L514.3 452.2M519.6 451.7L519.5 454.0M528.6 440.2L528.6 441.4M522.9 448.7L523.5 450.6M518.4 452.5L519.7 454.7M517.3 435.7L519.0 437.4M523.8 447.4L524.2 449.9M525.6 450.4L527.8 451.5M510.1 440.4L511.1 440.8M516.8 444.9L517.3 445.8M529.3 438.6L530.1 439.4M517.0 449.3L518.2 451.4M534.2 447.6L534.1 450.1M510.2 447.7L510.3 448.8M520.5 441.3L522.1 442.4M529.8 449.1L531.4 450.2M516.9 443.8L519.0 444.8M524.2 443.4L524.6 445.0M522.8 438.4L523.3 440.6M516.3 443.1L517.2 444.8M532.6 444.2L533.4 445.0M529.0 441.1L530.4 442.7M520.1 442.2L521.3 443.8M521.6 446.6L522.6 448.0M523.6 435.1L525.0 436.6M530.2 450.7L532.0 452.2M527.3 439.0L529.3 440.1M526.6 439.8L527.6 441.5M529.4 444.1L530.5 446.0M529.8 444.1L530.5 445.3M522.1 441.1L523.0 441.8M514.6 435.6L515.1 437.0M513.9 448.6L514.8 449.3M511.2 448.6L511.8 450.8M532.2 438.6L532.1 440.9M535.4 443.5L535.3 446.2M521.4 443.3L523.5 444.9M520.6 450.8L522.1 451.6M525.1 446.2L525.3 448.5M529.2 446.1L530.5 448.1M520.4 444.0L520.4 445.5M514.5 449.3L516.0 450.7" stroke="#333333" stroke-width="0.8" fill="none" stroke-linecap="round"/>
</g>
<g transform="rotate(-22 539.0 426.3)">
<ellipse cx="539.0" cy="426.3" rx="9.7" ry="13.7" fill="#6e6e6e" stroke="#232323" stroke-width="1.0"/>
<path d="M539.4 422.6L541.6 421.3M539.5 427.9L541.2 425.8M534.6 429.6L535.0 427.4M531.3 428.4L532.4 427.7M531.9 421.7L532.8 421.0M537.5 421.1L538.5 420.4M532.0 429.0L532.9 428.1M534.9 433.3L536.5 432.7M538.7 420.5L539.5 419.5M531.7 429.8L532.6 427.9M540.7 437.3L542.0 435.9M542.3 418.8L543.9 417.8M545.4 429.7L546.8 428.5M539.9 437.0L541.5 436.0M544.6 429.2L545.8 428.7M541.7 429.5L542.6 428.4M546.9 427.3L547.8 426.6M541.1 429.9L542.4 428.7M532.8 421.6L534.2 419.0M545.3 428.2L545.7 427.1M534.0 421.8L535.1 419.4M542.3 429.4L543.6 428.8M543.9 433.1L544.8 431.1M540.3 415.8L541.7 414.5M543.4 419.3L545.9 418.6M540.6 427.4L541.5 426.6M542.8 425.7L543.9 425.4M532.9 419.4L534.4 418.5M534.5 418.2L536.2 416.5M543.5 423.4L545.2 422.5M533.4 421.9L533.6 420.2M533.9 434.5L534.9 433.9M534.5 424.9L534.9 423.1M541.2 421.1L542.3 418.8M542.4 424.2L544.0 423.7" stroke="#c8c8c8" stroke-width="0.7" fill="none" stroke-linecap="round"/>
<path d="M532.5 424.5L534.7 422.6M541.1 427.9L543.9 426.8M538.2 434.2L538.9 432.2M540.4 425.8L540.8 423.1M538.3 438.0L540.5 437.2M538.4 435.4L538.6 434.2M541.0 422.4L543.2 420.8M536.1 430.3L537.9 429.0M546.2 423.9L547.2 421.3M533.2 424.3L533.9 422.8M536.4 419.5L536.8 418.0M542.8 418.8L543.6 416.4M533.2 418.7L534.8 416.8M532.3 430.2L533.7 427.9M535.6 433.8L536.9 432.7M546.4 426.9L547.3 426.2M534.8 427.1L535.2 426.1M540.6 430.4L540.9 429.0M538.2 424.5L539.5 423.4M539.1 427.1L540.7 425.9M540.6 426.6L543.0 425.3M541.9 429.7L542.3 428.1M536.3 432.9L537.1 431.6M544.5 431.4L545.4 429.0M537.3 416.2L537.9 414.9M535.3 426.0L536.5 424.1M538.0 414.9L539.7 413.7M532.2 430.6L533.6 429.1M539.5 422.8L541.1 421.3M533.9 424.2L535.6 421.8" stroke="#373737" stroke-width="0.8" fill="none" stroke-linecap="round"/>
</g>
<g transform="rotate(15 554.1 456.4)">
<ellipse cx="554.1" cy="456.4" rx="13.7" ry="12.5" fill="#464646" stroke="#141414" stroke-width="1.0"/>
<path d="M555.8 454.0L557.0 454.6M551.6 446.9L553.6 447.8M544.1 451.8L546.0 452.3M552.8 451.5L553.9 451.7M555.4 458.6L557.9 458.8M550.3 465.6L552.0 465.3M561.2 449.2L562.6 450.2M549.9 450.7L551.1 451.2M550.9 457.0L552.5 458.4M549.2 457.7L551.2 457.8M546.0 453.4L548.7 453.4M550.7 455.9L551.7 455.9M551.3 455.7L552.9 456.5M551.1 456.9L552.9 457.6M556.8 462.0L559.5 463.3M562.7 458.5L564.7 459.2M559.3 451.2L560.6 452.0M559.4 451.1L560.5 452.4M558.2 457.3L559.9 457.8M544.1 460.5L546.8 461.4M558.3 461.9L560.9 462.6M548.3 455.0L549.8 455.4M550.8 448.4L552.6 448.2M557.9 456.5L560.7 456.5M546.3 456.6L547.4 457.9M562.9 459.5L564.9 459.0M557.6 458.4L559.8 459.1M559.4 462.5L561.6 462.4M552.1 458.7L553.7 459.0M547.8 448.1L549.4 449.3M550.7 454.1L552.1 456.0M555.3 452.6L557.4 452.5M550.5 453.0L552.0 454.4M545.3 456.3L546.8 456.0M557.0 463.1L557.8 464.2M548.5 461.4L551.0 462.4M557.6 453.6L559.0 454.7M555.8 451.3L558.4 451.2M556.6 447.0L559.3 447.0M548.7 448.4L549.3 449.3M556.0 448.2L557.6 450.0M554.6 451.6L555.7 452.8M551.0 455.4L552.9 455.2M559.1 452.1L560.5 453.6M561.5 448.5L563.4 450.7M559.4 455.9L561.9 457.4M545.7 456.5L546.7 457.1M551.8 463.6L554.2 464.3M552.4 455.1L554.7 456.8M548.0 459.8L550.0 459.8M559.2 461.9L560.1 463.1M554.1 450.2L555.2 451.3M547.6 461.0L549.3 462.3M549.6 457.6L550.9 458.9M547.5 461.3L548.5 461.5M564.8 453.3L565.9 453.9M552.2 467.0L554.6 467.8M562.0 450.2L564.3 450.4M544.0 457.3L545.0 458.4M543.4 459.0L545.3 460.3M562.4 459.8L564.2 461.2M547.2 459.1L549.2 460.7M556.4 449.5L557.7 450.1M551.4 446.0L553.5 446.0M558.1 459.9L560.0 461.9M556.0 463.6L558.6 464.6M557.8 455.7L559.8 455.4M549.9 461.2L552.0 461.8M559.5 456.8L562.2 457.2M550.1 464.4L551.4 465.3M562.8 461.6L564.0 462.6" stroke="#e8e8e8" stroke-width="0.7" fill="none" stroke-linecap="round"/>
<path d="M559.3 457.9L560.6 458.6M557.2 453.6L558.9 455.5M545.1 458.0L546.4 457.9M562.7 461.3L564.7 461.6M558.8 447.4L559.8 448.1M553.7 448.0L556.1 449.3M550.0 456.0L552.2 457.6M557.1 463.0L558.8 462.6M543.4 459.9L544.6 460.0M553.3 465.4L556.3 465.0M558.7 450.0L560.5 450.6M555.7 456.3L556.7 457.1M562.0 450.5L563.4 451.5M561.1 455.7L563.2 457.0M563.0 453.1L565.3 454.7M548.1 464.5L549.7 464.5M542.5 455.0L545.3 455.4M554.6 463.4L555.9 464.1M562.1 463.8L563.0 464.1M550.4 448.5L551.6 450.1M562.7 454.2L565.0 455.9M557.6 458.0L560.0 459.3M555.6 459.9L557.9 459.8M559.9 451.4L561.1 452.0M550.5 464.5L552.1 464.4M554.6 448.2L555.6 449.2M556.7 463.9L559.0 465.5M552.4 459.1L553.5 459.3M552.4 453.5L553.4 453.5M556.4 451.0L558.0 451.1M544.5 460.6L546.1 461.8M553.9 459.6L555.6 461.3M560.6 450.8L562.3 451.0M555.5 457.4L557.4 457.0M554.4 460.8L557.1 461.5M542.8 458.3L544.7 460.0M545.1 451.7L546.0 452.6M557.9 453.2L560.0 453.9M547.7 464.0L549.3 466.1M556.4 465.4L558.8 466.0M548.4 448.9L550.3 448.7M546.5 454.9L547.6 455.0M550.4 460.4L551.4 460.9M544.9 458.4L546.4 459.6M558.4 446.8L560.3 448.9M549.4 464.7L552.2 465.2M546.0 461.6L547.0 462.5M548.0 464.0L549.9 464.2M559.8 447.1L561.1 447.6M556.1 452.0L557.6 453.7M546.9 451.0L549.2 451.6M547.9 456.3L550.7 455.8" stroke="#0f0f0f" stroke-width="0.8" fill="none" stroke-linecap="round"/>
</g>
<ellipse cx="497.2" cy="434.6" rx="3.7" ry="8.0" transform="rotate(-10 497.2 434.6)" fill="#1e1e1e"/>
<ellipse cx="500.5" cy="443.0" rx="2.3" ry="3.7" transform="rotate(0 500.5 443.0)" fill="#232323"/>
<ellipse cx="566.0" cy="442.2" rx="2.3" ry="6.7" transform="rotate(0 566.0 442.2)" fill="#161616"/>
</g>
<clipPath id="c6"><rect x="574.9" y="408" width="75.60" height="74.50"/></clipPath>
<g clip-path="url(#c6)" filter="url(#grain)">
<rect x="573.9" y="407" width="77.60" height="76.50" fill="#c4c4c4"/>
<ellipse cx="620.2" cy="412.0" rx="33.5" ry="6.7" fill="#808080" transform="rotate(0 620.2 412.0)" filter="url(#soft)"/>
<ellipse cx="643.6" cy="412.0" rx="10.0" ry="8.4" fill="#696969" transform="rotate(0 643.6 412.0)" filter="url(#soft)"/>
<ellipse cx="580.0" cy="413.7" rx="6.7" ry="6.7" fill="#969696" transform="rotate(0 580.0 413.7)" filter="url(#soft)"/>
<ellipse cx="630.5" cy="412.2" rx="2.5" ry="2.2" transform="rotate(24 630.5 412.2)" fill="none" stroke="#595959" stroke-width="0.77"/>
<ellipse cx="576.3" cy="464.0" rx="2.0" ry="1.3" transform="rotate(70 576.3 464.0)" fill="none" stroke="#565656" stroke-width="1.08"/>
<ellipse cx="580.1" cy="424.0" rx="2.7" ry="2.3" transform="rotate(26 580.1 424.0)" fill="none" stroke="#565656" stroke-width="0.94"/>
<ellipse cx="599.4" cy="464.0" rx="1.5" ry="1.4" transform="rotate(104 599.4 464.0)" fill="none" stroke="#454545" stroke-width="0.91"/>
<ellipse cx="649.5" cy="435.1" rx="1.4" ry="1.0" transform="rotate(13 649.5 435.1)" fill="none" stroke="#434343" stroke-width="1.01"/>
<ellipse cx="645.5" cy="432.2" rx="3.1" ry="2.5" transform="rotate(57 645.5 432.2)" fill="none" stroke="#626262" stroke-width="1.09"/>
<ellipse cx="612.9" cy="409.6" rx="2.9" ry="2.3" transform="rotate(131 612.9 409.6)" fill="none" stroke="#5f5f5f" stroke-width="0.91"/>
<ellipse cx="600.3" cy="413.1" rx="2.1" ry="1.7" transform="rotate(154 600.3 413.1)" fill="none" stroke="#484848" stroke-width="1.01"/>
<ellipse cx="592.5" cy="465.7" rx="2.8" ry="1.7" transform="rotate(180 592.5 465.7)" fill="none" stroke="#646464" stroke-width="0.89"/>
<ellipse cx="606.5" cy="414.5" rx="2.4" ry="2.2" transform="rotate(74 606.5 414.5)" fill="none" stroke="#565656" stroke-width="1.06"/>
<ellipse cx="601.9" cy="413.4" rx="1.9" ry="1.6" transform="rotate(70 601.9 413.4)" fill="none" stroke="#636363" stroke-width="1.03"/>
<ellipse cx="631.2" cy="475.8" rx="1.2" ry="0.7" transform="rotate(154 631.2 475.8)" fill="none" stroke="#6e6e6e" stroke-width="0.73"/>
<ellipse cx="579.0" cy="454.6" rx="1.6" ry="1.4" transform="rotate(12 579.0 454.6)" fill="none" stroke="#5a5a5a" stroke-width="0.87"/>
<ellipse cx="582.5" cy="448.4" rx="2.2" ry="2.0" transform="rotate(52 582.5 448.4)" fill="none" stroke="#646464" stroke-width="0.95"/>
<ellipse cx="633.6" cy="464.0" rx="2.7" ry="2.3" transform="rotate(102 633.6 464.0)" fill="none" stroke="#545454" stroke-width="0.79"/>
<ellipse cx="586.6" cy="473.1" rx="2.7" ry="2.2" transform="rotate(159 586.6 473.1)" fill="none" stroke="#505050" stroke-width="0.72"/>
<ellipse cx="604.7" cy="481.2" rx="2.2" ry="2.0" transform="rotate(169 604.7 481.2)" fill="none" stroke="#6d6d6d" stroke-width="0.94"/>
<ellipse cx="601.5" cy="450.0" rx="2.2" ry="1.9" transform="rotate(130 601.5 450.0)" fill="none" stroke="#6b6b6b" stroke-width="0.97"/>
<ellipse cx="632.3" cy="412.3" rx="2.2" ry="1.4" transform="rotate(82 632.3 412.3)" fill="none" stroke="#4d4d4d" stroke-width="0.73"/>
<ellipse cx="609.6" cy="466.7" rx="2.0" ry="1.9" transform="rotate(24 609.6 466.7)" fill="none" stroke="#434343" stroke-width="0.74"/>
<ellipse cx="620.0" cy="482.0" rx="3.0" ry="2.0" transform="rotate(117 620.0 482.0)" fill="none" stroke="#4b4b4b" stroke-width="0.74"/>
<ellipse cx="577.8" cy="434.5" rx="2.3" ry="2.2" transform="rotate(145 577.8 434.5)" fill="none" stroke="#5b5b5b" stroke-width="1.09"/>
<ellipse cx="601.0" cy="477.8" rx="2.9" ry="2.2" transform="rotate(57 601.0 477.8)" fill="none" stroke="#595959" stroke-width="0.90"/>
<ellipse cx="645.2" cy="449.4" rx="2.8" ry="2.6" transform="rotate(99 645.2 449.4)" fill="none" stroke="#6d6d6d" stroke-width="1.06"/>
<ellipse cx="588.7" cy="481.0" rx="2.2" ry="1.8" transform="rotate(91 588.7 481.0)" fill="none" stroke="#5a5a5a" stroke-width="1.06"/>
<ellipse cx="593.6" cy="422.9" rx="1.8" ry="1.3" transform="rotate(15 593.6 422.9)" fill="none" stroke="#5c5c5c" stroke-width="0.71"/>
<path d="M603.3 449.8Q604.9 453.4 606.2 453.7M622.3 470.0Q619.9 468.2 621.4 467.8M639.6 473.6Q639.8 473.6 641.4 470.0M594.1 459.1Q593.5 461.0 596.7 460.3M611.5 456.4Q608.0 456.0 607.4 453.9M607.3 443.0Q606.3 442.9 608.9 445.5M575.9 457.4Q575.1 457.9 577.9 460.8M650.1 467.2Q651.4 467.8 649.1 472.0M580.0 412.5Q578.4 413.8 577.0 412.3M608.4 419.5Q610.9 419.1 611.5 420.0M629.6 412.0Q631.6 413.6 634.0 412.3M621.8 480.8Q622.8 478.6 622.8 475.9M576.2 416.7Q576.4 416.5 575.4 412.7M612.4 466.1Q611.6 464.2 612.6 463.2M616.5 450.5Q615.8 449.8 613.5 450.2M607.1 468.8Q603.9 468.1 604.5 469.4M638.3 474.6Q639.6 475.3 640.8 473.4M599.5 450.6Q600.4 452.4 598.1 453.6M587.6 461.6Q586.8 464.1 588.5 465.3M611.3 430.7Q612.9 430.3 614.7 433.3M606.9 449.1Q607.4 447.2 604.3 449.1M636.3 411.5Q634.7 410.3 635.6 408.7M581.5 432.9Q581.5 436.1 583.6 436.5M605.4 468.7Q604.7 470.3 603.1 471.4M631.2 458.9Q632.3 461.3 630.2 461.7M609.2 473.2Q609.7 474.1 608.1 475.1M648.7 469.6Q651.7 466.9 652.3 467.9M592.0 447.7Q590.3 445.6 590.8 445.7M588.0 464.1Q586.9 462.4 588.5 460.5M618.9 410.6Q617.5 412.0 617.7 412.8M575.7 454.5Q576.3 456.6 576.1 457.0M575.8 421.5Q573.2 421.6 573.7 422.1M631.5 411.3Q634.7 410.3 634.3 409.0M602.7 449.6Q602.1 449.9 600.4 447.0M585.2 448.9Q584.8 449.3 584.3 452.8M605.2 422.0Q607.4 421.9 607.3 420.9M592.2 415.2Q591.3 415.7 592.7 417.2M599.5 458.5Q598.6 459.2 596.7 456.3M626.1 471.6Q625.3 474.7 627.9 475.6M607.0 430.7Q607.0 430.4 606.2 432.5M613.2 420.8Q612.9 421.7 609.9 420.6M642.6 412.0Q642.3 410.6 641.4 409.7M610.3 436.2Q612.7 436.8 611.4 438.0M614.5 424.9Q615.3 427.9 615.6 429.1M596.5 469.5Q597.8 469.5 598.5 466.0M603.3 451.6Q603.3 448.7 600.7 449.3M647.7 476.1Q647.8 478.1 647.1 478.4M641.7 476.4Q640.0 475.3 641.0 473.4M578.4 456.8Q576.2 457.9 576.1 460.3M588.7 466.0Q588.7 465.2 589.9 463.5M582.4 465.7Q582.1 466.0 584.7 464.0M628.3 469.2Q627.9 466.8 628.0 465.4M579.0 469.8Q579.7 468.1 581.5 469.2M576.6 421.9Q576.8 422.2 576.1 425.8M578.1 432.1Q577.4 432.2 577.9 430.1" fill="none" stroke="#4b4b4b" stroke-width="0.8" stroke-linecap="round"/>
<g transform="rotate(0 594.8 436.3)">
<ellipse cx="594.8" cy="436.3" rx="10.9" ry="10.4" fill="#707070" stroke="#232323" stroke-width="1.0"/>
<path d="M586.1 434.8L585.2 435.2M596.1 434.1L593.4 434.1M589.1 436.2L586.5 437.0M591.9 437.4L590.7 437.2M595.8 443.5L593.3 444.9M601.1 433.9L599.7 434.1M589.5 438.9L587.5 438.2M589.7 433.6L587.3 434.1M588.2 440.0L586.4 440.4M598.5 442.9L597.0 443.8M593.6 439.3L590.7 438.5M592.7 443.3L590.6 442.6M595.2 428.8L592.6 428.2M594.4 429.6L593.3 429.1M597.5 434.4L595.2 434.7M596.4 435.5L595.0 435.9M595.0 443.0L593.0 442.5M592.0 443.9L590.1 443.5M594.8 442.0L593.4 442.7M597.0 441.0L595.1 442.3M595.2 441.9L592.6 441.0M600.0 433.5L597.9 432.4M593.3 442.8L592.0 443.2M592.5 434.6L590.1 435.9M590.1 434.8L589.0 434.6M597.2 442.3L595.3 442.4M589.9 442.8L588.8 443.0M602.1 436.7L600.7 436.9M601.4 436.2L599.2 436.9M594.2 443.5L591.9 443.9M596.7 434.5L594.4 434.4M598.1 429.6L596.7 429.5M592.4 433.9L591.1 434.1M596.7 433.8L594.4 435.0M596.7 441.3L595.6 441.5M596.7 439.1L595.7 438.6M593.5 428.3L591.5 429.3M596.1 442.5L593.3 443.1M589.3 436.1L588.3 436.5M599.5 429.3L597.9 430.1M598.1 442.2L596.8 443.2M589.6 437.5L588.2 438.7" stroke="#e1e1e1" stroke-width="0.7" fill="none" stroke-linecap="round"/>
<path d="M594.9 428.1L593.5 427.3M591.5 443.2L589.2 443.3M597.1 430.9L595.6 430.3M599.6 443.4L597.6 443.7M600.2 433.6L598.9 432.9M592.7 433.8L590.9 434.0M603.6 434.1L602.2 435.1M590.5 440.3L587.8 440.8M591.2 432.4L590.1 433.1M595.9 438.5L594.0 438.6M596.3 439.0L593.6 438.5M592.2 434.3L590.1 433.5M596.3 431.7L593.6 432.3M602.4 438.2L601.1 438.6M588.4 431.0L587.4 430.8M602.8 438.2L600.6 438.9M594.4 434.4L593.0 434.4M587.3 438.6L585.9 438.7M597.4 444.5L595.5 444.5M602.2 434.5L600.1 435.4M591.8 439.0L590.7 439.3M597.0 439.3L595.7 439.9M588.1 437.8L586.7 437.4M591.6 442.4L590.7 442.9M599.8 438.9L597.2 439.2M602.4 435.5L600.9 435.4M591.5 435.2L588.5 435.0M587.8 431.3L586.6 431.0M598.1 443.5L596.0 444.8M596.0 442.5L595.0 443.3M592.5 431.8L590.8 432.7M586.7 432.8L585.7 432.3M602.7 432.0L600.7 432.5M590.8 432.8L588.8 433.5M594.3 434.0L593.1 434.8" stroke="#393939" stroke-width="0.8" fill="none" stroke-linecap="round"/>
</g>
<g transform="rotate(0 628.2 439.1)">
<ellipse cx="628.2" cy="439.1" rx="15.4" ry="14.7" fill="#5c5c5c" stroke="#1e1e1e" stroke-width="1.0"/>
<path d="M641.1 440.7L641.8 441.6M618.3 446.2L618.8 448.1M627.6 449.3L629.1 450.6M628.7 443.8L629.9 445.6M620.5 434.8L623.0 436.3M625.2 435.8L625.3 437.5M626.0 439.2L627.2 441.3M626.0 446.7L627.5 448.3M625.2 427.9L627.1 430.1M635.6 431.8L635.7 433.6M621.9 429.2L622.6 431.0M620.1 436.9L621.2 438.7M620.8 443.7L620.9 444.9M631.8 427.3L631.8 428.9M622.5 430.4L624.3 431.4M637.8 435.6L638.7 437.2M617.7 446.6L618.5 448.2M624.9 436.4L626.8 437.5M619.7 432.3L619.8 434.3M627.8 442.2L627.9 444.0M633.3 439.4L634.4 440.0M626.5 438.8L627.2 441.5M619.5 430.2L621.0 431.1M627.3 428.8L629.2 431.0M627.6 435.8L628.6 437.8M632.3 439.8L633.2 441.1M633.9 431.5L634.9 433.2M630.2 441.7L633.0 442.8M619.6 439.0L621.5 441.3M626.8 436.4L628.7 438.0M624.0 444.3L625.7 446.7M639.0 440.6L639.4 441.6M616.6 440.7L617.3 442.8M619.5 439.4L622.0 440.9M619.0 432.8L619.4 435.0M632.8 449.6L633.7 451.1M618.1 437.4L618.2 439.8M635.9 429.3L637.7 430.6M638.0 445.0L638.9 447.6M615.4 439.9L616.7 442.4M627.2 447.2L628.3 449.1M621.4 439.7L623.6 440.9M625.1 436.6L627.7 437.7M623.4 431.3L625.6 432.6M623.8 435.9L625.9 437.0M626.3 430.9L627.8 432.2M634.2 434.0L636.6 435.2M617.2 439.2L619.8 440.3M625.0 445.1L625.1 446.2M633.6 434.5L635.3 435.6M628.3 435.7L629.5 436.8M634.8 429.1L634.9 431.1M622.0 433.1L623.7 433.8M633.1 447.6L635.0 448.8M620.4 432.9L622.5 434.7M621.1 442.8L622.1 444.0M628.2 445.1L628.6 446.6M620.6 436.9L621.8 438.8M634.7 429.6L637.2 430.7M620.3 433.9L620.6 435.4M637.0 437.8L638.3 438.3M616.4 439.5L618.4 440.9M618.4 434.4L619.1 437.0M634.6 446.0L635.0 448.8M618.9 436.7L619.6 437.6M634.0 436.8L636.0 438.8M617.6 443.2L617.9 444.4M628.8 427.5L630.3 428.2M620.0 438.7L621.8 439.9M637.1 431.5L638.6 432.7M636.5 439.8L637.5 440.2M631.1 449.5L631.4 451.2M633.8 431.7L636.2 433.0M638.5 442.8L640.6 443.6M618.6 442.1L618.8 444.0M634.3 443.4L635.6 444.8M636.8 436.4L638.4 437.4M622.5 443.1L623.7 445.5M633.9 442.9L634.0 444.1M629.2 434.0L630.5 435.0M628.6 444.7L630.3 445.6M636.7 446.3L638.0 447.8M620.9 432.8L621.6 434.1M640.4 439.1L640.7 441.5" stroke="#bebebe" stroke-width="0.7" fill="none" stroke-linecap="round"/>
<path d="M625.9 435.5L627.9 436.8M639.3 435.4L639.8 437.2M632.0 429.3L633.0 431.6M630.0 429.4L630.8 430.6M624.4 436.5L626.3 437.2M633.4 428.6L634.2 430.6M633.9 436.5L634.0 438.1M627.3 441.2L627.3 444.0M620.0 443.9L620.3 445.4M628.2 433.2L630.2 434.1M619.2 433.4L621.4 435.1M627.2 431.4L627.3 433.3M622.6 443.7L623.2 445.1M618.7 431.4L619.0 432.7M626.9 441.1L628.1 443.1M617.8 441.4L618.5 443.5M636.5 433.2L636.6 434.6M625.4 433.0L625.4 435.8M627.6 438.8L628.1 440.2M632.1 432.0L633.3 432.7M640.1 440.8L640.6 442.1M629.7 433.8L632.0 434.8M618.2 432.4L619.6 433.2M622.6 429.4L623.3 430.8M619.6 444.2L622.0 445.4M633.5 429.1L635.6 430.0M619.6 442.9L621.7 443.9M635.2 433.4L636.4 435.3M633.0 431.6L633.6 434.3M626.5 438.7L626.6 439.7M628.3 437.6L628.9 438.5M637.1 446.6L638.3 448.1M625.2 429.8L625.5 431.3M630.4 448.1L630.9 449.8M639.1 436.3L641.3 437.9M640.4 436.6L641.4 438.8M637.7 439.8L638.4 442.4M631.9 444.1L632.5 446.5M624.4 428.5L625.3 429.2M629.8 433.0L631.2 433.5M636.5 431.9L636.6 433.8M637.5 441.0L638.7 443.4M630.9 432.5L631.6 433.6M620.7 443.5L622.4 444.3M631.4 439.7L632.3 440.4M620.5 448.9L622.4 450.5M637.9 433.7L638.4 434.9M631.6 433.7L632.4 435.5M629.0 443.3L630.2 444.8M618.9 437.2L620.9 438.4M631.0 450.7L632.5 451.4M620.7 431.9L621.5 432.5M625.9 434.3L626.1 436.1M624.9 447.9L626.1 449.6M635.7 441.7L636.1 443.5M640.3 437.3L642.1 439.1M630.9 446.5L632.0 447.8M623.4 434.7L624.3 436.9M623.3 439.8L624.2 442.5M620.9 432.1L621.6 434.1M628.2 434.5L629.7 436.4M618.2 431.7L620.4 432.9M625.6 431.5L627.6 432.7M616.2 435.4L616.4 436.4M631.4 441.1L632.3 442.6M631.6 444.3L632.9 445.0M625.8 441.9L627.4 443.4M627.4 433.1L628.7 433.9M622.2 438.3L624.0 439.5M626.7 432.7L629.0 433.8M631.0 428.6L631.9 429.9M634.8 435.3L635.2 436.8M625.2 444.2L626.4 445.0M634.7 439.9L635.7 440.3M629.2 433.8L629.9 436.0" stroke="#252525" stroke-width="0.8" fill="none" stroke-linecap="round"/>
</g>
<g transform="rotate(0 599.3 422.9)">
<ellipse cx="599.3" cy="422.9" rx="4.4" ry="3.3" fill="#828282" stroke="#5a5a5a" stroke-width="1.0"/>
<path d="M599.1 423.0L597.0 424.0M601.4 421.2L600.7 422.6M597.5 420.6L596.2 422.3M601.1 424.0L600.6 425.2" stroke="#b4b4b4" stroke-width="0.7" fill="none" stroke-linecap="round"/>
<path d="M598.0 421.7L596.5 423.0M599.2 420.2L597.0 420.6" stroke="#4b4b4b" stroke-width="0.8" fill="none" stroke-linecap="round"/>
</g>
<g transform="rotate(-20 619.4 459.7)">
<ellipse cx="619.4" cy="459.7" rx="6.4" ry="3.7" fill="#828282" stroke="#464646" stroke-width="1.0"/>
<path d="M620.1 460.8L618.5 462.6M614.3 459.0L613.8 460.4M616.4 459.7L614.7 461.4M623.5 460.8L621.1 461.9M617.9 457.6L617.1 459.0" stroke="#b4b4b4" stroke-width="0.7" fill="none" stroke-linecap="round"/>
<path d="M621.2 459.1L620.7 460.9M618.9 457.7L618.1 458.6M622.1 459.9L620.5 461.6" stroke="#4b4b4b" stroke-width="0.8" fill="none" stroke-linecap="round"/>
</g>
<ellipse cx="615.2" cy="468.9" rx="2.5" ry="2.3" transform="rotate(0 615.2 468.9)" fill="#5a5a5a"/>
<ellipse cx="575.9" cy="442.2" rx="1.3" ry="5.0" transform="rotate(0 575.9 442.2)" fill="#3c3c3c"/>
<ellipse cx="641.9" cy="463.9" rx="4.7" ry="8.4" transform="rotate(10 641.9 463.9)" fill="#bebebe" stroke="#464646" stroke-width="1.0"/>
</g>
<text x="488.9" y="287.1" font-size="13.1" text-anchor="end" >NDS</text>
<text x="406.5" y="369.7" font-size="13.1" text-anchor="end" >NDO</text>
<text x="406.5" y="450.3" font-size="13.1" text-anchor="end" >HFO</text>
<text x="451.8" y="496.6" font-size="13.1" text-anchor="middle" >Vehicle</text>
<text x="529.9" y="496.6" font-size="13.1" text-anchor="middle" >Estrogen</text>
<text x="613.5" y="496.6" font-size="13.1" text-anchor="middle" >Vildagliptin</text>
</svg></body></html>
